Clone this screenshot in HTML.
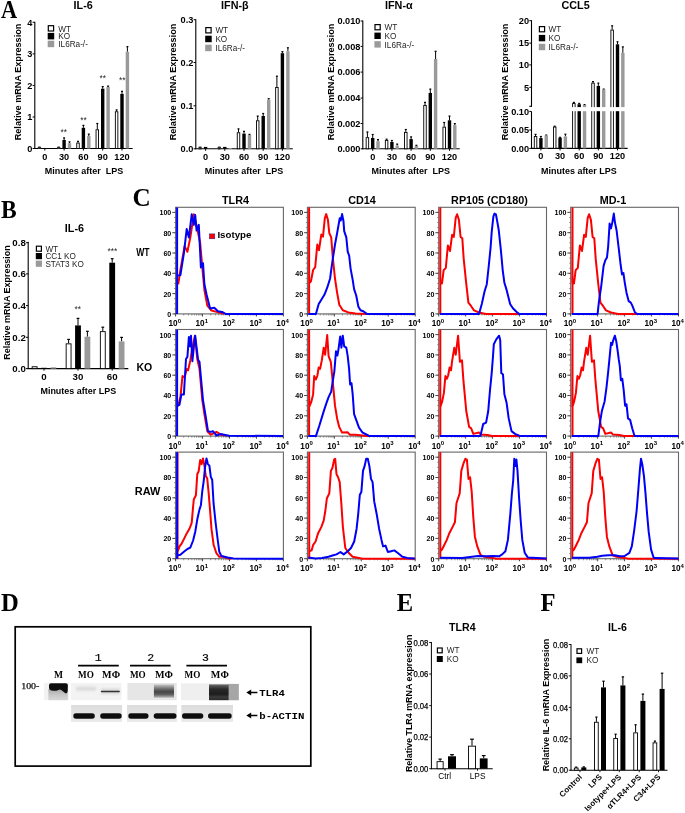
<!DOCTYPE html>
<html><head><meta charset="utf-8"><title>Figure</title>
<style>html,body{margin:0;padding:0;background:#fff;} svg{display:block;will-change:transform;}</style>
</head><body>
<svg width="685" height="813" viewBox="0 0 685 813">
<defs><filter id="gblur" x="0" y="0" width="100%" height="100%"><feGaussianBlur stdDeviation="0.35"/></filter></defs><g filter="url(#gblur)"><rect x="0" y="0" width="685" height="813" fill="#fff"/>
<text transform="translate(1.00 17.90) scale(0.86 1)" x="0" y="0" font-size="26" font-family='"Liberation Serif", serif' font-weight="bold">A</text>
<line x1="34.80" y1="21.80" x2="34.80" y2="149.00" stroke="#000" stroke-width="1.1" />
<line x1="34.30" y1="148.50" x2="132.70" y2="148.50" stroke="#000" stroke-width="1.1" />
<line x1="32.60" y1="22.30" x2="34.80" y2="22.30" stroke="#000" stroke-width="1.0" />
<text x="32.40" y="25.59" font-size="9.2" font-family='"Liberation Sans", sans-serif' font-weight="bold" text-anchor="end" fill="#000" >4</text>
<line x1="32.60" y1="53.90" x2="34.80" y2="53.90" stroke="#000" stroke-width="1.0" />
<text x="32.40" y="57.19" font-size="9.2" font-family='"Liberation Sans", sans-serif' font-weight="bold" text-anchor="end" fill="#000" >3</text>
<line x1="32.60" y1="85.40" x2="34.80" y2="85.40" stroke="#000" stroke-width="1.0" />
<text x="32.40" y="88.69" font-size="9.2" font-family='"Liberation Sans", sans-serif' font-weight="bold" text-anchor="end" fill="#000" >2</text>
<line x1="32.60" y1="117.00" x2="34.80" y2="117.00" stroke="#000" stroke-width="1.0" />
<text x="32.40" y="120.29" font-size="9.2" font-family='"Liberation Sans", sans-serif' font-weight="bold" text-anchor="end" fill="#000" >1</text>
<line x1="32.60" y1="148.50" x2="34.80" y2="148.50" stroke="#000" stroke-width="1.0" />
<text x="32.40" y="151.79" font-size="9.2" font-family='"Liberation Sans", sans-serif' font-weight="bold" text-anchor="end" fill="#000" >0</text>
<line x1="44.80" y1="148.50" x2="44.80" y2="150.50" stroke="#000" stroke-width="1.0" />
<text x="44.80" y="159.50" font-size="9.2" font-family='"Liberation Sans", sans-serif' font-weight="bold" text-anchor="middle" fill="#000" >0</text>
<line x1="64.10" y1="148.50" x2="64.10" y2="150.50" stroke="#000" stroke-width="1.0" />
<text x="64.10" y="159.50" font-size="9.2" font-family='"Liberation Sans", sans-serif' font-weight="bold" text-anchor="middle" fill="#000" >30</text>
<line x1="83.40" y1="148.50" x2="83.40" y2="150.50" stroke="#000" stroke-width="1.0" />
<text x="83.40" y="159.50" font-size="9.2" font-family='"Liberation Sans", sans-serif' font-weight="bold" text-anchor="middle" fill="#000" >60</text>
<line x1="102.70" y1="148.50" x2="102.70" y2="150.50" stroke="#000" stroke-width="1.0" />
<text x="102.70" y="159.50" font-size="9.2" font-family='"Liberation Sans", sans-serif' font-weight="bold" text-anchor="middle" fill="#000" >90</text>
<line x1="122.00" y1="148.50" x2="122.00" y2="150.50" stroke="#000" stroke-width="1.0" />
<text x="122.00" y="159.50" font-size="9.2" font-family='"Liberation Sans", sans-serif' font-weight="bold" text-anchor="middle" fill="#000" >120</text>
<rect x="37.70" y="146.40" width="3.40" height="2.70" rx="1.20" fill="#2a2a2a"/>
<rect x="43.10" y="148.00" width="3.40" height="0.50" fill="#000" stroke="none" stroke-width="0" />
<rect x="57.00" y="146.40" width="3.40" height="2.70" rx="1.20" fill="#2a2a2a"/>
<line x1="64.10" y1="137.80" x2="64.10" y2="140.00" stroke="#000" stroke-width="1.0" />
<line x1="63.10" y1="137.90" x2="65.10" y2="137.90" stroke="#000" stroke-width="1.2" />
<rect x="62.40" y="140.00" width="3.40" height="8.50" fill="#000" stroke="none" stroke-width="0" />
<line x1="69.50" y1="141.80" x2="69.50" y2="143.20" stroke="#000" stroke-width="1.0" />
<line x1="68.50" y1="141.90" x2="70.50" y2="141.90" stroke="#000" stroke-width="1.2" />
<rect x="67.80" y="143.20" width="3.40" height="5.30" fill="#9a9a9a" stroke="none" stroke-width="0" />
<line x1="78.00" y1="141.30" x2="78.00" y2="142.60" stroke="#000" stroke-width="1.0" />
<line x1="77.00" y1="141.40" x2="79.00" y2="141.40" stroke="#000" stroke-width="1.2" />
<rect x="76.75" y="143.05" width="2.50" height="5.45" fill="#fff" stroke="#000" stroke-width="0.9" />
<line x1="83.40" y1="125.30" x2="83.40" y2="127.80" stroke="#000" stroke-width="1.0" />
<line x1="82.40" y1="125.40" x2="84.40" y2="125.40" stroke="#000" stroke-width="1.2" />
<rect x="81.70" y="127.80" width="3.40" height="20.70" fill="#000" stroke="none" stroke-width="0" />
<line x1="88.80" y1="134.00" x2="88.80" y2="136.00" stroke="#000" stroke-width="1.0" />
<line x1="87.80" y1="134.10" x2="89.80" y2="134.10" stroke="#000" stroke-width="1.2" />
<rect x="87.10" y="136.00" width="3.40" height="12.50" fill="#9a9a9a" stroke="none" stroke-width="0" />
<line x1="97.30" y1="123.40" x2="97.30" y2="129.30" stroke="#000" stroke-width="1.0" />
<line x1="96.30" y1="123.50" x2="98.30" y2="123.50" stroke="#000" stroke-width="1.2" />
<rect x="96.05" y="129.75" width="2.50" height="18.75" fill="#fff" stroke="#000" stroke-width="0.9" />
<line x1="102.70" y1="86.50" x2="102.70" y2="88.70" stroke="#000" stroke-width="1.0" />
<line x1="101.70" y1="86.60" x2="103.70" y2="86.60" stroke="#000" stroke-width="1.2" />
<rect x="101.00" y="88.70" width="3.40" height="59.80" fill="#000" stroke="none" stroke-width="0" />
<line x1="108.10" y1="86.00" x2="108.10" y2="87.00" stroke="#000" stroke-width="1.0" />
<line x1="107.10" y1="86.10" x2="109.10" y2="86.10" stroke="#000" stroke-width="1.2" />
<rect x="106.40" y="87.00" width="3.40" height="61.50" fill="#9a9a9a" stroke="none" stroke-width="0" />
<line x1="116.60" y1="109.80" x2="116.60" y2="111.30" stroke="#000" stroke-width="1.0" />
<line x1="115.60" y1="109.90" x2="117.60" y2="109.90" stroke="#000" stroke-width="1.2" />
<rect x="115.35" y="111.75" width="2.50" height="36.75" fill="#fff" stroke="#000" stroke-width="0.9" />
<line x1="122.00" y1="91.30" x2="122.00" y2="93.90" stroke="#000" stroke-width="1.0" />
<line x1="121.00" y1="91.40" x2="123.00" y2="91.40" stroke="#000" stroke-width="1.2" />
<rect x="120.30" y="93.90" width="3.40" height="54.60" fill="#000" stroke="none" stroke-width="0" />
<line x1="127.40" y1="46.60" x2="127.40" y2="51.80" stroke="#000" stroke-width="1.0" />
<line x1="126.40" y1="46.70" x2="128.40" y2="46.70" stroke="#000" stroke-width="1.2" />
<rect x="125.70" y="51.80" width="3.40" height="96.70" fill="#9a9a9a" stroke="none" stroke-width="0" />
<text x="83.20" y="8.70" font-size="10.8" font-family='"Liberation Sans", sans-serif' font-weight="bold" text-anchor="middle" fill="#000" >IL-6</text>
<rect x="48.30" y="25.70" width="5.30" height="5.30" fill="#fff" stroke="#000" stroke-width="1.2" />
<text x="58.30" y="31.50" font-size="8.2" font-family='"Liberation Sans", sans-serif' font-weight="normal" text-anchor="start" fill="#1e1e1e" >WT</text>
<rect x="47.70" y="32.90" width="6.50" height="6.50" fill="#000" stroke="none" stroke-width="0" />
<text x="58.30" y="39.30" font-size="8.2" font-family='"Liberation Sans", sans-serif' font-weight="normal" text-anchor="start" fill="#1e1e1e" >KO</text>
<rect x="47.70" y="40.70" width="6.50" height="6.50" fill="#9a9a9a" stroke="none" stroke-width="0" />
<text x="58.30" y="47.10" font-size="8.2" font-family='"Liberation Sans", sans-serif' font-weight="normal" text-anchor="start" fill="#1e1e1e" >IL6Ra-/-</text>
<text x="63.80" y="134.80" font-size="8.4" font-family='"Liberation Sans", sans-serif' font-weight="normal" text-anchor="middle" fill="#222" >**</text>
<text x="83.60" y="122.50" font-size="8.4" font-family='"Liberation Sans", sans-serif' font-weight="normal" text-anchor="middle" fill="#222" >**</text>
<text x="102.80" y="80.60" font-size="8.4" font-family='"Liberation Sans", sans-serif' font-weight="normal" text-anchor="middle" fill="#222" >**</text>
<text x="122.20" y="82.50" font-size="8.4" font-family='"Liberation Sans", sans-serif' font-weight="normal" text-anchor="middle" fill="#222" >**</text>
<text x="84.00" y="174.30" font-size="8.6" font-family='"Liberation Sans", sans-serif' font-weight="bold" text-anchor="middle" fill="#000" textLength="78.6" lengthAdjust="spacingAndGlyphs" >Minutes after&#160;&#160;LPS</text>
<text x="21.20" y="82.00" font-size="8.6" font-family='"Liberation Sans", sans-serif' font-weight="bold" text-anchor="middle" fill="#000" textLength="116.6" lengthAdjust="spacingAndGlyphs" transform="rotate(-90 21.20 82.00)" >Relative mRNA Expression</text>
<line x1="195.80" y1="19.20" x2="195.80" y2="149.30" stroke="#000" stroke-width="1.1" />
<line x1="195.30" y1="148.80" x2="292.80" y2="148.80" stroke="#000" stroke-width="1.1" />
<line x1="193.60" y1="19.70" x2="195.80" y2="19.70" stroke="#000" stroke-width="1.0" />
<text x="193.40" y="22.99" font-size="9.2" font-family='"Liberation Sans", sans-serif' font-weight="bold" text-anchor="end" fill="#000" >0.3</text>
<line x1="193.60" y1="62.50" x2="195.80" y2="62.50" stroke="#000" stroke-width="1.0" />
<text x="193.40" y="65.79" font-size="9.2" font-family='"Liberation Sans", sans-serif' font-weight="bold" text-anchor="end" fill="#000" >0.2</text>
<line x1="193.60" y1="105.80" x2="195.80" y2="105.80" stroke="#000" stroke-width="1.0" />
<text x="193.40" y="109.09" font-size="9.2" font-family='"Liberation Sans", sans-serif' font-weight="bold" text-anchor="end" fill="#000" >0.1</text>
<line x1="193.60" y1="148.80" x2="195.80" y2="148.80" stroke="#000" stroke-width="1.0" />
<text x="193.40" y="152.09" font-size="9.2" font-family='"Liberation Sans", sans-serif' font-weight="bold" text-anchor="end" fill="#000" >0.0</text>
<line x1="205.60" y1="148.80" x2="205.60" y2="150.80" stroke="#000" stroke-width="1.0" />
<text x="205.60" y="159.80" font-size="9.2" font-family='"Liberation Sans", sans-serif' font-weight="bold" text-anchor="middle" fill="#000" >0</text>
<line x1="224.80" y1="148.80" x2="224.80" y2="150.80" stroke="#000" stroke-width="1.0" />
<text x="224.80" y="159.80" font-size="9.2" font-family='"Liberation Sans", sans-serif' font-weight="bold" text-anchor="middle" fill="#000" >30</text>
<line x1="244.00" y1="148.80" x2="244.00" y2="150.80" stroke="#000" stroke-width="1.0" />
<text x="244.00" y="159.80" font-size="9.2" font-family='"Liberation Sans", sans-serif' font-weight="bold" text-anchor="middle" fill="#000" >60</text>
<line x1="263.20" y1="148.80" x2="263.20" y2="150.80" stroke="#000" stroke-width="1.0" />
<text x="263.20" y="159.80" font-size="9.2" font-family='"Liberation Sans", sans-serif' font-weight="bold" text-anchor="middle" fill="#000" >90</text>
<line x1="282.40" y1="148.80" x2="282.40" y2="150.80" stroke="#000" stroke-width="1.0" />
<text x="282.40" y="159.80" font-size="9.2" font-family='"Liberation Sans", sans-serif' font-weight="bold" text-anchor="middle" fill="#000" >120</text>
<rect x="198.40" y="146.40" width="3.40" height="3.00" rx="1.20" fill="#2a2a2a"/>
<rect x="203.90" y="146.90" width="3.40" height="1.90" fill="#000" stroke="none" stroke-width="0" />
<rect x="217.60" y="146.40" width="3.40" height="3.00" rx="1.20" fill="#2a2a2a"/>
<rect x="223.10" y="146.90" width="3.40" height="1.90" fill="#000" stroke="none" stroke-width="0" />
<rect x="228.60" y="148.00" width="3.40" height="0.80" fill="#9a9a9a" stroke="none" stroke-width="0" />
<line x1="238.50" y1="128.80" x2="238.50" y2="132.30" stroke="#000" stroke-width="1.0" />
<line x1="237.50" y1="128.90" x2="239.50" y2="128.90" stroke="#000" stroke-width="1.2" />
<rect x="237.25" y="132.75" width="2.50" height="16.05" fill="#fff" stroke="#000" stroke-width="0.9" />
<line x1="244.00" y1="131.20" x2="244.00" y2="133.60" stroke="#000" stroke-width="1.0" />
<line x1="243.00" y1="131.30" x2="245.00" y2="131.30" stroke="#000" stroke-width="1.2" />
<rect x="242.30" y="133.60" width="3.40" height="15.20" fill="#000" stroke="none" stroke-width="0" />
<line x1="249.50" y1="134.30" x2="249.50" y2="135.00" stroke="#000" stroke-width="1.0" />
<line x1="248.50" y1="134.40" x2="250.50" y2="134.40" stroke="#000" stroke-width="1.2" />
<rect x="247.80" y="135.00" width="3.40" height="13.80" fill="#9a9a9a" stroke="none" stroke-width="0" />
<line x1="257.70" y1="116.00" x2="257.70" y2="120.30" stroke="#000" stroke-width="1.0" />
<line x1="256.70" y1="116.10" x2="258.70" y2="116.10" stroke="#000" stroke-width="1.2" />
<rect x="256.45" y="120.75" width="2.50" height="28.05" fill="#fff" stroke="#000" stroke-width="0.9" />
<line x1="263.20" y1="113.40" x2="263.20" y2="116.00" stroke="#000" stroke-width="1.0" />
<line x1="262.20" y1="113.50" x2="264.20" y2="113.50" stroke="#000" stroke-width="1.2" />
<rect x="261.50" y="116.00" width="3.40" height="32.80" fill="#000" stroke="none" stroke-width="0" />
<line x1="268.70" y1="98.60" x2="268.70" y2="99.70" stroke="#000" stroke-width="1.0" />
<line x1="267.70" y1="98.70" x2="269.70" y2="98.70" stroke="#000" stroke-width="1.2" />
<rect x="267.00" y="99.70" width="3.40" height="49.10" fill="#9a9a9a" stroke="none" stroke-width="0" />
<line x1="276.90" y1="76.10" x2="276.90" y2="87.00" stroke="#000" stroke-width="1.0" />
<line x1="275.90" y1="76.20" x2="277.90" y2="76.20" stroke="#000" stroke-width="1.2" />
<rect x="275.65" y="87.45" width="2.50" height="61.35" fill="#fff" stroke="#000" stroke-width="0.9" />
<line x1="282.40" y1="51.60" x2="282.40" y2="53.20" stroke="#000" stroke-width="1.0" />
<line x1="281.40" y1="51.70" x2="283.40" y2="51.70" stroke="#000" stroke-width="1.2" />
<rect x="280.70" y="53.20" width="3.40" height="95.60" fill="#000" stroke="none" stroke-width="0" />
<line x1="287.90" y1="47.70" x2="287.90" y2="51.20" stroke="#000" stroke-width="1.0" />
<line x1="286.90" y1="47.80" x2="288.90" y2="47.80" stroke="#000" stroke-width="1.2" />
<rect x="286.20" y="51.20" width="3.40" height="97.60" fill="#9a9a9a" stroke="none" stroke-width="0" />
<text x="234.90" y="8.70" font-size="10.8" font-family='"Liberation Sans", sans-serif' font-weight="bold" text-anchor="middle" fill="#000" >IFN-β</text>
<rect x="205.80" y="27.60" width="5.30" height="5.30" fill="#fff" stroke="#000" stroke-width="1.2" />
<text x="215.40" y="33.40" font-size="8.2" font-family='"Liberation Sans", sans-serif' font-weight="normal" text-anchor="start" fill="#1e1e1e" >WT</text>
<rect x="205.20" y="35.70" width="6.50" height="6.50" fill="#000" stroke="none" stroke-width="0" />
<text x="215.40" y="42.10" font-size="8.2" font-family='"Liberation Sans", sans-serif' font-weight="normal" text-anchor="start" fill="#1e1e1e" >KO</text>
<rect x="205.20" y="44.70" width="6.50" height="6.50" fill="#9a9a9a" stroke="none" stroke-width="0" />
<text x="215.40" y="51.10" font-size="8.2" font-family='"Liberation Sans", sans-serif' font-weight="normal" text-anchor="start" fill="#1e1e1e" >IL6Ra-/-</text>
<text x="244.00" y="174.30" font-size="8.6" font-family='"Liberation Sans", sans-serif' font-weight="bold" text-anchor="middle" fill="#000" textLength="78.6" lengthAdjust="spacingAndGlyphs" >Minutes after&#160;&#160;LPS</text>
<text x="176.00" y="82.00" font-size="8.6" font-family='"Liberation Sans", sans-serif' font-weight="bold" text-anchor="middle" fill="#000" textLength="116.6" lengthAdjust="spacingAndGlyphs" transform="rotate(-90 176.00 82.00)" >Relative mRNA Expression</text>
<line x1="362.80" y1="20.50" x2="362.80" y2="149.30" stroke="#000" stroke-width="1.1" />
<line x1="362.30" y1="148.80" x2="459.70" y2="148.80" stroke="#000" stroke-width="1.1" />
<line x1="360.60" y1="21.00" x2="362.80" y2="21.00" stroke="#000" stroke-width="1.0" />
<text x="360.40" y="24.29" font-size="9.2" font-family='"Liberation Sans", sans-serif' font-weight="bold" text-anchor="end" fill="#000" >0.010</text>
<line x1="360.60" y1="46.40" x2="362.80" y2="46.40" stroke="#000" stroke-width="1.0" />
<text x="360.40" y="49.69" font-size="9.2" font-family='"Liberation Sans", sans-serif' font-weight="bold" text-anchor="end" fill="#000" >0.008</text>
<line x1="360.60" y1="72.10" x2="362.80" y2="72.10" stroke="#000" stroke-width="1.0" />
<text x="360.40" y="75.39" font-size="9.2" font-family='"Liberation Sans", sans-serif' font-weight="bold" text-anchor="end" fill="#000" >0.006</text>
<line x1="360.60" y1="98.10" x2="362.80" y2="98.10" stroke="#000" stroke-width="1.0" />
<text x="360.40" y="101.39" font-size="9.2" font-family='"Liberation Sans", sans-serif' font-weight="bold" text-anchor="end" fill="#000" >0.004</text>
<line x1="360.60" y1="123.50" x2="362.80" y2="123.50" stroke="#000" stroke-width="1.0" />
<text x="360.40" y="126.79" font-size="9.2" font-family='"Liberation Sans", sans-serif' font-weight="bold" text-anchor="end" fill="#000" >0.002</text>
<line x1="360.60" y1="148.80" x2="362.80" y2="148.80" stroke="#000" stroke-width="1.0" />
<text x="360.40" y="152.09" font-size="9.2" font-family='"Liberation Sans", sans-serif' font-weight="bold" text-anchor="end" fill="#000" >0.000</text>
<line x1="372.70" y1="148.80" x2="372.70" y2="150.80" stroke="#000" stroke-width="1.0" />
<text x="372.70" y="159.80" font-size="9.2" font-family='"Liberation Sans", sans-serif' font-weight="bold" text-anchor="middle" fill="#000" >0</text>
<line x1="391.90" y1="148.80" x2="391.90" y2="150.80" stroke="#000" stroke-width="1.0" />
<text x="391.90" y="159.80" font-size="9.2" font-family='"Liberation Sans", sans-serif' font-weight="bold" text-anchor="middle" fill="#000" >30</text>
<line x1="411.10" y1="148.80" x2="411.10" y2="150.80" stroke="#000" stroke-width="1.0" />
<text x="411.10" y="159.80" font-size="9.2" font-family='"Liberation Sans", sans-serif' font-weight="bold" text-anchor="middle" fill="#000" >60</text>
<line x1="430.30" y1="148.80" x2="430.30" y2="150.80" stroke="#000" stroke-width="1.0" />
<text x="430.30" y="159.80" font-size="9.2" font-family='"Liberation Sans", sans-serif' font-weight="bold" text-anchor="middle" fill="#000" >90</text>
<line x1="449.50" y1="148.80" x2="449.50" y2="150.80" stroke="#000" stroke-width="1.0" />
<text x="449.50" y="159.80" font-size="9.2" font-family='"Liberation Sans", sans-serif' font-weight="bold" text-anchor="middle" fill="#000" >120</text>
<line x1="367.40" y1="131.90" x2="367.40" y2="137.20" stroke="#000" stroke-width="1.0" />
<line x1="366.40" y1="132.00" x2="368.40" y2="132.00" stroke="#000" stroke-width="1.2" />
<rect x="366.15" y="137.65" width="2.50" height="11.15" fill="#fff" stroke="#000" stroke-width="0.9" />
<line x1="372.70" y1="134.40" x2="372.70" y2="138.00" stroke="#000" stroke-width="1.0" />
<line x1="371.70" y1="134.50" x2="373.70" y2="134.50" stroke="#000" stroke-width="1.2" />
<rect x="371.00" y="138.00" width="3.40" height="10.80" fill="#000" stroke="none" stroke-width="0" />
<line x1="378.00" y1="139.60" x2="378.00" y2="141.20" stroke="#000" stroke-width="1.0" />
<line x1="377.00" y1="139.70" x2="379.00" y2="139.70" stroke="#000" stroke-width="1.2" />
<rect x="376.30" y="141.20" width="3.40" height="7.60" fill="#9a9a9a" stroke="none" stroke-width="0" />
<line x1="386.60" y1="139.10" x2="386.60" y2="139.90" stroke="#000" stroke-width="1.0" />
<line x1="385.60" y1="139.20" x2="387.60" y2="139.20" stroke="#000" stroke-width="1.2" />
<rect x="385.35" y="140.35" width="2.50" height="8.45" fill="#fff" stroke="#000" stroke-width="0.9" />
<line x1="391.90" y1="140.40" x2="391.90" y2="142.00" stroke="#000" stroke-width="1.0" />
<line x1="390.90" y1="140.50" x2="392.90" y2="140.50" stroke="#000" stroke-width="1.2" />
<rect x="390.20" y="142.00" width="3.40" height="6.80" fill="#000" stroke="none" stroke-width="0" />
<line x1="397.20" y1="144.00" x2="397.20" y2="145.70" stroke="#000" stroke-width="1.0" />
<line x1="396.20" y1="144.10" x2="398.20" y2="144.10" stroke="#000" stroke-width="1.2" />
<rect x="395.50" y="145.70" width="3.40" height="3.10" fill="#9a9a9a" stroke="none" stroke-width="0" />
<line x1="405.80" y1="129.40" x2="405.80" y2="131.90" stroke="#000" stroke-width="1.0" />
<line x1="404.80" y1="129.50" x2="406.80" y2="129.50" stroke="#000" stroke-width="1.2" />
<rect x="404.55" y="132.35" width="2.50" height="16.45" fill="#fff" stroke="#000" stroke-width="0.9" />
<line x1="411.10" y1="136.80" x2="411.10" y2="139.10" stroke="#000" stroke-width="1.0" />
<line x1="410.10" y1="136.90" x2="412.10" y2="136.90" stroke="#000" stroke-width="1.2" />
<rect x="409.40" y="139.10" width="3.40" height="9.70" fill="#000" stroke="none" stroke-width="0" />
<line x1="416.40" y1="145.20" x2="416.40" y2="146.00" stroke="#000" stroke-width="1.0" />
<line x1="415.40" y1="145.30" x2="417.40" y2="145.30" stroke="#000" stroke-width="1.2" />
<rect x="414.70" y="146.00" width="3.40" height="2.80" fill="#9a9a9a" stroke="none" stroke-width="0" />
<line x1="425.00" y1="102.30" x2="425.00" y2="105.00" stroke="#000" stroke-width="1.0" />
<line x1="424.00" y1="102.40" x2="426.00" y2="102.40" stroke="#000" stroke-width="1.2" />
<rect x="423.75" y="105.45" width="2.50" height="43.35" fill="#fff" stroke="#000" stroke-width="0.9" />
<line x1="430.30" y1="89.00" x2="430.30" y2="93.00" stroke="#000" stroke-width="1.0" />
<line x1="429.30" y1="89.10" x2="431.30" y2="89.10" stroke="#000" stroke-width="1.2" />
<rect x="428.60" y="93.00" width="3.40" height="55.80" fill="#000" stroke="none" stroke-width="0" />
<line x1="435.60" y1="51.20" x2="435.60" y2="59.00" stroke="#000" stroke-width="1.0" />
<line x1="434.60" y1="51.30" x2="436.60" y2="51.30" stroke="#000" stroke-width="1.2" />
<rect x="433.90" y="59.00" width="3.40" height="89.80" fill="#9a9a9a" stroke="none" stroke-width="0" />
<line x1="444.20" y1="122.40" x2="444.20" y2="126.70" stroke="#000" stroke-width="1.0" />
<line x1="443.20" y1="122.50" x2="445.20" y2="122.50" stroke="#000" stroke-width="1.2" />
<rect x="442.95" y="127.15" width="2.50" height="21.65" fill="#fff" stroke="#000" stroke-width="0.9" />
<line x1="449.50" y1="116.00" x2="449.50" y2="120.30" stroke="#000" stroke-width="1.0" />
<line x1="448.50" y1="116.10" x2="450.50" y2="116.10" stroke="#000" stroke-width="1.2" />
<rect x="447.80" y="120.30" width="3.40" height="28.50" fill="#000" stroke="none" stroke-width="0" />
<line x1="454.80" y1="123.50" x2="454.80" y2="125.10" stroke="#000" stroke-width="1.0" />
<line x1="453.80" y1="123.60" x2="455.80" y2="123.60" stroke="#000" stroke-width="1.2" />
<rect x="453.10" y="125.10" width="3.40" height="23.70" fill="#9a9a9a" stroke="none" stroke-width="0" />
<text x="398.80" y="8.70" font-size="10.8" font-family='"Liberation Sans", sans-serif' font-weight="bold" text-anchor="middle" fill="#000" >IFN-α</text>
<rect x="375.00" y="24.60" width="5.20" height="5.20" fill="#fff" stroke="#000" stroke-width="1.2" />
<text x="384.60" y="30.30" font-size="8.2" font-family='"Liberation Sans", sans-serif' font-weight="normal" text-anchor="start" fill="#1e1e1e" >WT</text>
<rect x="374.40" y="32.60" width="6.40" height="6.40" fill="#000" stroke="none" stroke-width="0" />
<text x="384.60" y="38.90" font-size="8.2" font-family='"Liberation Sans", sans-serif' font-weight="normal" text-anchor="start" fill="#1e1e1e" >KO</text>
<rect x="374.40" y="41.20" width="6.40" height="6.40" fill="#9a9a9a" stroke="none" stroke-width="0" />
<text x="384.60" y="47.50" font-size="8.2" font-family='"Liberation Sans", sans-serif' font-weight="normal" text-anchor="start" fill="#1e1e1e" >IL6Ra-/-</text>
<text x="410.80" y="174.30" font-size="8.6" font-family='"Liberation Sans", sans-serif' font-weight="bold" text-anchor="middle" fill="#000" textLength="78.6" lengthAdjust="spacingAndGlyphs" >Minutes after&#160;&#160;LPS</text>
<text x="334.20" y="82.00" font-size="8.6" font-family='"Liberation Sans", sans-serif' font-weight="bold" text-anchor="middle" fill="#000" textLength="116.6" lengthAdjust="spacingAndGlyphs" transform="rotate(-90 334.20 82.00)" >Relative mRNA Expression</text>
<line x1="531.50" y1="20.20" x2="531.50" y2="106.60" stroke="#000" stroke-width="1.1" />
<line x1="531.50" y1="111.40" x2="531.50" y2="148.90" stroke="#000" stroke-width="1.1" />
<line x1="529.30" y1="106.30" x2="532.00" y2="106.30" stroke="#000" stroke-width="1.1" />
<line x1="531.00" y1="148.40" x2="627.60" y2="148.40" stroke="#000" stroke-width="1.1" />
<line x1="529.30" y1="20.70" x2="531.50" y2="20.70" stroke="#000" stroke-width="1.0" />
<text x="529.10" y="24.00" font-size="9.2" font-family='"Liberation Sans", sans-serif' font-weight="bold" text-anchor="end" fill="#000" >20</text>
<line x1="529.30" y1="43.10" x2="531.50" y2="43.10" stroke="#000" stroke-width="1.0" />
<text x="529.10" y="46.40" font-size="9.2" font-family='"Liberation Sans", sans-serif' font-weight="bold" text-anchor="end" fill="#000" >15</text>
<line x1="529.30" y1="64.90" x2="531.50" y2="64.90" stroke="#000" stroke-width="1.0" />
<text x="529.10" y="68.20" font-size="9.2" font-family='"Liberation Sans", sans-serif' font-weight="bold" text-anchor="end" fill="#000" >10</text>
<line x1="529.30" y1="87.30" x2="531.50" y2="87.30" stroke="#000" stroke-width="1.0" />
<text x="529.10" y="90.60" font-size="9.2" font-family='"Liberation Sans", sans-serif' font-weight="bold" text-anchor="end" fill="#000" >5</text>
<line x1="529.30" y1="111.40" x2="531.50" y2="111.40" stroke="#000" stroke-width="1.0" />
<text x="529.10" y="114.70" font-size="9.2" font-family='"Liberation Sans", sans-serif' font-weight="bold" text-anchor="end" fill="#000" >0.10</text>
<line x1="529.30" y1="130.00" x2="531.50" y2="130.00" stroke="#000" stroke-width="1.0" />
<text x="529.10" y="133.30" font-size="9.2" font-family='"Liberation Sans", sans-serif' font-weight="bold" text-anchor="end" fill="#000" >0.05</text>
<line x1="529.30" y1="148.40" x2="531.50" y2="148.40" stroke="#000" stroke-width="1.0" />
<text x="529.10" y="151.70" font-size="9.2" font-family='"Liberation Sans", sans-serif' font-weight="bold" text-anchor="end" fill="#000" >0.00</text>
<line x1="540.90" y1="148.40" x2="540.90" y2="150.40" stroke="#000" stroke-width="1.0" />
<text x="540.90" y="159.40" font-size="9.2" font-family='"Liberation Sans", sans-serif' font-weight="bold" text-anchor="middle" fill="#000" >0</text>
<line x1="560.05" y1="148.40" x2="560.05" y2="150.40" stroke="#000" stroke-width="1.0" />
<text x="560.05" y="159.40" font-size="9.2" font-family='"Liberation Sans", sans-serif' font-weight="bold" text-anchor="middle" fill="#000" >30</text>
<line x1="579.20" y1="148.40" x2="579.20" y2="150.40" stroke="#000" stroke-width="1.0" />
<text x="579.20" y="159.40" font-size="9.2" font-family='"Liberation Sans", sans-serif' font-weight="bold" text-anchor="middle" fill="#000" >60</text>
<line x1="598.35" y1="148.40" x2="598.35" y2="150.40" stroke="#000" stroke-width="1.0" />
<text x="598.35" y="159.40" font-size="9.2" font-family='"Liberation Sans", sans-serif' font-weight="bold" text-anchor="middle" fill="#000" >90</text>
<line x1="617.50" y1="148.40" x2="617.50" y2="150.40" stroke="#000" stroke-width="1.0" />
<text x="617.50" y="159.40" font-size="9.2" font-family='"Liberation Sans", sans-serif' font-weight="bold" text-anchor="middle" fill="#000" >120</text>
<line x1="535.55" y1="134.30" x2="535.55" y2="136.00" stroke="#000" stroke-width="1.0" />
<line x1="534.55" y1="134.40" x2="536.55" y2="134.40" stroke="#000" stroke-width="1.2" />
<rect x="534.30" y="136.45" width="2.50" height="11.95" fill="#fff" stroke="#000" stroke-width="0.9" />
<line x1="540.90" y1="136.40" x2="540.90" y2="138.10" stroke="#000" stroke-width="1.0" />
<line x1="539.90" y1="136.50" x2="541.90" y2="136.50" stroke="#000" stroke-width="1.2" />
<rect x="539.20" y="138.10" width="3.40" height="10.30" fill="#000" stroke="none" stroke-width="0" />
<line x1="546.25" y1="135.00" x2="546.25" y2="135.50" stroke="#000" stroke-width="1.0" />
<line x1="545.25" y1="135.10" x2="547.25" y2="135.10" stroke="#000" stroke-width="1.2" />
<rect x="544.55" y="135.50" width="3.40" height="12.90" fill="#9a9a9a" stroke="none" stroke-width="0" />
<line x1="554.70" y1="126.10" x2="554.70" y2="126.60" stroke="#000" stroke-width="1.0" />
<line x1="553.70" y1="126.20" x2="555.70" y2="126.20" stroke="#000" stroke-width="1.2" />
<rect x="553.45" y="127.05" width="2.50" height="21.35" fill="#fff" stroke="#000" stroke-width="0.9" />
<line x1="560.05" y1="137.20" x2="560.05" y2="137.70" stroke="#000" stroke-width="1.0" />
<line x1="559.05" y1="137.30" x2="561.05" y2="137.30" stroke="#000" stroke-width="1.2" />
<rect x="558.35" y="137.70" width="3.40" height="10.70" fill="#000" stroke="none" stroke-width="0" />
<line x1="565.40" y1="134.10" x2="565.40" y2="136.40" stroke="#000" stroke-width="1.0" />
<line x1="564.40" y1="134.20" x2="566.40" y2="134.20" stroke="#000" stroke-width="1.2" />
<rect x="563.70" y="136.40" width="3.40" height="12.00" fill="#9a9a9a" stroke="none" stroke-width="0" />
<line x1="573.85" y1="102.30" x2="573.85" y2="103.10" stroke="#000" stroke-width="1.0" />
<line x1="572.85" y1="102.40" x2="574.85" y2="102.40" stroke="#000" stroke-width="1.2" />
<rect x="572.60" y="103.55" width="2.50" height="44.85" fill="#fff" stroke="#000" stroke-width="0.9" />
<line x1="579.20" y1="103.30" x2="579.20" y2="104.20" stroke="#000" stroke-width="1.0" />
<line x1="578.20" y1="103.40" x2="580.20" y2="103.40" stroke="#000" stroke-width="1.2" />
<rect x="577.50" y="104.20" width="3.40" height="44.20" fill="#000" stroke="none" stroke-width="0" />
<line x1="584.55" y1="104.50" x2="584.55" y2="105.00" stroke="#000" stroke-width="1.0" />
<line x1="583.55" y1="104.60" x2="585.55" y2="104.60" stroke="#000" stroke-width="1.2" />
<rect x="582.85" y="105.00" width="3.40" height="43.40" fill="#9a9a9a" stroke="none" stroke-width="0" />
<line x1="593.00" y1="81.60" x2="593.00" y2="82.70" stroke="#000" stroke-width="1.0" />
<line x1="592.00" y1="81.70" x2="594.00" y2="81.70" stroke="#000" stroke-width="1.2" />
<rect x="591.75" y="83.15" width="2.50" height="65.25" fill="#fff" stroke="#000" stroke-width="0.9" />
<line x1="598.35" y1="83.00" x2="598.35" y2="85.90" stroke="#000" stroke-width="1.0" />
<line x1="597.35" y1="83.10" x2="599.35" y2="83.10" stroke="#000" stroke-width="1.2" />
<rect x="596.65" y="85.90" width="3.40" height="62.50" fill="#000" stroke="none" stroke-width="0" />
<line x1="603.70" y1="89.00" x2="603.70" y2="89.50" stroke="#000" stroke-width="1.0" />
<line x1="602.70" y1="89.10" x2="604.70" y2="89.10" stroke="#000" stroke-width="1.2" />
<rect x="602.00" y="89.50" width="3.40" height="58.90" fill="#9a9a9a" stroke="none" stroke-width="0" />
<line x1="612.15" y1="25.70" x2="612.15" y2="29.60" stroke="#000" stroke-width="1.0" />
<line x1="611.15" y1="25.80" x2="613.15" y2="25.80" stroke="#000" stroke-width="1.2" />
<rect x="610.90" y="30.05" width="2.50" height="118.35" fill="#fff" stroke="#000" stroke-width="0.9" />
<line x1="617.50" y1="41.70" x2="617.50" y2="44.30" stroke="#000" stroke-width="1.0" />
<line x1="616.50" y1="41.80" x2="618.50" y2="41.80" stroke="#000" stroke-width="1.2" />
<rect x="615.80" y="44.30" width="3.40" height="104.10" fill="#000" stroke="none" stroke-width="0" />
<line x1="622.85" y1="46.80" x2="622.85" y2="52.90" stroke="#000" stroke-width="1.0" />
<line x1="621.85" y1="46.90" x2="623.85" y2="46.90" stroke="#000" stroke-width="1.2" />
<rect x="621.15" y="52.90" width="3.40" height="95.50" fill="#9a9a9a" stroke="none" stroke-width="0" />
<rect x="570.00" y="107.10" width="58.00" height="4.10" fill="#fff" stroke="none" stroke-width="0" />
<text x="575.60" y="8.70" font-size="10.8" font-family='"Liberation Sans", sans-serif' font-weight="bold" text-anchor="middle" fill="#000" >CCL5</text>
<rect x="539.40" y="26.60" width="5.20" height="5.20" fill="#fff" stroke="#000" stroke-width="1.2" />
<text x="548.60" y="32.30" font-size="8.2" font-family='"Liberation Sans", sans-serif' font-weight="normal" text-anchor="start" fill="#1e1e1e" >WT</text>
<rect x="538.80" y="34.90" width="6.40" height="6.40" fill="#000" stroke="none" stroke-width="0" />
<text x="548.60" y="41.20" font-size="8.2" font-family='"Liberation Sans", sans-serif' font-weight="normal" text-anchor="start" fill="#1e1e1e" >KO</text>
<rect x="538.80" y="43.80" width="6.40" height="6.40" fill="#9a9a9a" stroke="none" stroke-width="0" />
<text x="548.60" y="50.10" font-size="8.2" font-family='"Liberation Sans", sans-serif' font-weight="normal" text-anchor="start" fill="#1e1e1e" >IL6Ra-/-</text>
<text x="578.90" y="174.30" font-size="8.6" font-family='"Liberation Sans", sans-serif' font-weight="bold" text-anchor="middle" fill="#000" textLength="75.7" lengthAdjust="spacingAndGlyphs" >Minutes after LPS</text>
<text x="508.30" y="82.00" font-size="8.6" font-family='"Liberation Sans", sans-serif' font-weight="bold" text-anchor="middle" fill="#000" textLength="116.6" lengthAdjust="spacingAndGlyphs" transform="rotate(-90 508.30 82.00)" >Relative mRNA Expression</text>
<text transform="translate(1.00 218.00) scale(0.92 1)" x="0" y="0" font-size="25.6" font-family='"Liberation Serif", serif' font-weight="bold">B</text>
<line x1="28.20" y1="241.70" x2="28.20" y2="369.10" stroke="#000" stroke-width="1.1" />
<line x1="27.70" y1="368.60" x2="128.30" y2="368.60" stroke="#000" stroke-width="1.1" />
<line x1="26.00" y1="242.70" x2="28.20" y2="242.70" stroke="#000" stroke-width="1.0" />
<text x="25.80" y="246.17" font-size="9.7" font-family='"Liberation Sans", sans-serif' font-weight="bold" text-anchor="end" fill="#000" >0.8</text>
<line x1="26.00" y1="273.90" x2="28.20" y2="273.90" stroke="#000" stroke-width="1.0" />
<text x="25.80" y="277.37" font-size="9.7" font-family='"Liberation Sans", sans-serif' font-weight="bold" text-anchor="end" fill="#000" >0.6</text>
<line x1="26.00" y1="305.60" x2="28.20" y2="305.60" stroke="#000" stroke-width="1.0" />
<text x="25.80" y="309.07" font-size="9.7" font-family='"Liberation Sans", sans-serif' font-weight="bold" text-anchor="end" fill="#000" >0.4</text>
<line x1="26.00" y1="337.30" x2="28.20" y2="337.30" stroke="#000" stroke-width="1.0" />
<text x="25.80" y="340.77" font-size="9.7" font-family='"Liberation Sans", sans-serif' font-weight="bold" text-anchor="end" fill="#000" >0.2</text>
<line x1="26.00" y1="368.60" x2="28.20" y2="368.60" stroke="#000" stroke-width="1.0" />
<text x="25.80" y="372.07" font-size="9.7" font-family='"Liberation Sans", sans-serif' font-weight="bold" text-anchor="end" fill="#000" >0.0</text>
<line x1="44.00" y1="368.60" x2="44.00" y2="370.60" stroke="#000" stroke-width="1.0" />
<text x="44.00" y="379.60" font-size="9.7" font-family='"Liberation Sans", sans-serif' font-weight="bold" text-anchor="middle" fill="#000" >0</text>
<line x1="78.00" y1="368.60" x2="78.00" y2="370.60" stroke="#000" stroke-width="1.0" />
<text x="78.00" y="379.60" font-size="9.7" font-family='"Liberation Sans", sans-serif' font-weight="bold" text-anchor="middle" fill="#000" >30</text>
<line x1="112.20" y1="368.60" x2="112.20" y2="370.60" stroke="#000" stroke-width="1.0" />
<text x="112.20" y="379.60" font-size="9.7" font-family='"Liberation Sans", sans-serif' font-weight="bold" text-anchor="middle" fill="#000" >60</text>
<rect x="32.15" y="366.75" width="4.90" height="1.85" fill="#fff" stroke="#000" stroke-width="0.9" />
<rect x="41.10" y="367.80" width="5.80" height="0.80" fill="#000" stroke="none" stroke-width="0" />
<rect x="50.50" y="367.30" width="5.80" height="1.30" fill="#9a9a9a" stroke="none" stroke-width="0" />
<line x1="68.60" y1="339.30" x2="68.60" y2="343.40" stroke="#000" stroke-width="1.0" />
<line x1="67.21" y1="339.40" x2="69.99" y2="339.40" stroke="#000" stroke-width="1.2" />
<rect x="66.15" y="343.85" width="4.90" height="24.75" fill="#fff" stroke="#000" stroke-width="0.9" />
<line x1="78.00" y1="318.30" x2="78.00" y2="325.40" stroke="#000" stroke-width="1.0" />
<line x1="76.61" y1="318.40" x2="79.39" y2="318.40" stroke="#000" stroke-width="1.2" />
<rect x="75.10" y="325.40" width="5.80" height="43.20" fill="#000" stroke="none" stroke-width="0" />
<line x1="87.40" y1="331.20" x2="87.40" y2="336.70" stroke="#000" stroke-width="1.0" />
<line x1="86.01" y1="331.30" x2="88.79" y2="331.30" stroke="#000" stroke-width="1.2" />
<rect x="84.50" y="336.70" width="5.80" height="31.90" fill="#9a9a9a" stroke="none" stroke-width="0" />
<line x1="102.80" y1="327.10" x2="102.80" y2="331.20" stroke="#000" stroke-width="1.0" />
<line x1="101.41" y1="327.20" x2="104.19" y2="327.20" stroke="#000" stroke-width="1.2" />
<rect x="100.35" y="331.65" width="4.90" height="36.95" fill="#fff" stroke="#000" stroke-width="0.9" />
<line x1="112.20" y1="258.60" x2="112.20" y2="262.70" stroke="#000" stroke-width="1.0" />
<line x1="110.81" y1="258.70" x2="113.59" y2="258.70" stroke="#000" stroke-width="1.2" />
<rect x="109.30" y="262.70" width="5.80" height="105.90" fill="#000" stroke="none" stroke-width="0" />
<line x1="121.60" y1="337.30" x2="121.60" y2="341.40" stroke="#000" stroke-width="1.0" />
<line x1="120.21" y1="337.40" x2="122.99" y2="337.40" stroke="#000" stroke-width="1.2" />
<rect x="118.70" y="341.40" width="5.80" height="27.20" fill="#9a9a9a" stroke="none" stroke-width="0" />
<text x="74.40" y="231.70" font-size="10.8" font-family='"Liberation Sans", sans-serif' font-weight="bold" text-anchor="middle" fill="#000" >IL-6</text>
<rect x="36.40" y="246.20" width="5.00" height="5.00" fill="#fff" stroke="#000" stroke-width="1.2" />
<text x="45.40" y="251.70" font-size="8.2" font-family='"Liberation Sans", sans-serif' font-weight="normal" text-anchor="start" fill="#1e1e1e" >WT</text>
<rect x="35.80" y="253.00" width="6.20" height="6.20" fill="#000" stroke="none" stroke-width="0" />
<text x="45.40" y="259.10" font-size="8.2" font-family='"Liberation Sans", sans-serif' font-weight="normal" text-anchor="start" fill="#1e1e1e" >CC1 KO</text>
<rect x="35.80" y="260.60" width="6.20" height="6.20" fill="#9a9a9a" stroke="none" stroke-width="0" />
<text x="45.40" y="266.70" font-size="8.2" font-family='"Liberation Sans", sans-serif' font-weight="normal" text-anchor="start" fill="#1e1e1e" >STAT3 KO</text>
<text x="77.70" y="312.20" font-size="8.4" font-family='"Liberation Sans", sans-serif' font-weight="normal" text-anchor="middle" fill="#222" >**</text>
<text x="112.40" y="253.90" font-size="8.4" font-family='"Liberation Sans", sans-serif' font-weight="normal" text-anchor="middle" fill="#222" >***</text>
<text x="78.30" y="394.00" font-size="8.6" font-family='"Liberation Sans", sans-serif' font-weight="bold" text-anchor="middle" fill="#000" textLength="75.7" lengthAdjust="spacingAndGlyphs" >Minutes after LPS</text>
<text x="9.60" y="302.50" font-size="8.6" font-family='"Liberation Sans", sans-serif' font-weight="bold" text-anchor="middle" fill="#000" textLength="114.5" lengthAdjust="spacingAndGlyphs" transform="rotate(-90 9.60 302.50)" >Relative mRNA Expression</text>
<text transform="translate(132.60 205.50) scale(0.98 1)" x="0" y="0" font-size="25.7" font-family='"Liberation Serif", serif' font-weight="bold">C</text>
<text x="235.50" y="203.60" font-size="10.8" font-family='"Liberation Sans", sans-serif' font-weight="bold" text-anchor="middle" fill="#000" >TLR4</text>
<text x="362.00" y="203.60" font-size="10.8" font-family='"Liberation Sans", sans-serif' font-weight="bold" text-anchor="middle" fill="#000" >CD14</text>
<text x="489.50" y="203.60" font-size="10.8" font-family='"Liberation Sans", sans-serif' font-weight="bold" text-anchor="middle" fill="#000" >RP105 (CD180)</text>
<text x="613.00" y="203.60" font-size="10.8" font-family='"Liberation Sans", sans-serif' font-weight="bold" text-anchor="middle" fill="#000" >MD-1</text>
<text x="136.30" y="255.90" font-size="10.2" font-family='"Liberation Sans", sans-serif' font-weight="bold" text-anchor="start" fill="#000" textLength="13.3" lengthAdjust="spacingAndGlyphs" >WT</text>
<text x="136.50" y="370.70" font-size="10.9" font-family='"Liberation Sans", sans-serif' font-weight="bold" text-anchor="start" fill="#000" textLength="15.8" lengthAdjust="spacingAndGlyphs" >KO</text>
<text x="134.80" y="495.20" font-size="10.9" font-family='"Liberation Sans", sans-serif' font-weight="bold" text-anchor="start" fill="#000" textLength="25.6" lengthAdjust="spacingAndGlyphs" >RAW</text>
<rect x="175.60" y="207.30" width="107.80" height="106.60" fill="none" stroke="#666" stroke-width="1.1"/>
<line x1="172.30" y1="313.90" x2="175.60" y2="313.90" stroke="#333" stroke-width="0.9" />
<text x="171.30" y="316.80" font-size="8.0" font-family='"Liberation Sans", sans-serif' font-weight="bold" text-anchor="end" fill="#000" textLength="3.95" lengthAdjust="spacingAndGlyphs" >0</text>
<line x1="172.30" y1="293.60" x2="175.60" y2="293.60" stroke="#333" stroke-width="0.9" />
<text x="171.30" y="296.50" font-size="8.0" font-family='"Liberation Sans", sans-serif' font-weight="bold" text-anchor="end" fill="#000" textLength="7.9" lengthAdjust="spacingAndGlyphs" >20</text>
<line x1="172.30" y1="273.30" x2="175.60" y2="273.30" stroke="#333" stroke-width="0.9" />
<text x="171.30" y="276.20" font-size="8.0" font-family='"Liberation Sans", sans-serif' font-weight="bold" text-anchor="end" fill="#000" textLength="7.9" lengthAdjust="spacingAndGlyphs" >40</text>
<line x1="172.30" y1="253.00" x2="175.60" y2="253.00" stroke="#333" stroke-width="0.9" />
<text x="171.30" y="255.90" font-size="8.0" font-family='"Liberation Sans", sans-serif' font-weight="bold" text-anchor="end" fill="#000" textLength="7.9" lengthAdjust="spacingAndGlyphs" >60</text>
<line x1="172.30" y1="232.70" x2="175.60" y2="232.70" stroke="#333" stroke-width="0.9" />
<text x="171.30" y="235.60" font-size="8.0" font-family='"Liberation Sans", sans-serif' font-weight="bold" text-anchor="end" fill="#000" textLength="7.9" lengthAdjust="spacingAndGlyphs" >80</text>
<line x1="172.30" y1="212.40" x2="175.60" y2="212.40" stroke="#333" stroke-width="0.9" />
<text x="171.30" y="215.30" font-size="8.0" font-family='"Liberation Sans", sans-serif' font-weight="bold" text-anchor="end" fill="#000" textLength="11.85" lengthAdjust="spacingAndGlyphs" >100</text>
<line x1="174.00" y1="313.90" x2="175.60" y2="313.90" stroke="#555" stroke-width="0.6" />
<line x1="174.00" y1="308.82" x2="175.60" y2="308.82" stroke="#555" stroke-width="0.6" />
<line x1="174.00" y1="303.75" x2="175.60" y2="303.75" stroke="#555" stroke-width="0.6" />
<line x1="174.00" y1="298.67" x2="175.60" y2="298.67" stroke="#555" stroke-width="0.6" />
<line x1="174.00" y1="293.60" x2="175.60" y2="293.60" stroke="#555" stroke-width="0.6" />
<line x1="174.00" y1="288.52" x2="175.60" y2="288.52" stroke="#555" stroke-width="0.6" />
<line x1="174.00" y1="283.45" x2="175.60" y2="283.45" stroke="#555" stroke-width="0.6" />
<line x1="174.00" y1="278.38" x2="175.60" y2="278.38" stroke="#555" stroke-width="0.6" />
<line x1="174.00" y1="273.30" x2="175.60" y2="273.30" stroke="#555" stroke-width="0.6" />
<line x1="174.00" y1="268.22" x2="175.60" y2="268.22" stroke="#555" stroke-width="0.6" />
<line x1="174.00" y1="263.15" x2="175.60" y2="263.15" stroke="#555" stroke-width="0.6" />
<line x1="174.00" y1="258.07" x2="175.60" y2="258.07" stroke="#555" stroke-width="0.6" />
<line x1="174.00" y1="253.00" x2="175.60" y2="253.00" stroke="#555" stroke-width="0.6" />
<line x1="174.00" y1="247.92" x2="175.60" y2="247.92" stroke="#555" stroke-width="0.6" />
<line x1="174.00" y1="242.85" x2="175.60" y2="242.85" stroke="#555" stroke-width="0.6" />
<line x1="174.00" y1="237.77" x2="175.60" y2="237.77" stroke="#555" stroke-width="0.6" />
<line x1="174.00" y1="232.70" x2="175.60" y2="232.70" stroke="#555" stroke-width="0.6" />
<line x1="174.00" y1="227.62" x2="175.60" y2="227.62" stroke="#555" stroke-width="0.6" />
<line x1="174.00" y1="222.55" x2="175.60" y2="222.55" stroke="#555" stroke-width="0.6" />
<line x1="174.00" y1="217.47" x2="175.60" y2="217.47" stroke="#555" stroke-width="0.6" />
<line x1="174.00" y1="212.40" x2="175.60" y2="212.40" stroke="#555" stroke-width="0.6" />
<line x1="175.60" y1="313.90" x2="175.60" y2="316.50" stroke="#333" stroke-width="0.9" />
<text x="174.80" y="326.30" font-size="8.2" font-family='"Liberation Sans", sans-serif' font-weight="bold" text-anchor="middle">10<tspan font-size="6.0" dy="-3.6">0</tspan></text>
<line x1="183.71" y1="313.90" x2="183.71" y2="315.50" stroke="#555" stroke-width="0.6" />
<line x1="188.46" y1="313.90" x2="188.46" y2="315.50" stroke="#555" stroke-width="0.6" />
<line x1="191.83" y1="313.90" x2="191.83" y2="315.50" stroke="#555" stroke-width="0.6" />
<line x1="194.44" y1="313.90" x2="194.44" y2="315.50" stroke="#555" stroke-width="0.6" />
<line x1="196.57" y1="313.90" x2="196.57" y2="315.50" stroke="#555" stroke-width="0.6" />
<line x1="198.38" y1="313.90" x2="198.38" y2="315.50" stroke="#555" stroke-width="0.6" />
<line x1="199.94" y1="313.90" x2="199.94" y2="315.50" stroke="#555" stroke-width="0.6" />
<line x1="201.32" y1="313.90" x2="201.32" y2="315.50" stroke="#555" stroke-width="0.6" />
<line x1="202.55" y1="313.90" x2="202.55" y2="316.50" stroke="#333" stroke-width="0.9" />
<text x="201.75" y="326.30" font-size="8.2" font-family='"Liberation Sans", sans-serif' font-weight="bold" text-anchor="middle">10<tspan font-size="6.0" dy="-3.6">1</tspan></text>
<line x1="210.66" y1="313.90" x2="210.66" y2="315.50" stroke="#555" stroke-width="0.6" />
<line x1="215.41" y1="313.90" x2="215.41" y2="315.50" stroke="#555" stroke-width="0.6" />
<line x1="218.78" y1="313.90" x2="218.78" y2="315.50" stroke="#555" stroke-width="0.6" />
<line x1="221.39" y1="313.90" x2="221.39" y2="315.50" stroke="#555" stroke-width="0.6" />
<line x1="223.52" y1="313.90" x2="223.52" y2="315.50" stroke="#555" stroke-width="0.6" />
<line x1="225.33" y1="313.90" x2="225.33" y2="315.50" stroke="#555" stroke-width="0.6" />
<line x1="226.89" y1="313.90" x2="226.89" y2="315.50" stroke="#555" stroke-width="0.6" />
<line x1="228.27" y1="313.90" x2="228.27" y2="315.50" stroke="#555" stroke-width="0.6" />
<line x1="229.50" y1="313.90" x2="229.50" y2="316.50" stroke="#333" stroke-width="0.9" />
<text x="228.70" y="326.30" font-size="8.2" font-family='"Liberation Sans", sans-serif' font-weight="bold" text-anchor="middle">10<tspan font-size="6.0" dy="-3.6">2</tspan></text>
<line x1="237.61" y1="313.90" x2="237.61" y2="315.50" stroke="#555" stroke-width="0.6" />
<line x1="242.36" y1="313.90" x2="242.36" y2="315.50" stroke="#555" stroke-width="0.6" />
<line x1="245.73" y1="313.90" x2="245.73" y2="315.50" stroke="#555" stroke-width="0.6" />
<line x1="248.34" y1="313.90" x2="248.34" y2="315.50" stroke="#555" stroke-width="0.6" />
<line x1="250.47" y1="313.90" x2="250.47" y2="315.50" stroke="#555" stroke-width="0.6" />
<line x1="252.28" y1="313.90" x2="252.28" y2="315.50" stroke="#555" stroke-width="0.6" />
<line x1="253.84" y1="313.90" x2="253.84" y2="315.50" stroke="#555" stroke-width="0.6" />
<line x1="255.22" y1="313.90" x2="255.22" y2="315.50" stroke="#555" stroke-width="0.6" />
<line x1="256.45" y1="313.90" x2="256.45" y2="316.50" stroke="#333" stroke-width="0.9" />
<text x="255.65" y="326.30" font-size="8.2" font-family='"Liberation Sans", sans-serif' font-weight="bold" text-anchor="middle">10<tspan font-size="6.0" dy="-3.6">3</tspan></text>
<line x1="264.56" y1="313.90" x2="264.56" y2="315.50" stroke="#555" stroke-width="0.6" />
<line x1="269.31" y1="313.90" x2="269.31" y2="315.50" stroke="#555" stroke-width="0.6" />
<line x1="272.68" y1="313.90" x2="272.68" y2="315.50" stroke="#555" stroke-width="0.6" />
<line x1="275.29" y1="313.90" x2="275.29" y2="315.50" stroke="#555" stroke-width="0.6" />
<line x1="277.42" y1="313.90" x2="277.42" y2="315.50" stroke="#555" stroke-width="0.6" />
<line x1="279.23" y1="313.90" x2="279.23" y2="315.50" stroke="#555" stroke-width="0.6" />
<line x1="280.79" y1="313.90" x2="280.79" y2="315.50" stroke="#555" stroke-width="0.6" />
<line x1="282.17" y1="313.90" x2="282.17" y2="315.50" stroke="#555" stroke-width="0.6" />
<line x1="283.40" y1="313.90" x2="283.40" y2="316.50" stroke="#333" stroke-width="0.9" />
<text x="282.60" y="326.30" font-size="8.2" font-family='"Liberation Sans", sans-serif' font-weight="bold" text-anchor="middle">10<tspan font-size="6.0" dy="-3.6">4</tspan></text>
<path d="M178.20,284.30 L180.40,270.20 L184.60,246.10 L187.40,251.80 L190.30,237.60 L193.80,214.30 L197.30,229.10 L200.20,243.30 L202.30,267.40 L204.40,290.00 L207.30,305.60 L211.50,310.50 L216.50,311.90 L223.50,313.90" fill="none" stroke="#fb0000" stroke-width="2.0" stroke-linejoin="round"/>
<path d="M177.10,313.90 L177.10,208.30 L177.10,275.90 L180.40,275.10 L183.90,253.20 L186.70,229.10 L188.90,237.60 L191.70,214.30 L193.80,224.90 L195.20,215.00 L196.60,230.60 L198.80,224.90 L200.90,267.40 L203.00,263.10 L204.40,284.30 L206.50,294.20 L210.10,308.40 L214.30,307.70 L217.90,311.20 L222.10,311.90 L225.60,313.90 L283.00,313.90" fill="none" stroke="#0000f6" stroke-width="2.0" stroke-linejoin="round"/>
<rect x="307.40" y="207.30" width="107.80" height="106.60" fill="none" stroke="#666" stroke-width="1.1"/>
<line x1="304.10" y1="313.90" x2="307.40" y2="313.90" stroke="#333" stroke-width="0.9" />
<text x="303.10" y="316.80" font-size="8.0" font-family='"Liberation Sans", sans-serif' font-weight="bold" text-anchor="end" fill="#000" textLength="3.95" lengthAdjust="spacingAndGlyphs" >0</text>
<line x1="304.10" y1="293.60" x2="307.40" y2="293.60" stroke="#333" stroke-width="0.9" />
<text x="303.10" y="296.50" font-size="8.0" font-family='"Liberation Sans", sans-serif' font-weight="bold" text-anchor="end" fill="#000" textLength="7.9" lengthAdjust="spacingAndGlyphs" >20</text>
<line x1="304.10" y1="273.30" x2="307.40" y2="273.30" stroke="#333" stroke-width="0.9" />
<text x="303.10" y="276.20" font-size="8.0" font-family='"Liberation Sans", sans-serif' font-weight="bold" text-anchor="end" fill="#000" textLength="7.9" lengthAdjust="spacingAndGlyphs" >40</text>
<line x1="304.10" y1="253.00" x2="307.40" y2="253.00" stroke="#333" stroke-width="0.9" />
<text x="303.10" y="255.90" font-size="8.0" font-family='"Liberation Sans", sans-serif' font-weight="bold" text-anchor="end" fill="#000" textLength="7.9" lengthAdjust="spacingAndGlyphs" >60</text>
<line x1="304.10" y1="232.70" x2="307.40" y2="232.70" stroke="#333" stroke-width="0.9" />
<text x="303.10" y="235.60" font-size="8.0" font-family='"Liberation Sans", sans-serif' font-weight="bold" text-anchor="end" fill="#000" textLength="7.9" lengthAdjust="spacingAndGlyphs" >80</text>
<line x1="304.10" y1="212.40" x2="307.40" y2="212.40" stroke="#333" stroke-width="0.9" />
<text x="303.10" y="215.30" font-size="8.0" font-family='"Liberation Sans", sans-serif' font-weight="bold" text-anchor="end" fill="#000" textLength="11.85" lengthAdjust="spacingAndGlyphs" >100</text>
<line x1="305.80" y1="313.90" x2="307.40" y2="313.90" stroke="#555" stroke-width="0.6" />
<line x1="305.80" y1="308.82" x2="307.40" y2="308.82" stroke="#555" stroke-width="0.6" />
<line x1="305.80" y1="303.75" x2="307.40" y2="303.75" stroke="#555" stroke-width="0.6" />
<line x1="305.80" y1="298.67" x2="307.40" y2="298.67" stroke="#555" stroke-width="0.6" />
<line x1="305.80" y1="293.60" x2="307.40" y2="293.60" stroke="#555" stroke-width="0.6" />
<line x1="305.80" y1="288.52" x2="307.40" y2="288.52" stroke="#555" stroke-width="0.6" />
<line x1="305.80" y1="283.45" x2="307.40" y2="283.45" stroke="#555" stroke-width="0.6" />
<line x1="305.80" y1="278.38" x2="307.40" y2="278.38" stroke="#555" stroke-width="0.6" />
<line x1="305.80" y1="273.30" x2="307.40" y2="273.30" stroke="#555" stroke-width="0.6" />
<line x1="305.80" y1="268.22" x2="307.40" y2="268.22" stroke="#555" stroke-width="0.6" />
<line x1="305.80" y1="263.15" x2="307.40" y2="263.15" stroke="#555" stroke-width="0.6" />
<line x1="305.80" y1="258.07" x2="307.40" y2="258.07" stroke="#555" stroke-width="0.6" />
<line x1="305.80" y1="253.00" x2="307.40" y2="253.00" stroke="#555" stroke-width="0.6" />
<line x1="305.80" y1="247.92" x2="307.40" y2="247.92" stroke="#555" stroke-width="0.6" />
<line x1="305.80" y1="242.85" x2="307.40" y2="242.85" stroke="#555" stroke-width="0.6" />
<line x1="305.80" y1="237.77" x2="307.40" y2="237.77" stroke="#555" stroke-width="0.6" />
<line x1="305.80" y1="232.70" x2="307.40" y2="232.70" stroke="#555" stroke-width="0.6" />
<line x1="305.80" y1="227.62" x2="307.40" y2="227.62" stroke="#555" stroke-width="0.6" />
<line x1="305.80" y1="222.55" x2="307.40" y2="222.55" stroke="#555" stroke-width="0.6" />
<line x1="305.80" y1="217.47" x2="307.40" y2="217.47" stroke="#555" stroke-width="0.6" />
<line x1="305.80" y1="212.40" x2="307.40" y2="212.40" stroke="#555" stroke-width="0.6" />
<line x1="307.40" y1="313.90" x2="307.40" y2="316.50" stroke="#333" stroke-width="0.9" />
<text x="306.60" y="326.30" font-size="8.2" font-family='"Liberation Sans", sans-serif' font-weight="bold" text-anchor="middle">10<tspan font-size="6.0" dy="-3.6">0</tspan></text>
<line x1="315.51" y1="313.90" x2="315.51" y2="315.50" stroke="#555" stroke-width="0.6" />
<line x1="320.26" y1="313.90" x2="320.26" y2="315.50" stroke="#555" stroke-width="0.6" />
<line x1="323.63" y1="313.90" x2="323.63" y2="315.50" stroke="#555" stroke-width="0.6" />
<line x1="326.24" y1="313.90" x2="326.24" y2="315.50" stroke="#555" stroke-width="0.6" />
<line x1="328.37" y1="313.90" x2="328.37" y2="315.50" stroke="#555" stroke-width="0.6" />
<line x1="330.18" y1="313.90" x2="330.18" y2="315.50" stroke="#555" stroke-width="0.6" />
<line x1="331.74" y1="313.90" x2="331.74" y2="315.50" stroke="#555" stroke-width="0.6" />
<line x1="333.12" y1="313.90" x2="333.12" y2="315.50" stroke="#555" stroke-width="0.6" />
<line x1="334.35" y1="313.90" x2="334.35" y2="316.50" stroke="#333" stroke-width="0.9" />
<text x="333.55" y="326.30" font-size="8.2" font-family='"Liberation Sans", sans-serif' font-weight="bold" text-anchor="middle">10<tspan font-size="6.0" dy="-3.6">1</tspan></text>
<line x1="342.46" y1="313.90" x2="342.46" y2="315.50" stroke="#555" stroke-width="0.6" />
<line x1="347.21" y1="313.90" x2="347.21" y2="315.50" stroke="#555" stroke-width="0.6" />
<line x1="350.58" y1="313.90" x2="350.58" y2="315.50" stroke="#555" stroke-width="0.6" />
<line x1="353.19" y1="313.90" x2="353.19" y2="315.50" stroke="#555" stroke-width="0.6" />
<line x1="355.32" y1="313.90" x2="355.32" y2="315.50" stroke="#555" stroke-width="0.6" />
<line x1="357.13" y1="313.90" x2="357.13" y2="315.50" stroke="#555" stroke-width="0.6" />
<line x1="358.69" y1="313.90" x2="358.69" y2="315.50" stroke="#555" stroke-width="0.6" />
<line x1="360.07" y1="313.90" x2="360.07" y2="315.50" stroke="#555" stroke-width="0.6" />
<line x1="361.30" y1="313.90" x2="361.30" y2="316.50" stroke="#333" stroke-width="0.9" />
<text x="360.50" y="326.30" font-size="8.2" font-family='"Liberation Sans", sans-serif' font-weight="bold" text-anchor="middle">10<tspan font-size="6.0" dy="-3.6">2</tspan></text>
<line x1="369.41" y1="313.90" x2="369.41" y2="315.50" stroke="#555" stroke-width="0.6" />
<line x1="374.16" y1="313.90" x2="374.16" y2="315.50" stroke="#555" stroke-width="0.6" />
<line x1="377.53" y1="313.90" x2="377.53" y2="315.50" stroke="#555" stroke-width="0.6" />
<line x1="380.14" y1="313.90" x2="380.14" y2="315.50" stroke="#555" stroke-width="0.6" />
<line x1="382.27" y1="313.90" x2="382.27" y2="315.50" stroke="#555" stroke-width="0.6" />
<line x1="384.08" y1="313.90" x2="384.08" y2="315.50" stroke="#555" stroke-width="0.6" />
<line x1="385.64" y1="313.90" x2="385.64" y2="315.50" stroke="#555" stroke-width="0.6" />
<line x1="387.02" y1="313.90" x2="387.02" y2="315.50" stroke="#555" stroke-width="0.6" />
<line x1="388.25" y1="313.90" x2="388.25" y2="316.50" stroke="#333" stroke-width="0.9" />
<text x="387.45" y="326.30" font-size="8.2" font-family='"Liberation Sans", sans-serif' font-weight="bold" text-anchor="middle">10<tspan font-size="6.0" dy="-3.6">3</tspan></text>
<line x1="396.36" y1="313.90" x2="396.36" y2="315.50" stroke="#555" stroke-width="0.6" />
<line x1="401.11" y1="313.90" x2="401.11" y2="315.50" stroke="#555" stroke-width="0.6" />
<line x1="404.48" y1="313.90" x2="404.48" y2="315.50" stroke="#555" stroke-width="0.6" />
<line x1="407.09" y1="313.90" x2="407.09" y2="315.50" stroke="#555" stroke-width="0.6" />
<line x1="409.22" y1="313.90" x2="409.22" y2="315.50" stroke="#555" stroke-width="0.6" />
<line x1="411.03" y1="313.90" x2="411.03" y2="315.50" stroke="#555" stroke-width="0.6" />
<line x1="412.59" y1="313.90" x2="412.59" y2="315.50" stroke="#555" stroke-width="0.6" />
<line x1="413.97" y1="313.90" x2="413.97" y2="315.50" stroke="#555" stroke-width="0.6" />
<line x1="415.20" y1="313.90" x2="415.20" y2="316.50" stroke="#333" stroke-width="0.9" />
<text x="414.40" y="326.30" font-size="8.2" font-family='"Liberation Sans", sans-serif' font-weight="bold" text-anchor="middle">10<tspan font-size="6.0" dy="-3.6">4</tspan></text>
<path d="M309.10,313.90 L309.10,208.30 L309.10,283.40 L310.95,281.30 L313.10,270.00 L315.20,267.20 L317.30,244.50 L319.00,250.20 L321.30,234.60 L323.00,236.70 L324.80,218.30 L326.20,214.10 L327.90,219.80 L329.30,233.20 L331.20,237.40 L332.90,258.70 L335.00,278.50 L337.10,292.60 L339.30,304.70 L342.80,310.30 L348.40,312.40 L355.50,313.60 L366.30,313.90 L414.80,313.90" fill="none" stroke="#fb0000" stroke-width="2.0" stroke-linejoin="round"/>
<path d="M308.30,313.90 L315.90,313.90 L318.70,304.00 L324.40,294.80 L327.20,287.70 L330.10,278.50 L332.20,262.90 L335.00,244.50 L337.10,233.20 L339.70,218.30 L340.70,220.50 L342.10,214.10 L343.50,221.20 L344.20,231.10 L346.30,237.40 L347.70,251.60 L349.20,255.80 L350.60,268.60 L352.70,279.90 L354.10,289.10 L356.20,295.50 L358.40,306.80 L360.50,310.30 L363.30,311.30 L366.80,313.90 L414.80,313.90" fill="none" stroke="#0000f6" stroke-width="2.0" stroke-linejoin="round"/>
<rect x="438.70" y="207.30" width="107.80" height="106.60" fill="none" stroke="#666" stroke-width="1.1"/>
<line x1="435.40" y1="313.90" x2="438.70" y2="313.90" stroke="#333" stroke-width="0.9" />
<text x="434.40" y="316.80" font-size="8.0" font-family='"Liberation Sans", sans-serif' font-weight="bold" text-anchor="end" fill="#000" textLength="3.95" lengthAdjust="spacingAndGlyphs" >0</text>
<line x1="435.40" y1="293.60" x2="438.70" y2="293.60" stroke="#333" stroke-width="0.9" />
<text x="434.40" y="296.50" font-size="8.0" font-family='"Liberation Sans", sans-serif' font-weight="bold" text-anchor="end" fill="#000" textLength="7.9" lengthAdjust="spacingAndGlyphs" >20</text>
<line x1="435.40" y1="273.30" x2="438.70" y2="273.30" stroke="#333" stroke-width="0.9" />
<text x="434.40" y="276.20" font-size="8.0" font-family='"Liberation Sans", sans-serif' font-weight="bold" text-anchor="end" fill="#000" textLength="7.9" lengthAdjust="spacingAndGlyphs" >40</text>
<line x1="435.40" y1="253.00" x2="438.70" y2="253.00" stroke="#333" stroke-width="0.9" />
<text x="434.40" y="255.90" font-size="8.0" font-family='"Liberation Sans", sans-serif' font-weight="bold" text-anchor="end" fill="#000" textLength="7.9" lengthAdjust="spacingAndGlyphs" >60</text>
<line x1="435.40" y1="232.70" x2="438.70" y2="232.70" stroke="#333" stroke-width="0.9" />
<text x="434.40" y="235.60" font-size="8.0" font-family='"Liberation Sans", sans-serif' font-weight="bold" text-anchor="end" fill="#000" textLength="7.9" lengthAdjust="spacingAndGlyphs" >80</text>
<line x1="435.40" y1="212.40" x2="438.70" y2="212.40" stroke="#333" stroke-width="0.9" />
<text x="434.40" y="215.30" font-size="8.0" font-family='"Liberation Sans", sans-serif' font-weight="bold" text-anchor="end" fill="#000" textLength="11.85" lengthAdjust="spacingAndGlyphs" >100</text>
<line x1="437.10" y1="313.90" x2="438.70" y2="313.90" stroke="#555" stroke-width="0.6" />
<line x1="437.10" y1="308.82" x2="438.70" y2="308.82" stroke="#555" stroke-width="0.6" />
<line x1="437.10" y1="303.75" x2="438.70" y2="303.75" stroke="#555" stroke-width="0.6" />
<line x1="437.10" y1="298.67" x2="438.70" y2="298.67" stroke="#555" stroke-width="0.6" />
<line x1="437.10" y1="293.60" x2="438.70" y2="293.60" stroke="#555" stroke-width="0.6" />
<line x1="437.10" y1="288.52" x2="438.70" y2="288.52" stroke="#555" stroke-width="0.6" />
<line x1="437.10" y1="283.45" x2="438.70" y2="283.45" stroke="#555" stroke-width="0.6" />
<line x1="437.10" y1="278.38" x2="438.70" y2="278.38" stroke="#555" stroke-width="0.6" />
<line x1="437.10" y1="273.30" x2="438.70" y2="273.30" stroke="#555" stroke-width="0.6" />
<line x1="437.10" y1="268.22" x2="438.70" y2="268.22" stroke="#555" stroke-width="0.6" />
<line x1="437.10" y1="263.15" x2="438.70" y2="263.15" stroke="#555" stroke-width="0.6" />
<line x1="437.10" y1="258.07" x2="438.70" y2="258.07" stroke="#555" stroke-width="0.6" />
<line x1="437.10" y1="253.00" x2="438.70" y2="253.00" stroke="#555" stroke-width="0.6" />
<line x1="437.10" y1="247.92" x2="438.70" y2="247.92" stroke="#555" stroke-width="0.6" />
<line x1="437.10" y1="242.85" x2="438.70" y2="242.85" stroke="#555" stroke-width="0.6" />
<line x1="437.10" y1="237.77" x2="438.70" y2="237.77" stroke="#555" stroke-width="0.6" />
<line x1="437.10" y1="232.70" x2="438.70" y2="232.70" stroke="#555" stroke-width="0.6" />
<line x1="437.10" y1="227.62" x2="438.70" y2="227.62" stroke="#555" stroke-width="0.6" />
<line x1="437.10" y1="222.55" x2="438.70" y2="222.55" stroke="#555" stroke-width="0.6" />
<line x1="437.10" y1="217.47" x2="438.70" y2="217.47" stroke="#555" stroke-width="0.6" />
<line x1="437.10" y1="212.40" x2="438.70" y2="212.40" stroke="#555" stroke-width="0.6" />
<line x1="438.70" y1="313.90" x2="438.70" y2="316.50" stroke="#333" stroke-width="0.9" />
<text x="437.90" y="326.30" font-size="8.2" font-family='"Liberation Sans", sans-serif' font-weight="bold" text-anchor="middle">10<tspan font-size="6.0" dy="-3.6">0</tspan></text>
<line x1="446.81" y1="313.90" x2="446.81" y2="315.50" stroke="#555" stroke-width="0.6" />
<line x1="451.56" y1="313.90" x2="451.56" y2="315.50" stroke="#555" stroke-width="0.6" />
<line x1="454.93" y1="313.90" x2="454.93" y2="315.50" stroke="#555" stroke-width="0.6" />
<line x1="457.54" y1="313.90" x2="457.54" y2="315.50" stroke="#555" stroke-width="0.6" />
<line x1="459.67" y1="313.90" x2="459.67" y2="315.50" stroke="#555" stroke-width="0.6" />
<line x1="461.48" y1="313.90" x2="461.48" y2="315.50" stroke="#555" stroke-width="0.6" />
<line x1="463.04" y1="313.90" x2="463.04" y2="315.50" stroke="#555" stroke-width="0.6" />
<line x1="464.42" y1="313.90" x2="464.42" y2="315.50" stroke="#555" stroke-width="0.6" />
<line x1="465.65" y1="313.90" x2="465.65" y2="316.50" stroke="#333" stroke-width="0.9" />
<text x="464.85" y="326.30" font-size="8.2" font-family='"Liberation Sans", sans-serif' font-weight="bold" text-anchor="middle">10<tspan font-size="6.0" dy="-3.6">1</tspan></text>
<line x1="473.76" y1="313.90" x2="473.76" y2="315.50" stroke="#555" stroke-width="0.6" />
<line x1="478.51" y1="313.90" x2="478.51" y2="315.50" stroke="#555" stroke-width="0.6" />
<line x1="481.88" y1="313.90" x2="481.88" y2="315.50" stroke="#555" stroke-width="0.6" />
<line x1="484.49" y1="313.90" x2="484.49" y2="315.50" stroke="#555" stroke-width="0.6" />
<line x1="486.62" y1="313.90" x2="486.62" y2="315.50" stroke="#555" stroke-width="0.6" />
<line x1="488.43" y1="313.90" x2="488.43" y2="315.50" stroke="#555" stroke-width="0.6" />
<line x1="489.99" y1="313.90" x2="489.99" y2="315.50" stroke="#555" stroke-width="0.6" />
<line x1="491.37" y1="313.90" x2="491.37" y2="315.50" stroke="#555" stroke-width="0.6" />
<line x1="492.60" y1="313.90" x2="492.60" y2="316.50" stroke="#333" stroke-width="0.9" />
<text x="491.80" y="326.30" font-size="8.2" font-family='"Liberation Sans", sans-serif' font-weight="bold" text-anchor="middle">10<tspan font-size="6.0" dy="-3.6">2</tspan></text>
<line x1="500.71" y1="313.90" x2="500.71" y2="315.50" stroke="#555" stroke-width="0.6" />
<line x1="505.46" y1="313.90" x2="505.46" y2="315.50" stroke="#555" stroke-width="0.6" />
<line x1="508.83" y1="313.90" x2="508.83" y2="315.50" stroke="#555" stroke-width="0.6" />
<line x1="511.44" y1="313.90" x2="511.44" y2="315.50" stroke="#555" stroke-width="0.6" />
<line x1="513.57" y1="313.90" x2="513.57" y2="315.50" stroke="#555" stroke-width="0.6" />
<line x1="515.38" y1="313.90" x2="515.38" y2="315.50" stroke="#555" stroke-width="0.6" />
<line x1="516.94" y1="313.90" x2="516.94" y2="315.50" stroke="#555" stroke-width="0.6" />
<line x1="518.32" y1="313.90" x2="518.32" y2="315.50" stroke="#555" stroke-width="0.6" />
<line x1="519.55" y1="313.90" x2="519.55" y2="316.50" stroke="#333" stroke-width="0.9" />
<text x="518.75" y="326.30" font-size="8.2" font-family='"Liberation Sans", sans-serif' font-weight="bold" text-anchor="middle">10<tspan font-size="6.0" dy="-3.6">3</tspan></text>
<line x1="527.66" y1="313.90" x2="527.66" y2="315.50" stroke="#555" stroke-width="0.6" />
<line x1="532.41" y1="313.90" x2="532.41" y2="315.50" stroke="#555" stroke-width="0.6" />
<line x1="535.78" y1="313.90" x2="535.78" y2="315.50" stroke="#555" stroke-width="0.6" />
<line x1="538.39" y1="313.90" x2="538.39" y2="315.50" stroke="#555" stroke-width="0.6" />
<line x1="540.52" y1="313.90" x2="540.52" y2="315.50" stroke="#555" stroke-width="0.6" />
<line x1="542.33" y1="313.90" x2="542.33" y2="315.50" stroke="#555" stroke-width="0.6" />
<line x1="543.89" y1="313.90" x2="543.89" y2="315.50" stroke="#555" stroke-width="0.6" />
<line x1="545.27" y1="313.90" x2="545.27" y2="315.50" stroke="#555" stroke-width="0.6" />
<line x1="546.50" y1="313.90" x2="546.50" y2="316.50" stroke="#333" stroke-width="0.9" />
<text x="545.70" y="326.30" font-size="8.2" font-family='"Liberation Sans", sans-serif' font-weight="bold" text-anchor="middle">10<tspan font-size="6.0" dy="-3.6">4</tspan></text>
<path d="M440.30,313.90 L440.30,208.30 L440.26,282.80 L442.00,283.50 L443.65,270.10 L445.80,268.00 L447.90,245.40 L450.00,251.00 L452.10,234.80 L453.80,236.90 L455.70,217.80 L457.10,214.30 L458.90,219.90 L460.60,236.90 L462.30,238.30 L463.70,258.80 L466.00,281.40 L468.40,302.60 L471.20,306.20 L474.00,310.40 L479.00,312.50 L486.00,313.90 L546.50,313.90" fill="none" stroke="#fb0000" stroke-width="2.0" stroke-linejoin="round"/>
<path d="M440.00,313.90 L479.00,313.90 L481.80,304.00 L484.60,291.30 L486.80,284.20 L488.90,264.50 L490.60,247.50 L491.70,232.00 L493.40,216.40 L494.50,213.60 L495.90,214.30 L497.10,220.60 L498.80,230.50 L500.90,250.30 L502.70,270.10 L504.40,282.80 L506.60,289.90 L508.00,295.60 L510.10,304.00 L512.90,308.30 L516.40,311.80 L519.00,313.90 L546.50,313.90" fill="none" stroke="#0000f6" stroke-width="2.0" stroke-linejoin="round"/>
<rect x="570.70" y="207.30" width="107.80" height="106.60" fill="none" stroke="#666" stroke-width="1.1"/>
<line x1="567.40" y1="313.90" x2="570.70" y2="313.90" stroke="#333" stroke-width="0.9" />
<text x="566.40" y="316.80" font-size="8.0" font-family='"Liberation Sans", sans-serif' font-weight="bold" text-anchor="end" fill="#000" textLength="3.95" lengthAdjust="spacingAndGlyphs" >0</text>
<line x1="567.40" y1="293.60" x2="570.70" y2="293.60" stroke="#333" stroke-width="0.9" />
<text x="566.40" y="296.50" font-size="8.0" font-family='"Liberation Sans", sans-serif' font-weight="bold" text-anchor="end" fill="#000" textLength="7.9" lengthAdjust="spacingAndGlyphs" >20</text>
<line x1="567.40" y1="273.30" x2="570.70" y2="273.30" stroke="#333" stroke-width="0.9" />
<text x="566.40" y="276.20" font-size="8.0" font-family='"Liberation Sans", sans-serif' font-weight="bold" text-anchor="end" fill="#000" textLength="7.9" lengthAdjust="spacingAndGlyphs" >40</text>
<line x1="567.40" y1="253.00" x2="570.70" y2="253.00" stroke="#333" stroke-width="0.9" />
<text x="566.40" y="255.90" font-size="8.0" font-family='"Liberation Sans", sans-serif' font-weight="bold" text-anchor="end" fill="#000" textLength="7.9" lengthAdjust="spacingAndGlyphs" >60</text>
<line x1="567.40" y1="232.70" x2="570.70" y2="232.70" stroke="#333" stroke-width="0.9" />
<text x="566.40" y="235.60" font-size="8.0" font-family='"Liberation Sans", sans-serif' font-weight="bold" text-anchor="end" fill="#000" textLength="7.9" lengthAdjust="spacingAndGlyphs" >80</text>
<line x1="567.40" y1="212.40" x2="570.70" y2="212.40" stroke="#333" stroke-width="0.9" />
<text x="566.40" y="215.30" font-size="8.0" font-family='"Liberation Sans", sans-serif' font-weight="bold" text-anchor="end" fill="#000" textLength="11.85" lengthAdjust="spacingAndGlyphs" >100</text>
<line x1="569.10" y1="313.90" x2="570.70" y2="313.90" stroke="#555" stroke-width="0.6" />
<line x1="569.10" y1="308.82" x2="570.70" y2="308.82" stroke="#555" stroke-width="0.6" />
<line x1="569.10" y1="303.75" x2="570.70" y2="303.75" stroke="#555" stroke-width="0.6" />
<line x1="569.10" y1="298.67" x2="570.70" y2="298.67" stroke="#555" stroke-width="0.6" />
<line x1="569.10" y1="293.60" x2="570.70" y2="293.60" stroke="#555" stroke-width="0.6" />
<line x1="569.10" y1="288.52" x2="570.70" y2="288.52" stroke="#555" stroke-width="0.6" />
<line x1="569.10" y1="283.45" x2="570.70" y2="283.45" stroke="#555" stroke-width="0.6" />
<line x1="569.10" y1="278.38" x2="570.70" y2="278.38" stroke="#555" stroke-width="0.6" />
<line x1="569.10" y1="273.30" x2="570.70" y2="273.30" stroke="#555" stroke-width="0.6" />
<line x1="569.10" y1="268.22" x2="570.70" y2="268.22" stroke="#555" stroke-width="0.6" />
<line x1="569.10" y1="263.15" x2="570.70" y2="263.15" stroke="#555" stroke-width="0.6" />
<line x1="569.10" y1="258.07" x2="570.70" y2="258.07" stroke="#555" stroke-width="0.6" />
<line x1="569.10" y1="253.00" x2="570.70" y2="253.00" stroke="#555" stroke-width="0.6" />
<line x1="569.10" y1="247.92" x2="570.70" y2="247.92" stroke="#555" stroke-width="0.6" />
<line x1="569.10" y1="242.85" x2="570.70" y2="242.85" stroke="#555" stroke-width="0.6" />
<line x1="569.10" y1="237.77" x2="570.70" y2="237.77" stroke="#555" stroke-width="0.6" />
<line x1="569.10" y1="232.70" x2="570.70" y2="232.70" stroke="#555" stroke-width="0.6" />
<line x1="569.10" y1="227.62" x2="570.70" y2="227.62" stroke="#555" stroke-width="0.6" />
<line x1="569.10" y1="222.55" x2="570.70" y2="222.55" stroke="#555" stroke-width="0.6" />
<line x1="569.10" y1="217.47" x2="570.70" y2="217.47" stroke="#555" stroke-width="0.6" />
<line x1="569.10" y1="212.40" x2="570.70" y2="212.40" stroke="#555" stroke-width="0.6" />
<line x1="570.70" y1="313.90" x2="570.70" y2="316.50" stroke="#333" stroke-width="0.9" />
<text x="569.90" y="326.30" font-size="8.2" font-family='"Liberation Sans", sans-serif' font-weight="bold" text-anchor="middle">10<tspan font-size="6.0" dy="-3.6">0</tspan></text>
<line x1="578.81" y1="313.90" x2="578.81" y2="315.50" stroke="#555" stroke-width="0.6" />
<line x1="583.56" y1="313.90" x2="583.56" y2="315.50" stroke="#555" stroke-width="0.6" />
<line x1="586.93" y1="313.90" x2="586.93" y2="315.50" stroke="#555" stroke-width="0.6" />
<line x1="589.54" y1="313.90" x2="589.54" y2="315.50" stroke="#555" stroke-width="0.6" />
<line x1="591.67" y1="313.90" x2="591.67" y2="315.50" stroke="#555" stroke-width="0.6" />
<line x1="593.48" y1="313.90" x2="593.48" y2="315.50" stroke="#555" stroke-width="0.6" />
<line x1="595.04" y1="313.90" x2="595.04" y2="315.50" stroke="#555" stroke-width="0.6" />
<line x1="596.42" y1="313.90" x2="596.42" y2="315.50" stroke="#555" stroke-width="0.6" />
<line x1="597.65" y1="313.90" x2="597.65" y2="316.50" stroke="#333" stroke-width="0.9" />
<text x="596.85" y="326.30" font-size="8.2" font-family='"Liberation Sans", sans-serif' font-weight="bold" text-anchor="middle">10<tspan font-size="6.0" dy="-3.6">1</tspan></text>
<line x1="605.76" y1="313.90" x2="605.76" y2="315.50" stroke="#555" stroke-width="0.6" />
<line x1="610.51" y1="313.90" x2="610.51" y2="315.50" stroke="#555" stroke-width="0.6" />
<line x1="613.88" y1="313.90" x2="613.88" y2="315.50" stroke="#555" stroke-width="0.6" />
<line x1="616.49" y1="313.90" x2="616.49" y2="315.50" stroke="#555" stroke-width="0.6" />
<line x1="618.62" y1="313.90" x2="618.62" y2="315.50" stroke="#555" stroke-width="0.6" />
<line x1="620.43" y1="313.90" x2="620.43" y2="315.50" stroke="#555" stroke-width="0.6" />
<line x1="621.99" y1="313.90" x2="621.99" y2="315.50" stroke="#555" stroke-width="0.6" />
<line x1="623.37" y1="313.90" x2="623.37" y2="315.50" stroke="#555" stroke-width="0.6" />
<line x1="624.60" y1="313.90" x2="624.60" y2="316.50" stroke="#333" stroke-width="0.9" />
<text x="623.80" y="326.30" font-size="8.2" font-family='"Liberation Sans", sans-serif' font-weight="bold" text-anchor="middle">10<tspan font-size="6.0" dy="-3.6">2</tspan></text>
<line x1="632.71" y1="313.90" x2="632.71" y2="315.50" stroke="#555" stroke-width="0.6" />
<line x1="637.46" y1="313.90" x2="637.46" y2="315.50" stroke="#555" stroke-width="0.6" />
<line x1="640.83" y1="313.90" x2="640.83" y2="315.50" stroke="#555" stroke-width="0.6" />
<line x1="643.44" y1="313.90" x2="643.44" y2="315.50" stroke="#555" stroke-width="0.6" />
<line x1="645.57" y1="313.90" x2="645.57" y2="315.50" stroke="#555" stroke-width="0.6" />
<line x1="647.38" y1="313.90" x2="647.38" y2="315.50" stroke="#555" stroke-width="0.6" />
<line x1="648.94" y1="313.90" x2="648.94" y2="315.50" stroke="#555" stroke-width="0.6" />
<line x1="650.32" y1="313.90" x2="650.32" y2="315.50" stroke="#555" stroke-width="0.6" />
<line x1="651.55" y1="313.90" x2="651.55" y2="316.50" stroke="#333" stroke-width="0.9" />
<text x="650.75" y="326.30" font-size="8.2" font-family='"Liberation Sans", sans-serif' font-weight="bold" text-anchor="middle">10<tspan font-size="6.0" dy="-3.6">3</tspan></text>
<line x1="659.66" y1="313.90" x2="659.66" y2="315.50" stroke="#555" stroke-width="0.6" />
<line x1="664.41" y1="313.90" x2="664.41" y2="315.50" stroke="#555" stroke-width="0.6" />
<line x1="667.78" y1="313.90" x2="667.78" y2="315.50" stroke="#555" stroke-width="0.6" />
<line x1="670.39" y1="313.90" x2="670.39" y2="315.50" stroke="#555" stroke-width="0.6" />
<line x1="672.52" y1="313.90" x2="672.52" y2="315.50" stroke="#555" stroke-width="0.6" />
<line x1="674.33" y1="313.90" x2="674.33" y2="315.50" stroke="#555" stroke-width="0.6" />
<line x1="675.89" y1="313.90" x2="675.89" y2="315.50" stroke="#555" stroke-width="0.6" />
<line x1="677.27" y1="313.90" x2="677.27" y2="315.50" stroke="#555" stroke-width="0.6" />
<line x1="678.50" y1="313.90" x2="678.50" y2="316.50" stroke="#333" stroke-width="0.9" />
<text x="677.70" y="326.30" font-size="8.2" font-family='"Liberation Sans", sans-serif' font-weight="bold" text-anchor="middle">10<tspan font-size="6.0" dy="-3.6">4</tspan></text>
<path d="M572.50,313.90 L572.50,208.30 L572.26,282.80 L574.00,283.50 L575.65,270.10 L577.80,268.00 L579.90,245.40 L582.00,251.00 L584.10,234.80 L585.80,236.90 L587.70,217.80 L589.10,214.30 L590.90,219.90 L592.60,236.90 L594.30,238.30 L595.70,258.80 L598.00,281.40 L600.40,302.60 L603.20,306.20 L606.00,310.40 L611.00,312.50 L618.00,313.90 L678.50,313.90" fill="none" stroke="#fb0000" stroke-width="2.0" stroke-linejoin="round"/>
<path d="M572.00,313.90 L597.60,313.90 L599.00,301.20 L601.10,287.10 L603.60,265.90 L605.30,260.20 L607.00,257.40 L608.20,246.10 L609.60,223.50 L611.00,228.40 L612.40,222.10 L613.80,213.60 L614.90,222.10 L616.60,230.50 L618.80,248.90 L620.60,264.50 L622.00,274.40 L623.40,273.00 L624.80,282.80 L626.50,292.70 L628.70,301.20 L630.80,302.60 L632.20,305.40 L635.00,312.50 L637.10,313.90 L678.50,313.90" fill="none" stroke="#0000f6" stroke-width="2.0" stroke-linejoin="round"/>
<rect x="175.60" y="329.50" width="107.80" height="106.60" fill="none" stroke="#666" stroke-width="1.1"/>
<line x1="172.30" y1="436.10" x2="175.60" y2="436.10" stroke="#333" stroke-width="0.9" />
<text x="171.30" y="439.00" font-size="8.0" font-family='"Liberation Sans", sans-serif' font-weight="bold" text-anchor="end" fill="#000" textLength="3.95" lengthAdjust="spacingAndGlyphs" >0</text>
<line x1="172.30" y1="415.80" x2="175.60" y2="415.80" stroke="#333" stroke-width="0.9" />
<text x="171.30" y="418.70" font-size="8.0" font-family='"Liberation Sans", sans-serif' font-weight="bold" text-anchor="end" fill="#000" textLength="7.9" lengthAdjust="spacingAndGlyphs" >20</text>
<line x1="172.30" y1="395.50" x2="175.60" y2="395.50" stroke="#333" stroke-width="0.9" />
<text x="171.30" y="398.40" font-size="8.0" font-family='"Liberation Sans", sans-serif' font-weight="bold" text-anchor="end" fill="#000" textLength="7.9" lengthAdjust="spacingAndGlyphs" >40</text>
<line x1="172.30" y1="375.20" x2="175.60" y2="375.20" stroke="#333" stroke-width="0.9" />
<text x="171.30" y="378.10" font-size="8.0" font-family='"Liberation Sans", sans-serif' font-weight="bold" text-anchor="end" fill="#000" textLength="7.9" lengthAdjust="spacingAndGlyphs" >60</text>
<line x1="172.30" y1="354.90" x2="175.60" y2="354.90" stroke="#333" stroke-width="0.9" />
<text x="171.30" y="357.80" font-size="8.0" font-family='"Liberation Sans", sans-serif' font-weight="bold" text-anchor="end" fill="#000" textLength="7.9" lengthAdjust="spacingAndGlyphs" >80</text>
<line x1="172.30" y1="334.60" x2="175.60" y2="334.60" stroke="#333" stroke-width="0.9" />
<text x="171.30" y="337.50" font-size="8.0" font-family='"Liberation Sans", sans-serif' font-weight="bold" text-anchor="end" fill="#000" textLength="11.85" lengthAdjust="spacingAndGlyphs" >100</text>
<line x1="174.00" y1="436.10" x2="175.60" y2="436.10" stroke="#555" stroke-width="0.6" />
<line x1="174.00" y1="431.03" x2="175.60" y2="431.03" stroke="#555" stroke-width="0.6" />
<line x1="174.00" y1="425.95" x2="175.60" y2="425.95" stroke="#555" stroke-width="0.6" />
<line x1="174.00" y1="420.88" x2="175.60" y2="420.88" stroke="#555" stroke-width="0.6" />
<line x1="174.00" y1="415.80" x2="175.60" y2="415.80" stroke="#555" stroke-width="0.6" />
<line x1="174.00" y1="410.73" x2="175.60" y2="410.73" stroke="#555" stroke-width="0.6" />
<line x1="174.00" y1="405.65" x2="175.60" y2="405.65" stroke="#555" stroke-width="0.6" />
<line x1="174.00" y1="400.58" x2="175.60" y2="400.58" stroke="#555" stroke-width="0.6" />
<line x1="174.00" y1="395.50" x2="175.60" y2="395.50" stroke="#555" stroke-width="0.6" />
<line x1="174.00" y1="390.43" x2="175.60" y2="390.43" stroke="#555" stroke-width="0.6" />
<line x1="174.00" y1="385.35" x2="175.60" y2="385.35" stroke="#555" stroke-width="0.6" />
<line x1="174.00" y1="380.28" x2="175.60" y2="380.28" stroke="#555" stroke-width="0.6" />
<line x1="174.00" y1="375.20" x2="175.60" y2="375.20" stroke="#555" stroke-width="0.6" />
<line x1="174.00" y1="370.12" x2="175.60" y2="370.12" stroke="#555" stroke-width="0.6" />
<line x1="174.00" y1="365.05" x2="175.60" y2="365.05" stroke="#555" stroke-width="0.6" />
<line x1="174.00" y1="359.98" x2="175.60" y2="359.98" stroke="#555" stroke-width="0.6" />
<line x1="174.00" y1="354.90" x2="175.60" y2="354.90" stroke="#555" stroke-width="0.6" />
<line x1="174.00" y1="349.83" x2="175.60" y2="349.83" stroke="#555" stroke-width="0.6" />
<line x1="174.00" y1="344.75" x2="175.60" y2="344.75" stroke="#555" stroke-width="0.6" />
<line x1="174.00" y1="339.68" x2="175.60" y2="339.68" stroke="#555" stroke-width="0.6" />
<line x1="174.00" y1="334.60" x2="175.60" y2="334.60" stroke="#555" stroke-width="0.6" />
<line x1="175.60" y1="436.10" x2="175.60" y2="438.70" stroke="#333" stroke-width="0.9" />
<text x="174.80" y="448.50" font-size="8.2" font-family='"Liberation Sans", sans-serif' font-weight="bold" text-anchor="middle">10<tspan font-size="6.0" dy="-3.6">0</tspan></text>
<line x1="183.71" y1="436.10" x2="183.71" y2="437.70" stroke="#555" stroke-width="0.6" />
<line x1="188.46" y1="436.10" x2="188.46" y2="437.70" stroke="#555" stroke-width="0.6" />
<line x1="191.83" y1="436.10" x2="191.83" y2="437.70" stroke="#555" stroke-width="0.6" />
<line x1="194.44" y1="436.10" x2="194.44" y2="437.70" stroke="#555" stroke-width="0.6" />
<line x1="196.57" y1="436.10" x2="196.57" y2="437.70" stroke="#555" stroke-width="0.6" />
<line x1="198.38" y1="436.10" x2="198.38" y2="437.70" stroke="#555" stroke-width="0.6" />
<line x1="199.94" y1="436.10" x2="199.94" y2="437.70" stroke="#555" stroke-width="0.6" />
<line x1="201.32" y1="436.10" x2="201.32" y2="437.70" stroke="#555" stroke-width="0.6" />
<line x1="202.55" y1="436.10" x2="202.55" y2="438.70" stroke="#333" stroke-width="0.9" />
<text x="201.75" y="448.50" font-size="8.2" font-family='"Liberation Sans", sans-serif' font-weight="bold" text-anchor="middle">10<tspan font-size="6.0" dy="-3.6">1</tspan></text>
<line x1="210.66" y1="436.10" x2="210.66" y2="437.70" stroke="#555" stroke-width="0.6" />
<line x1="215.41" y1="436.10" x2="215.41" y2="437.70" stroke="#555" stroke-width="0.6" />
<line x1="218.78" y1="436.10" x2="218.78" y2="437.70" stroke="#555" stroke-width="0.6" />
<line x1="221.39" y1="436.10" x2="221.39" y2="437.70" stroke="#555" stroke-width="0.6" />
<line x1="223.52" y1="436.10" x2="223.52" y2="437.70" stroke="#555" stroke-width="0.6" />
<line x1="225.33" y1="436.10" x2="225.33" y2="437.70" stroke="#555" stroke-width="0.6" />
<line x1="226.89" y1="436.10" x2="226.89" y2="437.70" stroke="#555" stroke-width="0.6" />
<line x1="228.27" y1="436.10" x2="228.27" y2="437.70" stroke="#555" stroke-width="0.6" />
<line x1="229.50" y1="436.10" x2="229.50" y2="438.70" stroke="#333" stroke-width="0.9" />
<text x="228.70" y="448.50" font-size="8.2" font-family='"Liberation Sans", sans-serif' font-weight="bold" text-anchor="middle">10<tspan font-size="6.0" dy="-3.6">2</tspan></text>
<line x1="237.61" y1="436.10" x2="237.61" y2="437.70" stroke="#555" stroke-width="0.6" />
<line x1="242.36" y1="436.10" x2="242.36" y2="437.70" stroke="#555" stroke-width="0.6" />
<line x1="245.73" y1="436.10" x2="245.73" y2="437.70" stroke="#555" stroke-width="0.6" />
<line x1="248.34" y1="436.10" x2="248.34" y2="437.70" stroke="#555" stroke-width="0.6" />
<line x1="250.47" y1="436.10" x2="250.47" y2="437.70" stroke="#555" stroke-width="0.6" />
<line x1="252.28" y1="436.10" x2="252.28" y2="437.70" stroke="#555" stroke-width="0.6" />
<line x1="253.84" y1="436.10" x2="253.84" y2="437.70" stroke="#555" stroke-width="0.6" />
<line x1="255.22" y1="436.10" x2="255.22" y2="437.70" stroke="#555" stroke-width="0.6" />
<line x1="256.45" y1="436.10" x2="256.45" y2="438.70" stroke="#333" stroke-width="0.9" />
<text x="255.65" y="448.50" font-size="8.2" font-family='"Liberation Sans", sans-serif' font-weight="bold" text-anchor="middle">10<tspan font-size="6.0" dy="-3.6">3</tspan></text>
<line x1="264.56" y1="436.10" x2="264.56" y2="437.70" stroke="#555" stroke-width="0.6" />
<line x1="269.31" y1="436.10" x2="269.31" y2="437.70" stroke="#555" stroke-width="0.6" />
<line x1="272.68" y1="436.10" x2="272.68" y2="437.70" stroke="#555" stroke-width="0.6" />
<line x1="275.29" y1="436.10" x2="275.29" y2="437.70" stroke="#555" stroke-width="0.6" />
<line x1="277.42" y1="436.10" x2="277.42" y2="437.70" stroke="#555" stroke-width="0.6" />
<line x1="279.23" y1="436.10" x2="279.23" y2="437.70" stroke="#555" stroke-width="0.6" />
<line x1="280.79" y1="436.10" x2="280.79" y2="437.70" stroke="#555" stroke-width="0.6" />
<line x1="282.17" y1="436.10" x2="282.17" y2="437.70" stroke="#555" stroke-width="0.6" />
<line x1="283.40" y1="436.10" x2="283.40" y2="438.70" stroke="#333" stroke-width="0.9" />
<text x="282.60" y="448.50" font-size="8.2" font-family='"Liberation Sans", sans-serif' font-weight="bold" text-anchor="middle">10<tspan font-size="6.0" dy="-3.6">4</tspan></text>
<path d="M178.00,406.50 L180.40,397.30 L182.50,376.00 L184.60,377.40 L186.70,369.00 L188.10,370.40 L190.30,360.50 L192.40,347.70 L194.90,335.70 L197.30,359.10 L199.50,369.00 L202.30,400.10 L204.40,414.20 L207.30,431.20 L210.80,434.70 L216.50,431.90 L220.70,434.70 L226.40,435.50" fill="none" stroke="#fb0000" stroke-width="2.0" stroke-linejoin="round"/>
<path d="M177.10,436.10 L177.10,330.50 L177.10,405.00 L179.40,405.00 L181.40,394.40 L183.90,394.40 L186.00,359.00 L187.40,356.90 L188.90,337.10 L189.90,346.30 L191.00,335.70 L192.40,361.20 L193.80,347.70 L195.20,335.70 L196.60,347.70 L198.10,359.80 L199.50,361.90 L200.90,377.40 L203.00,400.10 L205.80,417.10 L208.00,431.20 L210.80,431.90 L212.90,431.20 L216.50,435.50 L220.70,434.10 L226.40,435.20 L229.20,435.70 L283.00,436.10" fill="none" stroke="#0000f6" stroke-width="2.0" stroke-linejoin="round"/>
<rect x="307.40" y="329.50" width="107.80" height="106.60" fill="none" stroke="#666" stroke-width="1.1"/>
<line x1="304.10" y1="436.10" x2="307.40" y2="436.10" stroke="#333" stroke-width="0.9" />
<text x="303.10" y="439.00" font-size="8.0" font-family='"Liberation Sans", sans-serif' font-weight="bold" text-anchor="end" fill="#000" textLength="3.95" lengthAdjust="spacingAndGlyphs" >0</text>
<line x1="304.10" y1="415.80" x2="307.40" y2="415.80" stroke="#333" stroke-width="0.9" />
<text x="303.10" y="418.70" font-size="8.0" font-family='"Liberation Sans", sans-serif' font-weight="bold" text-anchor="end" fill="#000" textLength="7.9" lengthAdjust="spacingAndGlyphs" >20</text>
<line x1="304.10" y1="395.50" x2="307.40" y2="395.50" stroke="#333" stroke-width="0.9" />
<text x="303.10" y="398.40" font-size="8.0" font-family='"Liberation Sans", sans-serif' font-weight="bold" text-anchor="end" fill="#000" textLength="7.9" lengthAdjust="spacingAndGlyphs" >40</text>
<line x1="304.10" y1="375.20" x2="307.40" y2="375.20" stroke="#333" stroke-width="0.9" />
<text x="303.10" y="378.10" font-size="8.0" font-family='"Liberation Sans", sans-serif' font-weight="bold" text-anchor="end" fill="#000" textLength="7.9" lengthAdjust="spacingAndGlyphs" >60</text>
<line x1="304.10" y1="354.90" x2="307.40" y2="354.90" stroke="#333" stroke-width="0.9" />
<text x="303.10" y="357.80" font-size="8.0" font-family='"Liberation Sans", sans-serif' font-weight="bold" text-anchor="end" fill="#000" textLength="7.9" lengthAdjust="spacingAndGlyphs" >80</text>
<line x1="304.10" y1="334.60" x2="307.40" y2="334.60" stroke="#333" stroke-width="0.9" />
<text x="303.10" y="337.50" font-size="8.0" font-family='"Liberation Sans", sans-serif' font-weight="bold" text-anchor="end" fill="#000" textLength="11.85" lengthAdjust="spacingAndGlyphs" >100</text>
<line x1="305.80" y1="436.10" x2="307.40" y2="436.10" stroke="#555" stroke-width="0.6" />
<line x1="305.80" y1="431.03" x2="307.40" y2="431.03" stroke="#555" stroke-width="0.6" />
<line x1="305.80" y1="425.95" x2="307.40" y2="425.95" stroke="#555" stroke-width="0.6" />
<line x1="305.80" y1="420.88" x2="307.40" y2="420.88" stroke="#555" stroke-width="0.6" />
<line x1="305.80" y1="415.80" x2="307.40" y2="415.80" stroke="#555" stroke-width="0.6" />
<line x1="305.80" y1="410.73" x2="307.40" y2="410.73" stroke="#555" stroke-width="0.6" />
<line x1="305.80" y1="405.65" x2="307.40" y2="405.65" stroke="#555" stroke-width="0.6" />
<line x1="305.80" y1="400.58" x2="307.40" y2="400.58" stroke="#555" stroke-width="0.6" />
<line x1="305.80" y1="395.50" x2="307.40" y2="395.50" stroke="#555" stroke-width="0.6" />
<line x1="305.80" y1="390.43" x2="307.40" y2="390.43" stroke="#555" stroke-width="0.6" />
<line x1="305.80" y1="385.35" x2="307.40" y2="385.35" stroke="#555" stroke-width="0.6" />
<line x1="305.80" y1="380.28" x2="307.40" y2="380.28" stroke="#555" stroke-width="0.6" />
<line x1="305.80" y1="375.20" x2="307.40" y2="375.20" stroke="#555" stroke-width="0.6" />
<line x1="305.80" y1="370.12" x2="307.40" y2="370.12" stroke="#555" stroke-width="0.6" />
<line x1="305.80" y1="365.05" x2="307.40" y2="365.05" stroke="#555" stroke-width="0.6" />
<line x1="305.80" y1="359.98" x2="307.40" y2="359.98" stroke="#555" stroke-width="0.6" />
<line x1="305.80" y1="354.90" x2="307.40" y2="354.90" stroke="#555" stroke-width="0.6" />
<line x1="305.80" y1="349.83" x2="307.40" y2="349.83" stroke="#555" stroke-width="0.6" />
<line x1="305.80" y1="344.75" x2="307.40" y2="344.75" stroke="#555" stroke-width="0.6" />
<line x1="305.80" y1="339.68" x2="307.40" y2="339.68" stroke="#555" stroke-width="0.6" />
<line x1="305.80" y1="334.60" x2="307.40" y2="334.60" stroke="#555" stroke-width="0.6" />
<line x1="307.40" y1="436.10" x2="307.40" y2="438.70" stroke="#333" stroke-width="0.9" />
<text x="306.60" y="448.50" font-size="8.2" font-family='"Liberation Sans", sans-serif' font-weight="bold" text-anchor="middle">10<tspan font-size="6.0" dy="-3.6">0</tspan></text>
<line x1="315.51" y1="436.10" x2="315.51" y2="437.70" stroke="#555" stroke-width="0.6" />
<line x1="320.26" y1="436.10" x2="320.26" y2="437.70" stroke="#555" stroke-width="0.6" />
<line x1="323.63" y1="436.10" x2="323.63" y2="437.70" stroke="#555" stroke-width="0.6" />
<line x1="326.24" y1="436.10" x2="326.24" y2="437.70" stroke="#555" stroke-width="0.6" />
<line x1="328.37" y1="436.10" x2="328.37" y2="437.70" stroke="#555" stroke-width="0.6" />
<line x1="330.18" y1="436.10" x2="330.18" y2="437.70" stroke="#555" stroke-width="0.6" />
<line x1="331.74" y1="436.10" x2="331.74" y2="437.70" stroke="#555" stroke-width="0.6" />
<line x1="333.12" y1="436.10" x2="333.12" y2="437.70" stroke="#555" stroke-width="0.6" />
<line x1="334.35" y1="436.10" x2="334.35" y2="438.70" stroke="#333" stroke-width="0.9" />
<text x="333.55" y="448.50" font-size="8.2" font-family='"Liberation Sans", sans-serif' font-weight="bold" text-anchor="middle">10<tspan font-size="6.0" dy="-3.6">1</tspan></text>
<line x1="342.46" y1="436.10" x2="342.46" y2="437.70" stroke="#555" stroke-width="0.6" />
<line x1="347.21" y1="436.10" x2="347.21" y2="437.70" stroke="#555" stroke-width="0.6" />
<line x1="350.58" y1="436.10" x2="350.58" y2="437.70" stroke="#555" stroke-width="0.6" />
<line x1="353.19" y1="436.10" x2="353.19" y2="437.70" stroke="#555" stroke-width="0.6" />
<line x1="355.32" y1="436.10" x2="355.32" y2="437.70" stroke="#555" stroke-width="0.6" />
<line x1="357.13" y1="436.10" x2="357.13" y2="437.70" stroke="#555" stroke-width="0.6" />
<line x1="358.69" y1="436.10" x2="358.69" y2="437.70" stroke="#555" stroke-width="0.6" />
<line x1="360.07" y1="436.10" x2="360.07" y2="437.70" stroke="#555" stroke-width="0.6" />
<line x1="361.30" y1="436.10" x2="361.30" y2="438.70" stroke="#333" stroke-width="0.9" />
<text x="360.50" y="448.50" font-size="8.2" font-family='"Liberation Sans", sans-serif' font-weight="bold" text-anchor="middle">10<tspan font-size="6.0" dy="-3.6">2</tspan></text>
<line x1="369.41" y1="436.10" x2="369.41" y2="437.70" stroke="#555" stroke-width="0.6" />
<line x1="374.16" y1="436.10" x2="374.16" y2="437.70" stroke="#555" stroke-width="0.6" />
<line x1="377.53" y1="436.10" x2="377.53" y2="437.70" stroke="#555" stroke-width="0.6" />
<line x1="380.14" y1="436.10" x2="380.14" y2="437.70" stroke="#555" stroke-width="0.6" />
<line x1="382.27" y1="436.10" x2="382.27" y2="437.70" stroke="#555" stroke-width="0.6" />
<line x1="384.08" y1="436.10" x2="384.08" y2="437.70" stroke="#555" stroke-width="0.6" />
<line x1="385.64" y1="436.10" x2="385.64" y2="437.70" stroke="#555" stroke-width="0.6" />
<line x1="387.02" y1="436.10" x2="387.02" y2="437.70" stroke="#555" stroke-width="0.6" />
<line x1="388.25" y1="436.10" x2="388.25" y2="438.70" stroke="#333" stroke-width="0.9" />
<text x="387.45" y="448.50" font-size="8.2" font-family='"Liberation Sans", sans-serif' font-weight="bold" text-anchor="middle">10<tspan font-size="6.0" dy="-3.6">3</tspan></text>
<line x1="396.36" y1="436.10" x2="396.36" y2="437.70" stroke="#555" stroke-width="0.6" />
<line x1="401.11" y1="436.10" x2="401.11" y2="437.70" stroke="#555" stroke-width="0.6" />
<line x1="404.48" y1="436.10" x2="404.48" y2="437.70" stroke="#555" stroke-width="0.6" />
<line x1="407.09" y1="436.10" x2="407.09" y2="437.70" stroke="#555" stroke-width="0.6" />
<line x1="409.22" y1="436.10" x2="409.22" y2="437.70" stroke="#555" stroke-width="0.6" />
<line x1="411.03" y1="436.10" x2="411.03" y2="437.70" stroke="#555" stroke-width="0.6" />
<line x1="412.59" y1="436.10" x2="412.59" y2="437.70" stroke="#555" stroke-width="0.6" />
<line x1="413.97" y1="436.10" x2="413.97" y2="437.70" stroke="#555" stroke-width="0.6" />
<line x1="415.20" y1="436.10" x2="415.20" y2="438.70" stroke="#333" stroke-width="0.9" />
<text x="414.40" y="448.50" font-size="8.2" font-family='"Liberation Sans", sans-serif' font-weight="bold" text-anchor="middle">10<tspan font-size="6.0" dy="-3.6">4</tspan></text>
<path d="M309.10,436.10 L309.10,330.50 L309.10,407.10 L311.40,401.50 L313.10,394.40 L314.20,376.00 L315.90,379.50 L317.30,376.00 L318.70,367.50 L320.10,368.90 L321.80,360.40 L323.70,347.70 L325.10,354.80 L327.20,335.00 L328.60,356.20 L330.80,361.90 L332.90,383.10 L335.00,405.70 L337.10,418.40 L339.20,426.90 L342.10,432.60 L347.70,432.30 L349.80,434.70 L355.50,434.70 L362.60,435.40 L366.30,436.10 L414.80,436.10" fill="none" stroke="#fb0000" stroke-width="2.0" stroke-linejoin="round"/>
<path d="M308.30,436.10 L315.90,436.10 L319.40,425.50 L323.70,411.40 L326.50,402.90 L328.60,397.20 L331.20,391.60 L332.90,380.20 L334.30,371.80 L336.00,351.20 L337.40,355.50 L338.50,349.10 L340.20,336.40 L341.40,347.70 L342.80,335.70 L344.20,346.30 L346.30,347.70 L347.70,356.20 L349.10,368.90 L350.10,384.50 L351.50,383.10 L352.70,394.40 L354.10,414.20 L356.20,419.80 L359.00,427.60 L362.60,432.60 L365.40,434.00 L368.20,435.40 L369.30,436.10 L414.80,436.10" fill="none" stroke="#0000f6" stroke-width="2.0" stroke-linejoin="round"/>
<rect x="438.70" y="329.50" width="107.80" height="106.60" fill="none" stroke="#666" stroke-width="1.1"/>
<line x1="435.40" y1="436.10" x2="438.70" y2="436.10" stroke="#333" stroke-width="0.9" />
<text x="434.40" y="439.00" font-size="8.0" font-family='"Liberation Sans", sans-serif' font-weight="bold" text-anchor="end" fill="#000" textLength="3.95" lengthAdjust="spacingAndGlyphs" >0</text>
<line x1="435.40" y1="415.80" x2="438.70" y2="415.80" stroke="#333" stroke-width="0.9" />
<text x="434.40" y="418.70" font-size="8.0" font-family='"Liberation Sans", sans-serif' font-weight="bold" text-anchor="end" fill="#000" textLength="7.9" lengthAdjust="spacingAndGlyphs" >20</text>
<line x1="435.40" y1="395.50" x2="438.70" y2="395.50" stroke="#333" stroke-width="0.9" />
<text x="434.40" y="398.40" font-size="8.0" font-family='"Liberation Sans", sans-serif' font-weight="bold" text-anchor="end" fill="#000" textLength="7.9" lengthAdjust="spacingAndGlyphs" >40</text>
<line x1="435.40" y1="375.20" x2="438.70" y2="375.20" stroke="#333" stroke-width="0.9" />
<text x="434.40" y="378.10" font-size="8.0" font-family='"Liberation Sans", sans-serif' font-weight="bold" text-anchor="end" fill="#000" textLength="7.9" lengthAdjust="spacingAndGlyphs" >60</text>
<line x1="435.40" y1="354.90" x2="438.70" y2="354.90" stroke="#333" stroke-width="0.9" />
<text x="434.40" y="357.80" font-size="8.0" font-family='"Liberation Sans", sans-serif' font-weight="bold" text-anchor="end" fill="#000" textLength="7.9" lengthAdjust="spacingAndGlyphs" >80</text>
<line x1="435.40" y1="334.60" x2="438.70" y2="334.60" stroke="#333" stroke-width="0.9" />
<text x="434.40" y="337.50" font-size="8.0" font-family='"Liberation Sans", sans-serif' font-weight="bold" text-anchor="end" fill="#000" textLength="11.85" lengthAdjust="spacingAndGlyphs" >100</text>
<line x1="437.10" y1="436.10" x2="438.70" y2="436.10" stroke="#555" stroke-width="0.6" />
<line x1="437.10" y1="431.03" x2="438.70" y2="431.03" stroke="#555" stroke-width="0.6" />
<line x1="437.10" y1="425.95" x2="438.70" y2="425.95" stroke="#555" stroke-width="0.6" />
<line x1="437.10" y1="420.88" x2="438.70" y2="420.88" stroke="#555" stroke-width="0.6" />
<line x1="437.10" y1="415.80" x2="438.70" y2="415.80" stroke="#555" stroke-width="0.6" />
<line x1="437.10" y1="410.73" x2="438.70" y2="410.73" stroke="#555" stroke-width="0.6" />
<line x1="437.10" y1="405.65" x2="438.70" y2="405.65" stroke="#555" stroke-width="0.6" />
<line x1="437.10" y1="400.58" x2="438.70" y2="400.58" stroke="#555" stroke-width="0.6" />
<line x1="437.10" y1="395.50" x2="438.70" y2="395.50" stroke="#555" stroke-width="0.6" />
<line x1="437.10" y1="390.43" x2="438.70" y2="390.43" stroke="#555" stroke-width="0.6" />
<line x1="437.10" y1="385.35" x2="438.70" y2="385.35" stroke="#555" stroke-width="0.6" />
<line x1="437.10" y1="380.28" x2="438.70" y2="380.28" stroke="#555" stroke-width="0.6" />
<line x1="437.10" y1="375.20" x2="438.70" y2="375.20" stroke="#555" stroke-width="0.6" />
<line x1="437.10" y1="370.12" x2="438.70" y2="370.12" stroke="#555" stroke-width="0.6" />
<line x1="437.10" y1="365.05" x2="438.70" y2="365.05" stroke="#555" stroke-width="0.6" />
<line x1="437.10" y1="359.98" x2="438.70" y2="359.98" stroke="#555" stroke-width="0.6" />
<line x1="437.10" y1="354.90" x2="438.70" y2="354.90" stroke="#555" stroke-width="0.6" />
<line x1="437.10" y1="349.83" x2="438.70" y2="349.83" stroke="#555" stroke-width="0.6" />
<line x1="437.10" y1="344.75" x2="438.70" y2="344.75" stroke="#555" stroke-width="0.6" />
<line x1="437.10" y1="339.68" x2="438.70" y2="339.68" stroke="#555" stroke-width="0.6" />
<line x1="437.10" y1="334.60" x2="438.70" y2="334.60" stroke="#555" stroke-width="0.6" />
<line x1="438.70" y1="436.10" x2="438.70" y2="438.70" stroke="#333" stroke-width="0.9" />
<text x="437.90" y="448.50" font-size="8.2" font-family='"Liberation Sans", sans-serif' font-weight="bold" text-anchor="middle">10<tspan font-size="6.0" dy="-3.6">0</tspan></text>
<line x1="446.81" y1="436.10" x2="446.81" y2="437.70" stroke="#555" stroke-width="0.6" />
<line x1="451.56" y1="436.10" x2="451.56" y2="437.70" stroke="#555" stroke-width="0.6" />
<line x1="454.93" y1="436.10" x2="454.93" y2="437.70" stroke="#555" stroke-width="0.6" />
<line x1="457.54" y1="436.10" x2="457.54" y2="437.70" stroke="#555" stroke-width="0.6" />
<line x1="459.67" y1="436.10" x2="459.67" y2="437.70" stroke="#555" stroke-width="0.6" />
<line x1="461.48" y1="436.10" x2="461.48" y2="437.70" stroke="#555" stroke-width="0.6" />
<line x1="463.04" y1="436.10" x2="463.04" y2="437.70" stroke="#555" stroke-width="0.6" />
<line x1="464.42" y1="436.10" x2="464.42" y2="437.70" stroke="#555" stroke-width="0.6" />
<line x1="465.65" y1="436.10" x2="465.65" y2="438.70" stroke="#333" stroke-width="0.9" />
<text x="464.85" y="448.50" font-size="8.2" font-family='"Liberation Sans", sans-serif' font-weight="bold" text-anchor="middle">10<tspan font-size="6.0" dy="-3.6">1</tspan></text>
<line x1="473.76" y1="436.10" x2="473.76" y2="437.70" stroke="#555" stroke-width="0.6" />
<line x1="478.51" y1="436.10" x2="478.51" y2="437.70" stroke="#555" stroke-width="0.6" />
<line x1="481.88" y1="436.10" x2="481.88" y2="437.70" stroke="#555" stroke-width="0.6" />
<line x1="484.49" y1="436.10" x2="484.49" y2="437.70" stroke="#555" stroke-width="0.6" />
<line x1="486.62" y1="436.10" x2="486.62" y2="437.70" stroke="#555" stroke-width="0.6" />
<line x1="488.43" y1="436.10" x2="488.43" y2="437.70" stroke="#555" stroke-width="0.6" />
<line x1="489.99" y1="436.10" x2="489.99" y2="437.70" stroke="#555" stroke-width="0.6" />
<line x1="491.37" y1="436.10" x2="491.37" y2="437.70" stroke="#555" stroke-width="0.6" />
<line x1="492.60" y1="436.10" x2="492.60" y2="438.70" stroke="#333" stroke-width="0.9" />
<text x="491.80" y="448.50" font-size="8.2" font-family='"Liberation Sans", sans-serif' font-weight="bold" text-anchor="middle">10<tspan font-size="6.0" dy="-3.6">2</tspan></text>
<line x1="500.71" y1="436.10" x2="500.71" y2="437.70" stroke="#555" stroke-width="0.6" />
<line x1="505.46" y1="436.10" x2="505.46" y2="437.70" stroke="#555" stroke-width="0.6" />
<line x1="508.83" y1="436.10" x2="508.83" y2="437.70" stroke="#555" stroke-width="0.6" />
<line x1="511.44" y1="436.10" x2="511.44" y2="437.70" stroke="#555" stroke-width="0.6" />
<line x1="513.57" y1="436.10" x2="513.57" y2="437.70" stroke="#555" stroke-width="0.6" />
<line x1="515.38" y1="436.10" x2="515.38" y2="437.70" stroke="#555" stroke-width="0.6" />
<line x1="516.94" y1="436.10" x2="516.94" y2="437.70" stroke="#555" stroke-width="0.6" />
<line x1="518.32" y1="436.10" x2="518.32" y2="437.70" stroke="#555" stroke-width="0.6" />
<line x1="519.55" y1="436.10" x2="519.55" y2="438.70" stroke="#333" stroke-width="0.9" />
<text x="518.75" y="448.50" font-size="8.2" font-family='"Liberation Sans", sans-serif' font-weight="bold" text-anchor="middle">10<tspan font-size="6.0" dy="-3.6">3</tspan></text>
<line x1="527.66" y1="436.10" x2="527.66" y2="437.70" stroke="#555" stroke-width="0.6" />
<line x1="532.41" y1="436.10" x2="532.41" y2="437.70" stroke="#555" stroke-width="0.6" />
<line x1="535.78" y1="436.10" x2="535.78" y2="437.70" stroke="#555" stroke-width="0.6" />
<line x1="538.39" y1="436.10" x2="538.39" y2="437.70" stroke="#555" stroke-width="0.6" />
<line x1="540.52" y1="436.10" x2="540.52" y2="437.70" stroke="#555" stroke-width="0.6" />
<line x1="542.33" y1="436.10" x2="542.33" y2="437.70" stroke="#555" stroke-width="0.6" />
<line x1="543.89" y1="436.10" x2="543.89" y2="437.70" stroke="#555" stroke-width="0.6" />
<line x1="545.27" y1="436.10" x2="545.27" y2="437.70" stroke="#555" stroke-width="0.6" />
<line x1="546.50" y1="436.10" x2="546.50" y2="438.70" stroke="#333" stroke-width="0.9" />
<text x="545.70" y="448.50" font-size="8.2" font-family='"Liberation Sans", sans-serif' font-weight="bold" text-anchor="middle">10<tspan font-size="6.0" dy="-3.6">4</tspan></text>
<path d="M440.30,436.10 L440.30,330.50 L440.26,407.10 L442.20,401.40 L443.90,392.90 L445.40,376.00 L446.80,378.80 L448.20,375.30 L449.60,367.50 L451.00,370.30 L452.10,361.10 L454.30,347.70 L455.70,354.80 L458.10,335.70 L459.90,361.80 L462.00,360.40 L463.40,380.20 L466.30,411.30 L469.10,426.90 L471.20,428.30 L473.30,433.90 L479.00,432.50 L481.10,434.60 L487.50,435.10 L492.00,436.10 L546.50,436.10" fill="none" stroke="#fb0000" stroke-width="2.0" stroke-linejoin="round"/>
<path d="M440.00,436.10 L480.40,436.10 L483.20,424.00 L486.10,422.60 L488.20,411.30 L490.00,390.10 L491.70,373.10 L493.10,354.80 L493.80,344.20 L496.00,339.90 L497.40,337.80 L499.10,335.70 L500.20,339.90 L501.30,373.10 L503.00,374.60 L504.40,394.30 L506.60,402.80 L508.70,418.40 L511.50,431.10 L515.00,433.90 L518.00,435.10 L520.00,436.10 L546.50,436.10" fill="none" stroke="#0000f6" stroke-width="2.0" stroke-linejoin="round"/>
<rect x="570.70" y="329.50" width="107.80" height="106.60" fill="none" stroke="#666" stroke-width="1.1"/>
<line x1="567.40" y1="436.10" x2="570.70" y2="436.10" stroke="#333" stroke-width="0.9" />
<text x="566.40" y="439.00" font-size="8.0" font-family='"Liberation Sans", sans-serif' font-weight="bold" text-anchor="end" fill="#000" textLength="3.95" lengthAdjust="spacingAndGlyphs" >0</text>
<line x1="567.40" y1="415.80" x2="570.70" y2="415.80" stroke="#333" stroke-width="0.9" />
<text x="566.40" y="418.70" font-size="8.0" font-family='"Liberation Sans", sans-serif' font-weight="bold" text-anchor="end" fill="#000" textLength="7.9" lengthAdjust="spacingAndGlyphs" >20</text>
<line x1="567.40" y1="395.50" x2="570.70" y2="395.50" stroke="#333" stroke-width="0.9" />
<text x="566.40" y="398.40" font-size="8.0" font-family='"Liberation Sans", sans-serif' font-weight="bold" text-anchor="end" fill="#000" textLength="7.9" lengthAdjust="spacingAndGlyphs" >40</text>
<line x1="567.40" y1="375.20" x2="570.70" y2="375.20" stroke="#333" stroke-width="0.9" />
<text x="566.40" y="378.10" font-size="8.0" font-family='"Liberation Sans", sans-serif' font-weight="bold" text-anchor="end" fill="#000" textLength="7.9" lengthAdjust="spacingAndGlyphs" >60</text>
<line x1="567.40" y1="354.90" x2="570.70" y2="354.90" stroke="#333" stroke-width="0.9" />
<text x="566.40" y="357.80" font-size="8.0" font-family='"Liberation Sans", sans-serif' font-weight="bold" text-anchor="end" fill="#000" textLength="7.9" lengthAdjust="spacingAndGlyphs" >80</text>
<line x1="567.40" y1="334.60" x2="570.70" y2="334.60" stroke="#333" stroke-width="0.9" />
<text x="566.40" y="337.50" font-size="8.0" font-family='"Liberation Sans", sans-serif' font-weight="bold" text-anchor="end" fill="#000" textLength="11.85" lengthAdjust="spacingAndGlyphs" >100</text>
<line x1="569.10" y1="436.10" x2="570.70" y2="436.10" stroke="#555" stroke-width="0.6" />
<line x1="569.10" y1="431.03" x2="570.70" y2="431.03" stroke="#555" stroke-width="0.6" />
<line x1="569.10" y1="425.95" x2="570.70" y2="425.95" stroke="#555" stroke-width="0.6" />
<line x1="569.10" y1="420.88" x2="570.70" y2="420.88" stroke="#555" stroke-width="0.6" />
<line x1="569.10" y1="415.80" x2="570.70" y2="415.80" stroke="#555" stroke-width="0.6" />
<line x1="569.10" y1="410.73" x2="570.70" y2="410.73" stroke="#555" stroke-width="0.6" />
<line x1="569.10" y1="405.65" x2="570.70" y2="405.65" stroke="#555" stroke-width="0.6" />
<line x1="569.10" y1="400.58" x2="570.70" y2="400.58" stroke="#555" stroke-width="0.6" />
<line x1="569.10" y1="395.50" x2="570.70" y2="395.50" stroke="#555" stroke-width="0.6" />
<line x1="569.10" y1="390.43" x2="570.70" y2="390.43" stroke="#555" stroke-width="0.6" />
<line x1="569.10" y1="385.35" x2="570.70" y2="385.35" stroke="#555" stroke-width="0.6" />
<line x1="569.10" y1="380.28" x2="570.70" y2="380.28" stroke="#555" stroke-width="0.6" />
<line x1="569.10" y1="375.20" x2="570.70" y2="375.20" stroke="#555" stroke-width="0.6" />
<line x1="569.10" y1="370.12" x2="570.70" y2="370.12" stroke="#555" stroke-width="0.6" />
<line x1="569.10" y1="365.05" x2="570.70" y2="365.05" stroke="#555" stroke-width="0.6" />
<line x1="569.10" y1="359.98" x2="570.70" y2="359.98" stroke="#555" stroke-width="0.6" />
<line x1="569.10" y1="354.90" x2="570.70" y2="354.90" stroke="#555" stroke-width="0.6" />
<line x1="569.10" y1="349.83" x2="570.70" y2="349.83" stroke="#555" stroke-width="0.6" />
<line x1="569.10" y1="344.75" x2="570.70" y2="344.75" stroke="#555" stroke-width="0.6" />
<line x1="569.10" y1="339.68" x2="570.70" y2="339.68" stroke="#555" stroke-width="0.6" />
<line x1="569.10" y1="334.60" x2="570.70" y2="334.60" stroke="#555" stroke-width="0.6" />
<line x1="570.70" y1="436.10" x2="570.70" y2="438.70" stroke="#333" stroke-width="0.9" />
<text x="569.90" y="448.50" font-size="8.2" font-family='"Liberation Sans", sans-serif' font-weight="bold" text-anchor="middle">10<tspan font-size="6.0" dy="-3.6">0</tspan></text>
<line x1="578.81" y1="436.10" x2="578.81" y2="437.70" stroke="#555" stroke-width="0.6" />
<line x1="583.56" y1="436.10" x2="583.56" y2="437.70" stroke="#555" stroke-width="0.6" />
<line x1="586.93" y1="436.10" x2="586.93" y2="437.70" stroke="#555" stroke-width="0.6" />
<line x1="589.54" y1="436.10" x2="589.54" y2="437.70" stroke="#555" stroke-width="0.6" />
<line x1="591.67" y1="436.10" x2="591.67" y2="437.70" stroke="#555" stroke-width="0.6" />
<line x1="593.48" y1="436.10" x2="593.48" y2="437.70" stroke="#555" stroke-width="0.6" />
<line x1="595.04" y1="436.10" x2="595.04" y2="437.70" stroke="#555" stroke-width="0.6" />
<line x1="596.42" y1="436.10" x2="596.42" y2="437.70" stroke="#555" stroke-width="0.6" />
<line x1="597.65" y1="436.10" x2="597.65" y2="438.70" stroke="#333" stroke-width="0.9" />
<text x="596.85" y="448.50" font-size="8.2" font-family='"Liberation Sans", sans-serif' font-weight="bold" text-anchor="middle">10<tspan font-size="6.0" dy="-3.6">1</tspan></text>
<line x1="605.76" y1="436.10" x2="605.76" y2="437.70" stroke="#555" stroke-width="0.6" />
<line x1="610.51" y1="436.10" x2="610.51" y2="437.70" stroke="#555" stroke-width="0.6" />
<line x1="613.88" y1="436.10" x2="613.88" y2="437.70" stroke="#555" stroke-width="0.6" />
<line x1="616.49" y1="436.10" x2="616.49" y2="437.70" stroke="#555" stroke-width="0.6" />
<line x1="618.62" y1="436.10" x2="618.62" y2="437.70" stroke="#555" stroke-width="0.6" />
<line x1="620.43" y1="436.10" x2="620.43" y2="437.70" stroke="#555" stroke-width="0.6" />
<line x1="621.99" y1="436.10" x2="621.99" y2="437.70" stroke="#555" stroke-width="0.6" />
<line x1="623.37" y1="436.10" x2="623.37" y2="437.70" stroke="#555" stroke-width="0.6" />
<line x1="624.60" y1="436.10" x2="624.60" y2="438.70" stroke="#333" stroke-width="0.9" />
<text x="623.80" y="448.50" font-size="8.2" font-family='"Liberation Sans", sans-serif' font-weight="bold" text-anchor="middle">10<tspan font-size="6.0" dy="-3.6">2</tspan></text>
<line x1="632.71" y1="436.10" x2="632.71" y2="437.70" stroke="#555" stroke-width="0.6" />
<line x1="637.46" y1="436.10" x2="637.46" y2="437.70" stroke="#555" stroke-width="0.6" />
<line x1="640.83" y1="436.10" x2="640.83" y2="437.70" stroke="#555" stroke-width="0.6" />
<line x1="643.44" y1="436.10" x2="643.44" y2="437.70" stroke="#555" stroke-width="0.6" />
<line x1="645.57" y1="436.10" x2="645.57" y2="437.70" stroke="#555" stroke-width="0.6" />
<line x1="647.38" y1="436.10" x2="647.38" y2="437.70" stroke="#555" stroke-width="0.6" />
<line x1="648.94" y1="436.10" x2="648.94" y2="437.70" stroke="#555" stroke-width="0.6" />
<line x1="650.32" y1="436.10" x2="650.32" y2="437.70" stroke="#555" stroke-width="0.6" />
<line x1="651.55" y1="436.10" x2="651.55" y2="438.70" stroke="#333" stroke-width="0.9" />
<text x="650.75" y="448.50" font-size="8.2" font-family='"Liberation Sans", sans-serif' font-weight="bold" text-anchor="middle">10<tspan font-size="6.0" dy="-3.6">3</tspan></text>
<line x1="659.66" y1="436.10" x2="659.66" y2="437.70" stroke="#555" stroke-width="0.6" />
<line x1="664.41" y1="436.10" x2="664.41" y2="437.70" stroke="#555" stroke-width="0.6" />
<line x1="667.78" y1="436.10" x2="667.78" y2="437.70" stroke="#555" stroke-width="0.6" />
<line x1="670.39" y1="436.10" x2="670.39" y2="437.70" stroke="#555" stroke-width="0.6" />
<line x1="672.52" y1="436.10" x2="672.52" y2="437.70" stroke="#555" stroke-width="0.6" />
<line x1="674.33" y1="436.10" x2="674.33" y2="437.70" stroke="#555" stroke-width="0.6" />
<line x1="675.89" y1="436.10" x2="675.89" y2="437.70" stroke="#555" stroke-width="0.6" />
<line x1="677.27" y1="436.10" x2="677.27" y2="437.70" stroke="#555" stroke-width="0.6" />
<line x1="678.50" y1="436.10" x2="678.50" y2="438.70" stroke="#333" stroke-width="0.9" />
<text x="677.70" y="448.50" font-size="8.2" font-family='"Liberation Sans", sans-serif' font-weight="bold" text-anchor="middle">10<tspan font-size="6.0" dy="-3.6">4</tspan></text>
<path d="M572.50,436.10 L572.50,330.50 L572.26,407.10 L574.20,401.40 L575.90,392.90 L577.40,376.00 L578.80,378.80 L580.20,375.30 L581.60,367.50 L583.00,370.30 L584.10,361.10 L586.30,347.70 L587.70,354.80 L590.10,335.70 L591.90,361.80 L594.00,360.40 L595.40,380.20 L598.30,411.30 L601.10,426.90 L603.20,428.30 L605.30,433.90 L611.00,432.50 L613.10,434.60 L619.50,435.10 L624.00,436.10 L678.50,436.10" fill="none" stroke="#fb0000" stroke-width="2.0" stroke-linejoin="round"/>
<path d="M572.00,436.10 L598.30,436.10 L600.00,422.60 L601.80,411.30 L604.60,401.40 L606.50,387.30 L608.20,371.70 L609.30,360.40 L611.00,342.80 L612.10,344.90 L613.10,340.60 L614.90,335.70 L616.40,342.10 L617.80,351.90 L618.80,359.70 L619.80,366.10 L620.90,380.20 L622.30,378.80 L623.70,390.10 L625.10,405.70 L626.50,404.20 L628.00,418.40 L630.10,419.80 L632.20,428.30 L634.30,435.30 L635.00,436.10 L678.50,436.10" fill="none" stroke="#0000f6" stroke-width="2.0" stroke-linejoin="round"/>
<rect x="175.60" y="452.10" width="107.80" height="106.60" fill="none" stroke="#666" stroke-width="1.1"/>
<line x1="172.30" y1="558.70" x2="175.60" y2="558.70" stroke="#333" stroke-width="0.9" />
<text x="171.30" y="561.60" font-size="8.0" font-family='"Liberation Sans", sans-serif' font-weight="bold" text-anchor="end" fill="#000" textLength="3.95" lengthAdjust="spacingAndGlyphs" >0</text>
<line x1="172.30" y1="538.40" x2="175.60" y2="538.40" stroke="#333" stroke-width="0.9" />
<text x="171.30" y="541.30" font-size="8.0" font-family='"Liberation Sans", sans-serif' font-weight="bold" text-anchor="end" fill="#000" textLength="7.9" lengthAdjust="spacingAndGlyphs" >20</text>
<line x1="172.30" y1="518.10" x2="175.60" y2="518.10" stroke="#333" stroke-width="0.9" />
<text x="171.30" y="521.00" font-size="8.0" font-family='"Liberation Sans", sans-serif' font-weight="bold" text-anchor="end" fill="#000" textLength="7.9" lengthAdjust="spacingAndGlyphs" >40</text>
<line x1="172.30" y1="497.80" x2="175.60" y2="497.80" stroke="#333" stroke-width="0.9" />
<text x="171.30" y="500.70" font-size="8.0" font-family='"Liberation Sans", sans-serif' font-weight="bold" text-anchor="end" fill="#000" textLength="7.9" lengthAdjust="spacingAndGlyphs" >60</text>
<line x1="172.30" y1="477.50" x2="175.60" y2="477.50" stroke="#333" stroke-width="0.9" />
<text x="171.30" y="480.40" font-size="8.0" font-family='"Liberation Sans", sans-serif' font-weight="bold" text-anchor="end" fill="#000" textLength="7.9" lengthAdjust="spacingAndGlyphs" >80</text>
<line x1="172.30" y1="457.20" x2="175.60" y2="457.20" stroke="#333" stroke-width="0.9" />
<text x="171.30" y="460.10" font-size="8.0" font-family='"Liberation Sans", sans-serif' font-weight="bold" text-anchor="end" fill="#000" textLength="11.85" lengthAdjust="spacingAndGlyphs" >100</text>
<line x1="174.00" y1="558.70" x2="175.60" y2="558.70" stroke="#555" stroke-width="0.6" />
<line x1="174.00" y1="553.62" x2="175.60" y2="553.62" stroke="#555" stroke-width="0.6" />
<line x1="174.00" y1="548.55" x2="175.60" y2="548.55" stroke="#555" stroke-width="0.6" />
<line x1="174.00" y1="543.48" x2="175.60" y2="543.48" stroke="#555" stroke-width="0.6" />
<line x1="174.00" y1="538.40" x2="175.60" y2="538.40" stroke="#555" stroke-width="0.6" />
<line x1="174.00" y1="533.33" x2="175.60" y2="533.33" stroke="#555" stroke-width="0.6" />
<line x1="174.00" y1="528.25" x2="175.60" y2="528.25" stroke="#555" stroke-width="0.6" />
<line x1="174.00" y1="523.18" x2="175.60" y2="523.18" stroke="#555" stroke-width="0.6" />
<line x1="174.00" y1="518.10" x2="175.60" y2="518.10" stroke="#555" stroke-width="0.6" />
<line x1="174.00" y1="513.03" x2="175.60" y2="513.03" stroke="#555" stroke-width="0.6" />
<line x1="174.00" y1="507.95" x2="175.60" y2="507.95" stroke="#555" stroke-width="0.6" />
<line x1="174.00" y1="502.88" x2="175.60" y2="502.88" stroke="#555" stroke-width="0.6" />
<line x1="174.00" y1="497.80" x2="175.60" y2="497.80" stroke="#555" stroke-width="0.6" />
<line x1="174.00" y1="492.73" x2="175.60" y2="492.73" stroke="#555" stroke-width="0.6" />
<line x1="174.00" y1="487.65" x2="175.60" y2="487.65" stroke="#555" stroke-width="0.6" />
<line x1="174.00" y1="482.58" x2="175.60" y2="482.58" stroke="#555" stroke-width="0.6" />
<line x1="174.00" y1="477.50" x2="175.60" y2="477.50" stroke="#555" stroke-width="0.6" />
<line x1="174.00" y1="472.43" x2="175.60" y2="472.43" stroke="#555" stroke-width="0.6" />
<line x1="174.00" y1="467.35" x2="175.60" y2="467.35" stroke="#555" stroke-width="0.6" />
<line x1="174.00" y1="462.28" x2="175.60" y2="462.28" stroke="#555" stroke-width="0.6" />
<line x1="174.00" y1="457.20" x2="175.60" y2="457.20" stroke="#555" stroke-width="0.6" />
<line x1="175.60" y1="558.70" x2="175.60" y2="561.30" stroke="#333" stroke-width="0.9" />
<text x="174.80" y="571.10" font-size="8.2" font-family='"Liberation Sans", sans-serif' font-weight="bold" text-anchor="middle">10<tspan font-size="6.0" dy="-3.6">0</tspan></text>
<line x1="183.71" y1="558.70" x2="183.71" y2="560.30" stroke="#555" stroke-width="0.6" />
<line x1="188.46" y1="558.70" x2="188.46" y2="560.30" stroke="#555" stroke-width="0.6" />
<line x1="191.83" y1="558.70" x2="191.83" y2="560.30" stroke="#555" stroke-width="0.6" />
<line x1="194.44" y1="558.70" x2="194.44" y2="560.30" stroke="#555" stroke-width="0.6" />
<line x1="196.57" y1="558.70" x2="196.57" y2="560.30" stroke="#555" stroke-width="0.6" />
<line x1="198.38" y1="558.70" x2="198.38" y2="560.30" stroke="#555" stroke-width="0.6" />
<line x1="199.94" y1="558.70" x2="199.94" y2="560.30" stroke="#555" stroke-width="0.6" />
<line x1="201.32" y1="558.70" x2="201.32" y2="560.30" stroke="#555" stroke-width="0.6" />
<line x1="202.55" y1="558.70" x2="202.55" y2="561.30" stroke="#333" stroke-width="0.9" />
<text x="201.75" y="571.10" font-size="8.2" font-family='"Liberation Sans", sans-serif' font-weight="bold" text-anchor="middle">10<tspan font-size="6.0" dy="-3.6">1</tspan></text>
<line x1="210.66" y1="558.70" x2="210.66" y2="560.30" stroke="#555" stroke-width="0.6" />
<line x1="215.41" y1="558.70" x2="215.41" y2="560.30" stroke="#555" stroke-width="0.6" />
<line x1="218.78" y1="558.70" x2="218.78" y2="560.30" stroke="#555" stroke-width="0.6" />
<line x1="221.39" y1="558.70" x2="221.39" y2="560.30" stroke="#555" stroke-width="0.6" />
<line x1="223.52" y1="558.70" x2="223.52" y2="560.30" stroke="#555" stroke-width="0.6" />
<line x1="225.33" y1="558.70" x2="225.33" y2="560.30" stroke="#555" stroke-width="0.6" />
<line x1="226.89" y1="558.70" x2="226.89" y2="560.30" stroke="#555" stroke-width="0.6" />
<line x1="228.27" y1="558.70" x2="228.27" y2="560.30" stroke="#555" stroke-width="0.6" />
<line x1="229.50" y1="558.70" x2="229.50" y2="561.30" stroke="#333" stroke-width="0.9" />
<text x="228.70" y="571.10" font-size="8.2" font-family='"Liberation Sans", sans-serif' font-weight="bold" text-anchor="middle">10<tspan font-size="6.0" dy="-3.6">2</tspan></text>
<line x1="237.61" y1="558.70" x2="237.61" y2="560.30" stroke="#555" stroke-width="0.6" />
<line x1="242.36" y1="558.70" x2="242.36" y2="560.30" stroke="#555" stroke-width="0.6" />
<line x1="245.73" y1="558.70" x2="245.73" y2="560.30" stroke="#555" stroke-width="0.6" />
<line x1="248.34" y1="558.70" x2="248.34" y2="560.30" stroke="#555" stroke-width="0.6" />
<line x1="250.47" y1="558.70" x2="250.47" y2="560.30" stroke="#555" stroke-width="0.6" />
<line x1="252.28" y1="558.70" x2="252.28" y2="560.30" stroke="#555" stroke-width="0.6" />
<line x1="253.84" y1="558.70" x2="253.84" y2="560.30" stroke="#555" stroke-width="0.6" />
<line x1="255.22" y1="558.70" x2="255.22" y2="560.30" stroke="#555" stroke-width="0.6" />
<line x1="256.45" y1="558.70" x2="256.45" y2="561.30" stroke="#333" stroke-width="0.9" />
<text x="255.65" y="571.10" font-size="8.2" font-family='"Liberation Sans", sans-serif' font-weight="bold" text-anchor="middle">10<tspan font-size="6.0" dy="-3.6">3</tspan></text>
<line x1="264.56" y1="558.70" x2="264.56" y2="560.30" stroke="#555" stroke-width="0.6" />
<line x1="269.31" y1="558.70" x2="269.31" y2="560.30" stroke="#555" stroke-width="0.6" />
<line x1="272.68" y1="558.70" x2="272.68" y2="560.30" stroke="#555" stroke-width="0.6" />
<line x1="275.29" y1="558.70" x2="275.29" y2="560.30" stroke="#555" stroke-width="0.6" />
<line x1="277.42" y1="558.70" x2="277.42" y2="560.30" stroke="#555" stroke-width="0.6" />
<line x1="279.23" y1="558.70" x2="279.23" y2="560.30" stroke="#555" stroke-width="0.6" />
<line x1="280.79" y1="558.70" x2="280.79" y2="560.30" stroke="#555" stroke-width="0.6" />
<line x1="282.17" y1="558.70" x2="282.17" y2="560.30" stroke="#555" stroke-width="0.6" />
<line x1="283.40" y1="558.70" x2="283.40" y2="561.30" stroke="#333" stroke-width="0.9" />
<text x="282.60" y="571.10" font-size="8.2" font-family='"Liberation Sans", sans-serif' font-weight="bold" text-anchor="middle">10<tspan font-size="6.0" dy="-3.6">4</tspan></text>
<path d="M177.50,558.70 L177.50,453.10 L177.50,551.80 L179.70,546.20 L181.80,543.30 L183.90,539.10 L186.70,533.40 L189.60,528.50 L191.70,522.80 L193.10,506.60 L193.80,499.50 L195.90,495.30 L197.30,474.00 L198.70,471.20 L200.20,459.90 L201.60,464.10 L203.00,458.50 L204.40,465.60 L205.80,476.20 L207.20,478.30 L208.60,492.40 L210.10,510.80 L211.50,529.20 L213.60,544.80 L216.40,553.20 L219.30,556.80 L223.50,556.80 L227.70,558.20 L231.50,558.70" fill="none" stroke="#fb0000" stroke-width="2.0" stroke-linejoin="round"/>
<path d="M177.10,558.70 L177.10,453.10 L177.10,555.40 L180.40,554.70 L183.90,551.80 L187.40,549.00 L190.30,547.60 L193.10,540.50 L195.20,532.00 L197.30,519.30 L199.50,509.40 L200.90,505.20 L202.30,491.00 L203.70,481.10 L205.10,467.00 L206.50,458.50 L207.90,464.10 L209.40,465.60 L210.80,476.90 L212.20,479.70 L213.60,503.70 L215.70,523.50 L217.80,540.50 L219.30,551.80 L221.40,556.10 L227.70,557.50 L233.40,558.60 L283.00,558.70" fill="none" stroke="#0000f6" stroke-width="2.0" stroke-linejoin="round"/>
<rect x="307.40" y="452.10" width="107.80" height="106.60" fill="none" stroke="#666" stroke-width="1.1"/>
<line x1="304.10" y1="558.70" x2="307.40" y2="558.70" stroke="#333" stroke-width="0.9" />
<text x="303.10" y="561.60" font-size="8.0" font-family='"Liberation Sans", sans-serif' font-weight="bold" text-anchor="end" fill="#000" textLength="3.95" lengthAdjust="spacingAndGlyphs" >0</text>
<line x1="304.10" y1="538.40" x2="307.40" y2="538.40" stroke="#333" stroke-width="0.9" />
<text x="303.10" y="541.30" font-size="8.0" font-family='"Liberation Sans", sans-serif' font-weight="bold" text-anchor="end" fill="#000" textLength="7.9" lengthAdjust="spacingAndGlyphs" >20</text>
<line x1="304.10" y1="518.10" x2="307.40" y2="518.10" stroke="#333" stroke-width="0.9" />
<text x="303.10" y="521.00" font-size="8.0" font-family='"Liberation Sans", sans-serif' font-weight="bold" text-anchor="end" fill="#000" textLength="7.9" lengthAdjust="spacingAndGlyphs" >40</text>
<line x1="304.10" y1="497.80" x2="307.40" y2="497.80" stroke="#333" stroke-width="0.9" />
<text x="303.10" y="500.70" font-size="8.0" font-family='"Liberation Sans", sans-serif' font-weight="bold" text-anchor="end" fill="#000" textLength="7.9" lengthAdjust="spacingAndGlyphs" >60</text>
<line x1="304.10" y1="477.50" x2="307.40" y2="477.50" stroke="#333" stroke-width="0.9" />
<text x="303.10" y="480.40" font-size="8.0" font-family='"Liberation Sans", sans-serif' font-weight="bold" text-anchor="end" fill="#000" textLength="7.9" lengthAdjust="spacingAndGlyphs" >80</text>
<line x1="304.10" y1="457.20" x2="307.40" y2="457.20" stroke="#333" stroke-width="0.9" />
<text x="303.10" y="460.10" font-size="8.0" font-family='"Liberation Sans", sans-serif' font-weight="bold" text-anchor="end" fill="#000" textLength="11.85" lengthAdjust="spacingAndGlyphs" >100</text>
<line x1="305.80" y1="558.70" x2="307.40" y2="558.70" stroke="#555" stroke-width="0.6" />
<line x1="305.80" y1="553.62" x2="307.40" y2="553.62" stroke="#555" stroke-width="0.6" />
<line x1="305.80" y1="548.55" x2="307.40" y2="548.55" stroke="#555" stroke-width="0.6" />
<line x1="305.80" y1="543.48" x2="307.40" y2="543.48" stroke="#555" stroke-width="0.6" />
<line x1="305.80" y1="538.40" x2="307.40" y2="538.40" stroke="#555" stroke-width="0.6" />
<line x1="305.80" y1="533.33" x2="307.40" y2="533.33" stroke="#555" stroke-width="0.6" />
<line x1="305.80" y1="528.25" x2="307.40" y2="528.25" stroke="#555" stroke-width="0.6" />
<line x1="305.80" y1="523.18" x2="307.40" y2="523.18" stroke="#555" stroke-width="0.6" />
<line x1="305.80" y1="518.10" x2="307.40" y2="518.10" stroke="#555" stroke-width="0.6" />
<line x1="305.80" y1="513.03" x2="307.40" y2="513.03" stroke="#555" stroke-width="0.6" />
<line x1="305.80" y1="507.95" x2="307.40" y2="507.95" stroke="#555" stroke-width="0.6" />
<line x1="305.80" y1="502.88" x2="307.40" y2="502.88" stroke="#555" stroke-width="0.6" />
<line x1="305.80" y1="497.80" x2="307.40" y2="497.80" stroke="#555" stroke-width="0.6" />
<line x1="305.80" y1="492.73" x2="307.40" y2="492.73" stroke="#555" stroke-width="0.6" />
<line x1="305.80" y1="487.65" x2="307.40" y2="487.65" stroke="#555" stroke-width="0.6" />
<line x1="305.80" y1="482.58" x2="307.40" y2="482.58" stroke="#555" stroke-width="0.6" />
<line x1="305.80" y1="477.50" x2="307.40" y2="477.50" stroke="#555" stroke-width="0.6" />
<line x1="305.80" y1="472.43" x2="307.40" y2="472.43" stroke="#555" stroke-width="0.6" />
<line x1="305.80" y1="467.35" x2="307.40" y2="467.35" stroke="#555" stroke-width="0.6" />
<line x1="305.80" y1="462.28" x2="307.40" y2="462.28" stroke="#555" stroke-width="0.6" />
<line x1="305.80" y1="457.20" x2="307.40" y2="457.20" stroke="#555" stroke-width="0.6" />
<line x1="307.40" y1="558.70" x2="307.40" y2="561.30" stroke="#333" stroke-width="0.9" />
<text x="306.60" y="571.10" font-size="8.2" font-family='"Liberation Sans", sans-serif' font-weight="bold" text-anchor="middle">10<tspan font-size="6.0" dy="-3.6">0</tspan></text>
<line x1="315.51" y1="558.70" x2="315.51" y2="560.30" stroke="#555" stroke-width="0.6" />
<line x1="320.26" y1="558.70" x2="320.26" y2="560.30" stroke="#555" stroke-width="0.6" />
<line x1="323.63" y1="558.70" x2="323.63" y2="560.30" stroke="#555" stroke-width="0.6" />
<line x1="326.24" y1="558.70" x2="326.24" y2="560.30" stroke="#555" stroke-width="0.6" />
<line x1="328.37" y1="558.70" x2="328.37" y2="560.30" stroke="#555" stroke-width="0.6" />
<line x1="330.18" y1="558.70" x2="330.18" y2="560.30" stroke="#555" stroke-width="0.6" />
<line x1="331.74" y1="558.70" x2="331.74" y2="560.30" stroke="#555" stroke-width="0.6" />
<line x1="333.12" y1="558.70" x2="333.12" y2="560.30" stroke="#555" stroke-width="0.6" />
<line x1="334.35" y1="558.70" x2="334.35" y2="561.30" stroke="#333" stroke-width="0.9" />
<text x="333.55" y="571.10" font-size="8.2" font-family='"Liberation Sans", sans-serif' font-weight="bold" text-anchor="middle">10<tspan font-size="6.0" dy="-3.6">1</tspan></text>
<line x1="342.46" y1="558.70" x2="342.46" y2="560.30" stroke="#555" stroke-width="0.6" />
<line x1="347.21" y1="558.70" x2="347.21" y2="560.30" stroke="#555" stroke-width="0.6" />
<line x1="350.58" y1="558.70" x2="350.58" y2="560.30" stroke="#555" stroke-width="0.6" />
<line x1="353.19" y1="558.70" x2="353.19" y2="560.30" stroke="#555" stroke-width="0.6" />
<line x1="355.32" y1="558.70" x2="355.32" y2="560.30" stroke="#555" stroke-width="0.6" />
<line x1="357.13" y1="558.70" x2="357.13" y2="560.30" stroke="#555" stroke-width="0.6" />
<line x1="358.69" y1="558.70" x2="358.69" y2="560.30" stroke="#555" stroke-width="0.6" />
<line x1="360.07" y1="558.70" x2="360.07" y2="560.30" stroke="#555" stroke-width="0.6" />
<line x1="361.30" y1="558.70" x2="361.30" y2="561.30" stroke="#333" stroke-width="0.9" />
<text x="360.50" y="571.10" font-size="8.2" font-family='"Liberation Sans", sans-serif' font-weight="bold" text-anchor="middle">10<tspan font-size="6.0" dy="-3.6">2</tspan></text>
<line x1="369.41" y1="558.70" x2="369.41" y2="560.30" stroke="#555" stroke-width="0.6" />
<line x1="374.16" y1="558.70" x2="374.16" y2="560.30" stroke="#555" stroke-width="0.6" />
<line x1="377.53" y1="558.70" x2="377.53" y2="560.30" stroke="#555" stroke-width="0.6" />
<line x1="380.14" y1="558.70" x2="380.14" y2="560.30" stroke="#555" stroke-width="0.6" />
<line x1="382.27" y1="558.70" x2="382.27" y2="560.30" stroke="#555" stroke-width="0.6" />
<line x1="384.08" y1="558.70" x2="384.08" y2="560.30" stroke="#555" stroke-width="0.6" />
<line x1="385.64" y1="558.70" x2="385.64" y2="560.30" stroke="#555" stroke-width="0.6" />
<line x1="387.02" y1="558.70" x2="387.02" y2="560.30" stroke="#555" stroke-width="0.6" />
<line x1="388.25" y1="558.70" x2="388.25" y2="561.30" stroke="#333" stroke-width="0.9" />
<text x="387.45" y="571.10" font-size="8.2" font-family='"Liberation Sans", sans-serif' font-weight="bold" text-anchor="middle">10<tspan font-size="6.0" dy="-3.6">3</tspan></text>
<line x1="396.36" y1="558.70" x2="396.36" y2="560.30" stroke="#555" stroke-width="0.6" />
<line x1="401.11" y1="558.70" x2="401.11" y2="560.30" stroke="#555" stroke-width="0.6" />
<line x1="404.48" y1="558.70" x2="404.48" y2="560.30" stroke="#555" stroke-width="0.6" />
<line x1="407.09" y1="558.70" x2="407.09" y2="560.30" stroke="#555" stroke-width="0.6" />
<line x1="409.22" y1="558.70" x2="409.22" y2="560.30" stroke="#555" stroke-width="0.6" />
<line x1="411.03" y1="558.70" x2="411.03" y2="560.30" stroke="#555" stroke-width="0.6" />
<line x1="412.59" y1="558.70" x2="412.59" y2="560.30" stroke="#555" stroke-width="0.6" />
<line x1="413.97" y1="558.70" x2="413.97" y2="560.30" stroke="#555" stroke-width="0.6" />
<line x1="415.20" y1="558.70" x2="415.20" y2="561.30" stroke="#333" stroke-width="0.9" />
<text x="414.40" y="571.10" font-size="8.2" font-family='"Liberation Sans", sans-serif' font-weight="bold" text-anchor="middle">10<tspan font-size="6.0" dy="-3.6">4</tspan></text>
<path d="M309.20,558.70 L309.20,453.10 L309.20,551.20 L311.60,550.40 L313.20,544.80 L315.60,541.50 L318.00,533.50 L321.26,527.10 L323.70,520.70 L325.30,511.00 L326.90,498.20 L329.30,493.40 L330.90,470.90 L332.50,467.70 L334.10,459.60 L335.20,458.80 L336.50,474.10 L338.10,477.30 L339.70,482.10 L341.30,503.00 L342.90,527.10 L345.30,548.00 L348.60,552.80 L352.60,556.80 L359.00,557.90 L362.30,558.70 L414.80,558.70" fill="none" stroke="#fb0000" stroke-width="2.0" stroke-linejoin="round"/>
<path d="M308.40,557.60 L315.60,558.40 L322.10,557.90 L328.50,556.80 L333.30,555.20 L336.50,554.40 L340.50,552.00 L343.70,554.40 L347.80,551.20 L351.00,548.00 L354.20,541.50 L356.60,528.70 L358.20,514.20 L359.80,495.00 L361.40,491.70 L363.00,470.90 L364.60,466.10 L366.20,458.80 L367.80,458.80 L369.40,466.10 L371.00,478.90 L372.60,482.10 L374.20,501.40 L376.70,514.20 L379.10,528.70 L381.50,539.90 L383.10,546.40 L385.50,545.60 L387.90,552.00 L391.10,551.20 L394.30,550.40 L397.50,552.80 L402.40,556.80 L407.20,557.90 L414.80,558.40" fill="none" stroke="#0000f6" stroke-width="2.0" stroke-linejoin="round"/>
<rect x="438.70" y="452.10" width="107.80" height="106.60" fill="none" stroke="#666" stroke-width="1.1"/>
<line x1="435.40" y1="558.70" x2="438.70" y2="558.70" stroke="#333" stroke-width="0.9" />
<text x="434.40" y="561.60" font-size="8.0" font-family='"Liberation Sans", sans-serif' font-weight="bold" text-anchor="end" fill="#000" textLength="3.95" lengthAdjust="spacingAndGlyphs" >0</text>
<line x1="435.40" y1="538.40" x2="438.70" y2="538.40" stroke="#333" stroke-width="0.9" />
<text x="434.40" y="541.30" font-size="8.0" font-family='"Liberation Sans", sans-serif' font-weight="bold" text-anchor="end" fill="#000" textLength="7.9" lengthAdjust="spacingAndGlyphs" >20</text>
<line x1="435.40" y1="518.10" x2="438.70" y2="518.10" stroke="#333" stroke-width="0.9" />
<text x="434.40" y="521.00" font-size="8.0" font-family='"Liberation Sans", sans-serif' font-weight="bold" text-anchor="end" fill="#000" textLength="7.9" lengthAdjust="spacingAndGlyphs" >40</text>
<line x1="435.40" y1="497.80" x2="438.70" y2="497.80" stroke="#333" stroke-width="0.9" />
<text x="434.40" y="500.70" font-size="8.0" font-family='"Liberation Sans", sans-serif' font-weight="bold" text-anchor="end" fill="#000" textLength="7.9" lengthAdjust="spacingAndGlyphs" >60</text>
<line x1="435.40" y1="477.50" x2="438.70" y2="477.50" stroke="#333" stroke-width="0.9" />
<text x="434.40" y="480.40" font-size="8.0" font-family='"Liberation Sans", sans-serif' font-weight="bold" text-anchor="end" fill="#000" textLength="7.9" lengthAdjust="spacingAndGlyphs" >80</text>
<line x1="435.40" y1="457.20" x2="438.70" y2="457.20" stroke="#333" stroke-width="0.9" />
<text x="434.40" y="460.10" font-size="8.0" font-family='"Liberation Sans", sans-serif' font-weight="bold" text-anchor="end" fill="#000" textLength="11.85" lengthAdjust="spacingAndGlyphs" >100</text>
<line x1="437.10" y1="558.70" x2="438.70" y2="558.70" stroke="#555" stroke-width="0.6" />
<line x1="437.10" y1="553.62" x2="438.70" y2="553.62" stroke="#555" stroke-width="0.6" />
<line x1="437.10" y1="548.55" x2="438.70" y2="548.55" stroke="#555" stroke-width="0.6" />
<line x1="437.10" y1="543.48" x2="438.70" y2="543.48" stroke="#555" stroke-width="0.6" />
<line x1="437.10" y1="538.40" x2="438.70" y2="538.40" stroke="#555" stroke-width="0.6" />
<line x1="437.10" y1="533.33" x2="438.70" y2="533.33" stroke="#555" stroke-width="0.6" />
<line x1="437.10" y1="528.25" x2="438.70" y2="528.25" stroke="#555" stroke-width="0.6" />
<line x1="437.10" y1="523.18" x2="438.70" y2="523.18" stroke="#555" stroke-width="0.6" />
<line x1="437.10" y1="518.10" x2="438.70" y2="518.10" stroke="#555" stroke-width="0.6" />
<line x1="437.10" y1="513.03" x2="438.70" y2="513.03" stroke="#555" stroke-width="0.6" />
<line x1="437.10" y1="507.95" x2="438.70" y2="507.95" stroke="#555" stroke-width="0.6" />
<line x1="437.10" y1="502.88" x2="438.70" y2="502.88" stroke="#555" stroke-width="0.6" />
<line x1="437.10" y1="497.80" x2="438.70" y2="497.80" stroke="#555" stroke-width="0.6" />
<line x1="437.10" y1="492.73" x2="438.70" y2="492.73" stroke="#555" stroke-width="0.6" />
<line x1="437.10" y1="487.65" x2="438.70" y2="487.65" stroke="#555" stroke-width="0.6" />
<line x1="437.10" y1="482.58" x2="438.70" y2="482.58" stroke="#555" stroke-width="0.6" />
<line x1="437.10" y1="477.50" x2="438.70" y2="477.50" stroke="#555" stroke-width="0.6" />
<line x1="437.10" y1="472.43" x2="438.70" y2="472.43" stroke="#555" stroke-width="0.6" />
<line x1="437.10" y1="467.35" x2="438.70" y2="467.35" stroke="#555" stroke-width="0.6" />
<line x1="437.10" y1="462.28" x2="438.70" y2="462.28" stroke="#555" stroke-width="0.6" />
<line x1="437.10" y1="457.20" x2="438.70" y2="457.20" stroke="#555" stroke-width="0.6" />
<line x1="438.70" y1="558.70" x2="438.70" y2="561.30" stroke="#333" stroke-width="0.9" />
<text x="437.90" y="571.10" font-size="8.2" font-family='"Liberation Sans", sans-serif' font-weight="bold" text-anchor="middle">10<tspan font-size="6.0" dy="-3.6">0</tspan></text>
<line x1="446.81" y1="558.70" x2="446.81" y2="560.30" stroke="#555" stroke-width="0.6" />
<line x1="451.56" y1="558.70" x2="451.56" y2="560.30" stroke="#555" stroke-width="0.6" />
<line x1="454.93" y1="558.70" x2="454.93" y2="560.30" stroke="#555" stroke-width="0.6" />
<line x1="457.54" y1="558.70" x2="457.54" y2="560.30" stroke="#555" stroke-width="0.6" />
<line x1="459.67" y1="558.70" x2="459.67" y2="560.30" stroke="#555" stroke-width="0.6" />
<line x1="461.48" y1="558.70" x2="461.48" y2="560.30" stroke="#555" stroke-width="0.6" />
<line x1="463.04" y1="558.70" x2="463.04" y2="560.30" stroke="#555" stroke-width="0.6" />
<line x1="464.42" y1="558.70" x2="464.42" y2="560.30" stroke="#555" stroke-width="0.6" />
<line x1="465.65" y1="558.70" x2="465.65" y2="561.30" stroke="#333" stroke-width="0.9" />
<text x="464.85" y="571.10" font-size="8.2" font-family='"Liberation Sans", sans-serif' font-weight="bold" text-anchor="middle">10<tspan font-size="6.0" dy="-3.6">1</tspan></text>
<line x1="473.76" y1="558.70" x2="473.76" y2="560.30" stroke="#555" stroke-width="0.6" />
<line x1="478.51" y1="558.70" x2="478.51" y2="560.30" stroke="#555" stroke-width="0.6" />
<line x1="481.88" y1="558.70" x2="481.88" y2="560.30" stroke="#555" stroke-width="0.6" />
<line x1="484.49" y1="558.70" x2="484.49" y2="560.30" stroke="#555" stroke-width="0.6" />
<line x1="486.62" y1="558.70" x2="486.62" y2="560.30" stroke="#555" stroke-width="0.6" />
<line x1="488.43" y1="558.70" x2="488.43" y2="560.30" stroke="#555" stroke-width="0.6" />
<line x1="489.99" y1="558.70" x2="489.99" y2="560.30" stroke="#555" stroke-width="0.6" />
<line x1="491.37" y1="558.70" x2="491.37" y2="560.30" stroke="#555" stroke-width="0.6" />
<line x1="492.60" y1="558.70" x2="492.60" y2="561.30" stroke="#333" stroke-width="0.9" />
<text x="491.80" y="571.10" font-size="8.2" font-family='"Liberation Sans", sans-serif' font-weight="bold" text-anchor="middle">10<tspan font-size="6.0" dy="-3.6">2</tspan></text>
<line x1="500.71" y1="558.70" x2="500.71" y2="560.30" stroke="#555" stroke-width="0.6" />
<line x1="505.46" y1="558.70" x2="505.46" y2="560.30" stroke="#555" stroke-width="0.6" />
<line x1="508.83" y1="558.70" x2="508.83" y2="560.30" stroke="#555" stroke-width="0.6" />
<line x1="511.44" y1="558.70" x2="511.44" y2="560.30" stroke="#555" stroke-width="0.6" />
<line x1="513.57" y1="558.70" x2="513.57" y2="560.30" stroke="#555" stroke-width="0.6" />
<line x1="515.38" y1="558.70" x2="515.38" y2="560.30" stroke="#555" stroke-width="0.6" />
<line x1="516.94" y1="558.70" x2="516.94" y2="560.30" stroke="#555" stroke-width="0.6" />
<line x1="518.32" y1="558.70" x2="518.32" y2="560.30" stroke="#555" stroke-width="0.6" />
<line x1="519.55" y1="558.70" x2="519.55" y2="561.30" stroke="#333" stroke-width="0.9" />
<text x="518.75" y="571.10" font-size="8.2" font-family='"Liberation Sans", sans-serif' font-weight="bold" text-anchor="middle">10<tspan font-size="6.0" dy="-3.6">3</tspan></text>
<line x1="527.66" y1="558.70" x2="527.66" y2="560.30" stroke="#555" stroke-width="0.6" />
<line x1="532.41" y1="558.70" x2="532.41" y2="560.30" stroke="#555" stroke-width="0.6" />
<line x1="535.78" y1="558.70" x2="535.78" y2="560.30" stroke="#555" stroke-width="0.6" />
<line x1="538.39" y1="558.70" x2="538.39" y2="560.30" stroke="#555" stroke-width="0.6" />
<line x1="540.52" y1="558.70" x2="540.52" y2="560.30" stroke="#555" stroke-width="0.6" />
<line x1="542.33" y1="558.70" x2="542.33" y2="560.30" stroke="#555" stroke-width="0.6" />
<line x1="543.89" y1="558.70" x2="543.89" y2="560.30" stroke="#555" stroke-width="0.6" />
<line x1="545.27" y1="558.70" x2="545.27" y2="560.30" stroke="#555" stroke-width="0.6" />
<line x1="546.50" y1="558.70" x2="546.50" y2="561.30" stroke="#333" stroke-width="0.9" />
<text x="545.70" y="571.10" font-size="8.2" font-family='"Liberation Sans", sans-serif' font-weight="bold" text-anchor="middle">10<tspan font-size="6.0" dy="-3.6">4</tspan></text>
<path d="M440.30,558.70 L440.30,453.10 L440.30,551.20 L442.00,549.60 L444.40,544.80 L446.80,539.90 L449.20,533.50 L452.50,527.10 L454.90,522.30 L456.50,503.00 L458.10,498.20 L459.70,493.40 L461.30,470.90 L463.70,462.80 L465.30,458.80 L466.90,459.60 L468.50,478.90 L470.10,477.30 L471.70,491.80 L473.30,517.40 L474.90,536.70 L477.30,546.40 L480.60,555.20 L484.60,556.80 L492.60,557.90 L496.00,558.70 L546.50,558.70" fill="none" stroke="#fb0000" stroke-width="2.0" stroke-linejoin="round"/>
<path d="M440.00,557.70 L462.10,557.90 L478.10,556.00 L486.20,556.30 L492.60,556.00 L499.00,556.30 L502.20,554.40 L505.40,551.20 L507.90,539.90 L510.30,514.20 L511.90,493.40 L513.20,480.50 L514.30,458.80 L515.40,466.10 L516.40,459.60 L517.50,470.90 L519.10,498.20 L520.70,520.70 L522.30,539.90 L524.70,552.80 L527.90,557.60 L546.50,558.40" fill="none" stroke="#0000f6" stroke-width="2.0" stroke-linejoin="round"/>
<rect x="570.70" y="452.10" width="107.80" height="106.60" fill="none" stroke="#666" stroke-width="1.1"/>
<line x1="567.40" y1="558.70" x2="570.70" y2="558.70" stroke="#333" stroke-width="0.9" />
<text x="566.40" y="561.60" font-size="8.0" font-family='"Liberation Sans", sans-serif' font-weight="bold" text-anchor="end" fill="#000" textLength="3.95" lengthAdjust="spacingAndGlyphs" >0</text>
<line x1="567.40" y1="538.40" x2="570.70" y2="538.40" stroke="#333" stroke-width="0.9" />
<text x="566.40" y="541.30" font-size="8.0" font-family='"Liberation Sans", sans-serif' font-weight="bold" text-anchor="end" fill="#000" textLength="7.9" lengthAdjust="spacingAndGlyphs" >20</text>
<line x1="567.40" y1="518.10" x2="570.70" y2="518.10" stroke="#333" stroke-width="0.9" />
<text x="566.40" y="521.00" font-size="8.0" font-family='"Liberation Sans", sans-serif' font-weight="bold" text-anchor="end" fill="#000" textLength="7.9" lengthAdjust="spacingAndGlyphs" >40</text>
<line x1="567.40" y1="497.80" x2="570.70" y2="497.80" stroke="#333" stroke-width="0.9" />
<text x="566.40" y="500.70" font-size="8.0" font-family='"Liberation Sans", sans-serif' font-weight="bold" text-anchor="end" fill="#000" textLength="7.9" lengthAdjust="spacingAndGlyphs" >60</text>
<line x1="567.40" y1="477.50" x2="570.70" y2="477.50" stroke="#333" stroke-width="0.9" />
<text x="566.40" y="480.40" font-size="8.0" font-family='"Liberation Sans", sans-serif' font-weight="bold" text-anchor="end" fill="#000" textLength="7.9" lengthAdjust="spacingAndGlyphs" >80</text>
<line x1="567.40" y1="457.20" x2="570.70" y2="457.20" stroke="#333" stroke-width="0.9" />
<text x="566.40" y="460.10" font-size="8.0" font-family='"Liberation Sans", sans-serif' font-weight="bold" text-anchor="end" fill="#000" textLength="11.85" lengthAdjust="spacingAndGlyphs" >100</text>
<line x1="569.10" y1="558.70" x2="570.70" y2="558.70" stroke="#555" stroke-width="0.6" />
<line x1="569.10" y1="553.62" x2="570.70" y2="553.62" stroke="#555" stroke-width="0.6" />
<line x1="569.10" y1="548.55" x2="570.70" y2="548.55" stroke="#555" stroke-width="0.6" />
<line x1="569.10" y1="543.48" x2="570.70" y2="543.48" stroke="#555" stroke-width="0.6" />
<line x1="569.10" y1="538.40" x2="570.70" y2="538.40" stroke="#555" stroke-width="0.6" />
<line x1="569.10" y1="533.33" x2="570.70" y2="533.33" stroke="#555" stroke-width="0.6" />
<line x1="569.10" y1="528.25" x2="570.70" y2="528.25" stroke="#555" stroke-width="0.6" />
<line x1="569.10" y1="523.18" x2="570.70" y2="523.18" stroke="#555" stroke-width="0.6" />
<line x1="569.10" y1="518.10" x2="570.70" y2="518.10" stroke="#555" stroke-width="0.6" />
<line x1="569.10" y1="513.03" x2="570.70" y2="513.03" stroke="#555" stroke-width="0.6" />
<line x1="569.10" y1="507.95" x2="570.70" y2="507.95" stroke="#555" stroke-width="0.6" />
<line x1="569.10" y1="502.88" x2="570.70" y2="502.88" stroke="#555" stroke-width="0.6" />
<line x1="569.10" y1="497.80" x2="570.70" y2="497.80" stroke="#555" stroke-width="0.6" />
<line x1="569.10" y1="492.73" x2="570.70" y2="492.73" stroke="#555" stroke-width="0.6" />
<line x1="569.10" y1="487.65" x2="570.70" y2="487.65" stroke="#555" stroke-width="0.6" />
<line x1="569.10" y1="482.58" x2="570.70" y2="482.58" stroke="#555" stroke-width="0.6" />
<line x1="569.10" y1="477.50" x2="570.70" y2="477.50" stroke="#555" stroke-width="0.6" />
<line x1="569.10" y1="472.43" x2="570.70" y2="472.43" stroke="#555" stroke-width="0.6" />
<line x1="569.10" y1="467.35" x2="570.70" y2="467.35" stroke="#555" stroke-width="0.6" />
<line x1="569.10" y1="462.28" x2="570.70" y2="462.28" stroke="#555" stroke-width="0.6" />
<line x1="569.10" y1="457.20" x2="570.70" y2="457.20" stroke="#555" stroke-width="0.6" />
<line x1="570.70" y1="558.70" x2="570.70" y2="561.30" stroke="#333" stroke-width="0.9" />
<text x="569.90" y="571.10" font-size="8.2" font-family='"Liberation Sans", sans-serif' font-weight="bold" text-anchor="middle">10<tspan font-size="6.0" dy="-3.6">0</tspan></text>
<line x1="578.81" y1="558.70" x2="578.81" y2="560.30" stroke="#555" stroke-width="0.6" />
<line x1="583.56" y1="558.70" x2="583.56" y2="560.30" stroke="#555" stroke-width="0.6" />
<line x1="586.93" y1="558.70" x2="586.93" y2="560.30" stroke="#555" stroke-width="0.6" />
<line x1="589.54" y1="558.70" x2="589.54" y2="560.30" stroke="#555" stroke-width="0.6" />
<line x1="591.67" y1="558.70" x2="591.67" y2="560.30" stroke="#555" stroke-width="0.6" />
<line x1="593.48" y1="558.70" x2="593.48" y2="560.30" stroke="#555" stroke-width="0.6" />
<line x1="595.04" y1="558.70" x2="595.04" y2="560.30" stroke="#555" stroke-width="0.6" />
<line x1="596.42" y1="558.70" x2="596.42" y2="560.30" stroke="#555" stroke-width="0.6" />
<line x1="597.65" y1="558.70" x2="597.65" y2="561.30" stroke="#333" stroke-width="0.9" />
<text x="596.85" y="571.10" font-size="8.2" font-family='"Liberation Sans", sans-serif' font-weight="bold" text-anchor="middle">10<tspan font-size="6.0" dy="-3.6">1</tspan></text>
<line x1="605.76" y1="558.70" x2="605.76" y2="560.30" stroke="#555" stroke-width="0.6" />
<line x1="610.51" y1="558.70" x2="610.51" y2="560.30" stroke="#555" stroke-width="0.6" />
<line x1="613.88" y1="558.70" x2="613.88" y2="560.30" stroke="#555" stroke-width="0.6" />
<line x1="616.49" y1="558.70" x2="616.49" y2="560.30" stroke="#555" stroke-width="0.6" />
<line x1="618.62" y1="558.70" x2="618.62" y2="560.30" stroke="#555" stroke-width="0.6" />
<line x1="620.43" y1="558.70" x2="620.43" y2="560.30" stroke="#555" stroke-width="0.6" />
<line x1="621.99" y1="558.70" x2="621.99" y2="560.30" stroke="#555" stroke-width="0.6" />
<line x1="623.37" y1="558.70" x2="623.37" y2="560.30" stroke="#555" stroke-width="0.6" />
<line x1="624.60" y1="558.70" x2="624.60" y2="561.30" stroke="#333" stroke-width="0.9" />
<text x="623.80" y="571.10" font-size="8.2" font-family='"Liberation Sans", sans-serif' font-weight="bold" text-anchor="middle">10<tspan font-size="6.0" dy="-3.6">2</tspan></text>
<line x1="632.71" y1="558.70" x2="632.71" y2="560.30" stroke="#555" stroke-width="0.6" />
<line x1="637.46" y1="558.70" x2="637.46" y2="560.30" stroke="#555" stroke-width="0.6" />
<line x1="640.83" y1="558.70" x2="640.83" y2="560.30" stroke="#555" stroke-width="0.6" />
<line x1="643.44" y1="558.70" x2="643.44" y2="560.30" stroke="#555" stroke-width="0.6" />
<line x1="645.57" y1="558.70" x2="645.57" y2="560.30" stroke="#555" stroke-width="0.6" />
<line x1="647.38" y1="558.70" x2="647.38" y2="560.30" stroke="#555" stroke-width="0.6" />
<line x1="648.94" y1="558.70" x2="648.94" y2="560.30" stroke="#555" stroke-width="0.6" />
<line x1="650.32" y1="558.70" x2="650.32" y2="560.30" stroke="#555" stroke-width="0.6" />
<line x1="651.55" y1="558.70" x2="651.55" y2="561.30" stroke="#333" stroke-width="0.9" />
<text x="650.75" y="571.10" font-size="8.2" font-family='"Liberation Sans", sans-serif' font-weight="bold" text-anchor="middle">10<tspan font-size="6.0" dy="-3.6">3</tspan></text>
<line x1="659.66" y1="558.70" x2="659.66" y2="560.30" stroke="#555" stroke-width="0.6" />
<line x1="664.41" y1="558.70" x2="664.41" y2="560.30" stroke="#555" stroke-width="0.6" />
<line x1="667.78" y1="558.70" x2="667.78" y2="560.30" stroke="#555" stroke-width="0.6" />
<line x1="670.39" y1="558.70" x2="670.39" y2="560.30" stroke="#555" stroke-width="0.6" />
<line x1="672.52" y1="558.70" x2="672.52" y2="560.30" stroke="#555" stroke-width="0.6" />
<line x1="674.33" y1="558.70" x2="674.33" y2="560.30" stroke="#555" stroke-width="0.6" />
<line x1="675.89" y1="558.70" x2="675.89" y2="560.30" stroke="#555" stroke-width="0.6" />
<line x1="677.27" y1="558.70" x2="677.27" y2="560.30" stroke="#555" stroke-width="0.6" />
<line x1="678.50" y1="558.70" x2="678.50" y2="561.30" stroke="#333" stroke-width="0.9" />
<text x="677.70" y="571.10" font-size="8.2" font-family='"Liberation Sans", sans-serif' font-weight="bold" text-anchor="middle">10<tspan font-size="6.0" dy="-3.6">4</tspan></text>
<path d="M572.30,558.70 L572.30,453.10 L572.30,551.20 L574.00,549.60 L576.40,544.80 L578.80,539.90 L581.20,533.50 L584.50,527.10 L586.90,522.30 L588.50,503.00 L590.10,498.20 L591.70,493.40 L593.30,470.90 L595.70,462.80 L597.30,458.80 L598.90,459.60 L600.50,478.90 L602.10,477.30 L603.70,491.80 L605.30,517.40 L606.90,536.70 L609.30,546.40 L612.60,555.20 L616.60,556.80 L624.60,557.90 L628.00,558.70 L678.50,558.70" fill="none" stroke="#fb0000" stroke-width="2.0" stroke-linejoin="round"/>
<path d="M572.00,557.70 L589.30,557.70 L597.30,556.80 L602.10,555.70 L608.50,555.20 L615.00,555.20 L619.80,556.30 L624.60,556.00 L629.40,552.80 L631.80,546.40 L634.20,530.30 L636.60,511.00 L638.30,490.20 L639.90,469.30 L641.00,458.80 L642.30,464.50 L643.90,475.70 L645.50,493.40 L647.10,514.20 L648.70,531.90 L651.10,549.60 L653.50,557.30 L655.00,558.10 L678.50,558.40" fill="none" stroke="#0000f6" stroke-width="2.0" stroke-linejoin="round"/>
<rect x="209.40" y="233.90" width="5.40" height="4.90" fill="#fb0000" stroke="#3a1a7a" stroke-width="0.5" />
<text x="217.40" y="238.00" font-size="9.3" font-family='"Liberation Sans", sans-serif' font-weight="bold" text-anchor="start" fill="#000" textLength="34.0" lengthAdjust="spacingAndGlyphs" >Isotype</text>
<text transform="translate(1.00 610.60) scale(1.0 1)" x="0" y="0" font-size="24.6" font-family='"Liberation Serif", serif' font-weight="bold">D</text>
<rect x="15.2" y="626.8" width="295.6" height="139.3" fill="none" stroke="#000" stroke-width="1.7"/>
<defs><linearGradient id="g2" x1="0" y1="0" x2="0" y2="1"><stop offset="0" stop-color="#c8c8c8"/><stop offset="0.35" stop-color="#6a6a6a"/><stop offset="0.55" stop-color="#474747"/><stop offset="0.75" stop-color="#5c5c5c"/><stop offset="1" stop-color="#bdbdbd"/></linearGradient><linearGradient id="g3" x1="0" y1="0" x2="0" y2="1"><stop offset="0" stop-color="#6a6a6a"/><stop offset="0.3" stop-color="#2a2a2a"/><stop offset="0.6" stop-color="#1c1c1c"/><stop offset="0.8" stop-color="#3a3a3a"/><stop offset="1" stop-color="#2a2a2a"/></linearGradient><linearGradient id="gm" x1="0" y1="0" x2="0" y2="1"><stop offset="0" stop-color="#a8a8a8"/><stop offset="0.5" stop-color="#c6c6c6"/><stop offset="1" stop-color="#d8d8d8"/></linearGradient><linearGradient id="gbg" x1="0" y1="0" x2="0" y2="1"><stop offset="0" stop-color="#dcdcdc"/><stop offset="1" stop-color="#e9e9e9"/></linearGradient><filter id="bl1" x="-20%" y="-50%" width="140%" height="200%"><feGaussianBlur stdDeviation="0.7"/></filter><filter id="bl2" x="-20%" y="-50%" width="140%" height="200%"><feGaussianBlur stdDeviation="1.1"/></filter></defs>
<text x="98.10" y="661.00" font-size="11.5" font-family='"Liberation Mono", monospace' font-weight="normal" text-anchor="middle" fill="#000" stroke="#000" stroke-width="0.2">1</text>
<text x="150.60" y="661.00" font-size="11.5" font-family='"Liberation Mono", monospace' font-weight="normal" text-anchor="middle" fill="#000" stroke="#000" stroke-width="0.2">2</text>
<text x="205.50" y="661.00" font-size="11.5" font-family='"Liberation Mono", monospace' font-weight="normal" text-anchor="middle" fill="#000" stroke="#000" stroke-width="0.2">3</text>
<line x1="78.10" y1="665.70" x2="118.80" y2="665.70" stroke="#000" stroke-width="1.8" />
<line x1="130.00" y1="665.70" x2="170.60" y2="665.70" stroke="#000" stroke-width="1.8" />
<line x1="186.40" y1="665.70" x2="227.00" y2="665.70" stroke="#000" stroke-width="1.8" />
<text x="58.40" y="677.90" font-size="9.6" font-family='"Liberation Serif", serif' font-weight="bold" text-anchor="middle" fill="#000" textLength="9.0" lengthAdjust="spacingAndGlyphs" >M</text>
<text x="86.00" y="678.20" font-size="9.6" font-family='"Liberation Serif", serif' font-weight="bold" text-anchor="middle" fill="#000" textLength="15.8" lengthAdjust="spacingAndGlyphs" >MO</text>
<text x="111.10" y="678.20" font-size="9.6" font-family='"Liberation Serif", serif' font-weight="bold" text-anchor="middle" fill="#000" textLength="18.0" lengthAdjust="spacingAndGlyphs" >MΦ</text>
<text x="137.80" y="678.20" font-size="9.6" font-family='"Liberation Serif", serif' font-weight="bold" text-anchor="middle" fill="#000" textLength="15.8" lengthAdjust="spacingAndGlyphs" >MO</text>
<text x="164.00" y="678.20" font-size="9.6" font-family='"Liberation Serif", serif' font-weight="bold" text-anchor="middle" fill="#000" textLength="18.0" lengthAdjust="spacingAndGlyphs" >MΦ</text>
<text x="192.40" y="678.20" font-size="9.6" font-family='"Liberation Serif", serif' font-weight="bold" text-anchor="middle" fill="#000" textLength="15.8" lengthAdjust="spacingAndGlyphs" >MO</text>
<text x="219.80" y="678.20" font-size="9.6" font-family='"Liberation Serif", serif' font-weight="bold" text-anchor="middle" fill="#000" textLength="18.0" lengthAdjust="spacingAndGlyphs" >MΦ</text>
<text x="21.20" y="689.20" font-size="8.4" font-family='"Liberation Serif", serif' font-weight="normal" text-anchor="start" fill="#111" textLength="18.2" lengthAdjust="spacingAndGlyphs" stroke="#111" stroke-width="0.25">100-</text>
<rect x="44.00" y="683.00" width="24.50" height="17.20" fill="#f2f2f2" stroke="none" stroke-width="0" />
<g filter="url(#bl1)">
<rect x="48.4" y="689.0" width="19.4" height="11.2" fill="url(#gm)"/>
<path d="M49.0,685.2 Q49.0,683.3 51.2,683.3 L65.8,683.3 Q67.9,683.3 67.9,685.4 L67.7,690.2 Q67.6,693.6 65.4,693.3 Q63.6,691.6 61.6,690.3 Q59.8,689.0 58.0,690.2 Q55.0,691.2 52.0,690.6 Q49.0,690.0 49.0,687.8 Z" fill="#0a0a0a"/>
</g>
<rect x="70.90" y="683.00" width="50.60" height="17.20" fill="#f3f3f3" stroke="none" stroke-width="0" />
<g filter="url(#bl2)">
<rect x="76.00" y="686.60" width="20.00" height="4.20" fill="#dcdcdc" stroke="none" stroke-width="0" />
<rect x="101.00" y="688.60" width="19.00" height="5.60" fill="#d8d8d8" stroke="none" stroke-width="0" />
</g>
<rect x="100.80" y="690.65" width="19.10" height="1.70" rx="0.8" fill="#303030" filter="url(#bl1)"/>
<rect x="127.40" y="683.00" width="49.30" height="17.20" fill="#e6e6e6" stroke="none" stroke-width="0" />
<rect x="153.9" y="684.4" width="20.1" height="13.4" fill="url(#g2)" filter="url(#bl1)"/>
<rect x="181.00" y="683.40" width="57.80" height="16.80" fill="#efefef" stroke="none" stroke-width="0" />
<g filter="url(#bl1)">
<rect x="228.00" y="684.00" width="10.80" height="16.20" fill="#a6a6a6" stroke="none" stroke-width="0" />
<rect x="209.0" y="684.4" width="19.6" height="15.8" fill="url(#g3)"/>
</g>
<rect x="71.10" y="705.0" width="51.00" height="16.9" fill="url(#gbg)"/>
<rect x="73.30" y="713.30" width="21.50" height="5.40" rx="2.6" fill="#0e0e0e" filter="url(#bl1)"/>
<rect x="100.20" y="713.30" width="21.50" height="5.40" rx="2.6" fill="#0e0e0e" filter="url(#bl1)"/>
<rect x="127.00" y="705.0" width="49.90" height="16.9" fill="url(#gbg)"/>
<rect x="128.30" y="713.30" width="20.20" height="5.40" rx="2.6" fill="#0e0e0e" filter="url(#bl1)"/>
<rect x="153.70" y="713.30" width="22.80" height="5.40" rx="2.6" fill="#0e0e0e" filter="url(#bl1)"/>
<rect x="181.30" y="705.0" width="51.70" height="16.9" fill="url(#gbg)"/>
<rect x="182.00" y="713.30" width="21.30" height="5.40" rx="2.6" fill="#0e0e0e" filter="url(#bl1)"/>
<rect x="208.00" y="713.30" width="23.70" height="5.40" rx="2.6" fill="#0e0e0e" filter="url(#bl1)"/>
<path d="M248.5,692.5 L257.4,692.5" stroke="#000" stroke-width="1.5"/>
<path d="M246.3,692.5 L251.2,689.6 L251.2,695.4 Z" fill="#000"/>
<text x="259.20" y="695.80" font-size="9.6" font-family='"Liberation Mono", monospace' font-weight="bold" text-anchor="start" fill="#000" textLength="25.6" lengthAdjust="spacingAndGlyphs" >TLR4</text>
<path d="M248.5,715.5 L257.4,715.5" stroke="#000" stroke-width="1.5"/>
<path d="M246.3,715.5 L251.2,712.6 L251.2,718.4 Z" fill="#000"/>
<text x="259.20" y="718.80" font-size="9.6" font-family='"Liberation Mono", monospace' font-weight="bold" text-anchor="start" fill="#000" textLength="45.2" lengthAdjust="spacingAndGlyphs" >b-ACTIN</text>
<text transform="translate(396.80 610.60) scale(1.0 1)" x="0" y="0" font-size="24.6" font-family='"Liberation Serif", serif' font-weight="bold">E</text>
<line x1="431.40" y1="642.00" x2="431.40" y2="769.20" stroke="#000" stroke-width="1.0" />
<line x1="430.90" y1="768.70" x2="492.70" y2="768.70" stroke="#000" stroke-width="1.1" />
<line x1="429.20" y1="642.50" x2="431.40" y2="642.50" stroke="#000" stroke-width="0.9" />
<text x="428.40" y="645.72" font-size="9.0" font-family='"Liberation Sans", sans-serif' font-weight="normal" text-anchor="end" fill="#000" textLength="15.0" lengthAdjust="spacingAndGlyphs" stroke="#000" stroke-width="0.25">0.08</text>
<line x1="429.20" y1="674.00" x2="431.40" y2="674.00" stroke="#000" stroke-width="0.9" />
<text x="428.40" y="677.22" font-size="9.0" font-family='"Liberation Sans", sans-serif' font-weight="normal" text-anchor="end" fill="#000" textLength="15.0" lengthAdjust="spacingAndGlyphs" stroke="#000" stroke-width="0.25">0.06</text>
<line x1="429.20" y1="705.60" x2="431.40" y2="705.60" stroke="#000" stroke-width="0.9" />
<text x="428.40" y="708.82" font-size="9.0" font-family='"Liberation Sans", sans-serif' font-weight="normal" text-anchor="end" fill="#000" textLength="15.0" lengthAdjust="spacingAndGlyphs" stroke="#000" stroke-width="0.25">0.04</text>
<line x1="429.20" y1="737.10" x2="431.40" y2="737.10" stroke="#000" stroke-width="0.9" />
<text x="428.40" y="740.32" font-size="9.0" font-family='"Liberation Sans", sans-serif' font-weight="normal" text-anchor="end" fill="#000" textLength="15.0" lengthAdjust="spacingAndGlyphs" stroke="#000" stroke-width="0.25">0.02</text>
<line x1="429.20" y1="768.70" x2="431.40" y2="768.70" stroke="#000" stroke-width="0.9" />
<text x="428.40" y="771.92" font-size="9.0" font-family='"Liberation Sans", sans-serif' font-weight="normal" text-anchor="end" fill="#000" textLength="15.0" lengthAdjust="spacingAndGlyphs" stroke="#000" stroke-width="0.25">0.00</text>
<line x1="445.00" y1="768.70" x2="445.00" y2="770.70" stroke="#000" stroke-width="0.9" />
<line x1="477.50" y1="768.70" x2="477.50" y2="770.70" stroke="#000" stroke-width="0.9" />
<line x1="440.10" y1="759.00" x2="440.10" y2="761.20" stroke="#000" stroke-width="1.0" />
<line x1="438.42" y1="759.10" x2="441.78" y2="759.10" stroke="#000" stroke-width="1.2" />
<rect x="437.05" y="761.65" width="6.10" height="7.05" fill="#fff" stroke="#000" stroke-width="0.9" />
<line x1="452.00" y1="754.60" x2="452.00" y2="756.30" stroke="#000" stroke-width="1.0" />
<line x1="450.08" y1="754.70" x2="453.92" y2="754.70" stroke="#000" stroke-width="1.2" />
<rect x="448.00" y="756.30" width="8.00" height="12.40" fill="#000" stroke="none" stroke-width="0" />
<line x1="472.00" y1="739.10" x2="472.00" y2="745.70" stroke="#000" stroke-width="1.0" />
<line x1="470.08" y1="739.20" x2="473.92" y2="739.20" stroke="#000" stroke-width="1.2" />
<rect x="468.45" y="746.15" width="7.10" height="22.55" fill="#fff" stroke="#000" stroke-width="0.9" />
<line x1="483.70" y1="755.50" x2="483.70" y2="758.40" stroke="#000" stroke-width="1.0" />
<line x1="481.83" y1="755.60" x2="485.57" y2="755.60" stroke="#000" stroke-width="1.2" />
<rect x="479.80" y="758.40" width="7.80" height="10.30" fill="#000" stroke="none" stroke-width="0" />
<text x="462.30" y="631.30" font-size="10.6" font-family='"Liberation Sans", sans-serif' font-weight="bold" text-anchor="middle" fill="#000" >TLR4</text>
<rect x="437.40" y="648.00" width="4.80" height="4.80" fill="#fff" stroke="#000" stroke-width="1.2" />
<text x="446.80" y="653.30" font-size="8.2" font-family='"Liberation Sans", sans-serif' font-weight="normal" text-anchor="start" fill="#1e1e1e" >WT</text>
<rect x="436.80" y="656.00" width="6.00" height="6.00" fill="#000" stroke="none" stroke-width="0" />
<text x="446.80" y="661.90" font-size="8.2" font-family='"Liberation Sans", sans-serif' font-weight="normal" text-anchor="start" fill="#1e1e1e" >KO</text>
<text x="444.60" y="779.00" font-size="8.3" font-family='"Liberation Sans", sans-serif' font-weight="normal" text-anchor="middle" fill="#000" >Ctrl</text>
<text x="477.60" y="779.00" font-size="8.3" font-family='"Liberation Sans", sans-serif' font-weight="normal" text-anchor="middle" fill="#000" >LPS</text>
<text x="411.60" y="703.30" font-size="8.4" font-family='"Liberation Sans", sans-serif' font-weight="bold" text-anchor="middle" fill="#000" textLength="137.6" lengthAdjust="spacingAndGlyphs" transform="rotate(-90 411.60 703.30)" >Relative TLR4 mRNA expression</text>
<text transform="translate(540.40 610.60) scale(1.0 1)" x="0" y="0" font-size="24.6" font-family='"Liberation Serif", serif' font-weight="bold">F</text>
<line x1="571.00" y1="644.00" x2="571.00" y2="770.70" stroke="#000" stroke-width="1.0" />
<line x1="570.50" y1="770.20" x2="667.50" y2="770.20" stroke="#000" stroke-width="1.1" />
<line x1="568.80" y1="644.50" x2="571.00" y2="644.50" stroke="#000" stroke-width="0.9" />
<text x="568.00" y="647.72" font-size="9.0" font-family='"Liberation Sans", sans-serif' font-weight="normal" text-anchor="end" fill="#000" textLength="15.0" lengthAdjust="spacingAndGlyphs" stroke="#000" stroke-width="0.25">0.08</text>
<line x1="568.80" y1="675.90" x2="571.00" y2="675.90" stroke="#000" stroke-width="0.9" />
<text x="568.00" y="679.12" font-size="9.0" font-family='"Liberation Sans", sans-serif' font-weight="normal" text-anchor="end" fill="#000" textLength="15.0" lengthAdjust="spacingAndGlyphs" stroke="#000" stroke-width="0.25">0.06</text>
<line x1="568.80" y1="707.40" x2="571.00" y2="707.40" stroke="#000" stroke-width="0.9" />
<text x="568.00" y="710.62" font-size="9.0" font-family='"Liberation Sans", sans-serif' font-weight="normal" text-anchor="end" fill="#000" textLength="15.0" lengthAdjust="spacingAndGlyphs" stroke="#000" stroke-width="0.25">0.04</text>
<line x1="568.80" y1="738.80" x2="571.00" y2="738.80" stroke="#000" stroke-width="0.9" />
<text x="568.00" y="742.02" font-size="9.0" font-family='"Liberation Sans", sans-serif' font-weight="normal" text-anchor="end" fill="#000" textLength="15.0" lengthAdjust="spacingAndGlyphs" stroke="#000" stroke-width="0.25">0.02</text>
<line x1="568.80" y1="770.20" x2="571.00" y2="770.20" stroke="#000" stroke-width="0.9" />
<text x="568.00" y="773.42" font-size="9.0" font-family='"Liberation Sans", sans-serif' font-weight="normal" text-anchor="end" fill="#000" textLength="15.0" lengthAdjust="spacingAndGlyphs" stroke="#000" stroke-width="0.25">0.00</text>
<line x1="576.20" y1="767.00" x2="576.20" y2="767.60" stroke="#000" stroke-width="1.0" />
<line x1="575.10" y1="767.10" x2="577.30" y2="767.10" stroke="#000" stroke-width="1.2" />
<rect x="574.35" y="768.05" width="3.70" height="2.15" fill="#fff" stroke="#000" stroke-width="0.9" />
<line x1="583.80" y1="766.80" x2="583.80" y2="767.40" stroke="#000" stroke-width="1.0" />
<line x1="582.60" y1="766.90" x2="585.00" y2="766.90" stroke="#000" stroke-width="1.2" />
<rect x="581.30" y="767.40" width="5.00" height="2.80" fill="#000" stroke="none" stroke-width="0" />
<line x1="580.00" y1="770.20" x2="580.00" y2="772.20" stroke="#000" stroke-width="0.9" />
<line x1="596.40" y1="717.00" x2="596.40" y2="721.80" stroke="#000" stroke-width="1.0" />
<line x1="595.30" y1="717.10" x2="597.50" y2="717.10" stroke="#000" stroke-width="1.2" />
<rect x="594.55" y="722.25" width="3.70" height="47.95" fill="#fff" stroke="#000" stroke-width="0.9" />
<line x1="603.50" y1="681.10" x2="603.50" y2="687.40" stroke="#000" stroke-width="1.0" />
<line x1="602.30" y1="681.20" x2="604.70" y2="681.20" stroke="#000" stroke-width="1.2" />
<rect x="601.00" y="687.40" width="5.00" height="82.80" fill="#000" stroke="none" stroke-width="0" />
<line x1="599.95" y1="770.20" x2="599.95" y2="772.20" stroke="#000" stroke-width="0.9" />
<line x1="615.60" y1="734.10" x2="615.60" y2="738.10" stroke="#000" stroke-width="1.0" />
<line x1="614.50" y1="734.20" x2="616.70" y2="734.20" stroke="#000" stroke-width="1.2" />
<rect x="613.75" y="738.55" width="3.70" height="31.65" fill="#fff" stroke="#000" stroke-width="0.9" />
<line x1="622.90" y1="676.80" x2="622.90" y2="685.40" stroke="#000" stroke-width="1.0" />
<line x1="621.70" y1="676.90" x2="624.10" y2="676.90" stroke="#000" stroke-width="1.2" />
<rect x="620.40" y="685.40" width="5.00" height="84.80" fill="#000" stroke="none" stroke-width="0" />
<line x1="619.25" y1="770.20" x2="619.25" y2="772.20" stroke="#000" stroke-width="0.9" />
<line x1="635.60" y1="724.70" x2="635.60" y2="732.40" stroke="#000" stroke-width="1.0" />
<line x1="634.50" y1="724.80" x2="636.70" y2="724.80" stroke="#000" stroke-width="1.2" />
<rect x="633.75" y="732.85" width="3.70" height="37.35" fill="#fff" stroke="#000" stroke-width="0.9" />
<line x1="642.90" y1="694.00" x2="642.90" y2="700.90" stroke="#000" stroke-width="1.0" />
<line x1="641.70" y1="694.10" x2="644.10" y2="694.10" stroke="#000" stroke-width="1.2" />
<rect x="640.40" y="700.90" width="5.00" height="69.30" fill="#000" stroke="none" stroke-width="0" />
<line x1="639.25" y1="770.20" x2="639.25" y2="772.20" stroke="#000" stroke-width="0.9" />
<line x1="654.90" y1="741.00" x2="654.90" y2="742.40" stroke="#000" stroke-width="1.0" />
<line x1="653.80" y1="741.10" x2="656.00" y2="741.10" stroke="#000" stroke-width="1.2" />
<rect x="653.05" y="742.85" width="3.70" height="27.35" fill="#fff" stroke="#000" stroke-width="0.9" />
<line x1="662.10" y1="673.10" x2="662.10" y2="688.90" stroke="#000" stroke-width="1.0" />
<line x1="660.90" y1="673.20" x2="663.30" y2="673.20" stroke="#000" stroke-width="1.2" />
<rect x="659.60" y="688.90" width="5.00" height="81.30" fill="#000" stroke="none" stroke-width="0" />
<line x1="658.50" y1="770.20" x2="658.50" y2="772.20" stroke="#000" stroke-width="0.9" />
<text x="617.40" y="630.50" font-size="10.6" font-family='"Liberation Sans", sans-serif' font-weight="bold" text-anchor="middle" fill="#000" >IL-6</text>
<rect x="577.00" y="648.80" width="4.60" height="4.60" fill="#fff" stroke="#000" stroke-width="1.2" />
<text x="586.50" y="653.90" font-size="8.2" font-family='"Liberation Sans", sans-serif' font-weight="normal" text-anchor="start" fill="#1e1e1e" >WT</text>
<rect x="576.40" y="657.40" width="5.80" height="5.80" fill="#000" stroke="none" stroke-width="0" />
<text x="586.50" y="663.10" font-size="8.2" font-family='"Liberation Sans", sans-serif' font-weight="normal" text-anchor="start" fill="#1e1e1e" >KO</text>
<text x="582.60" y="777.60" font-size="8.0" font-family='"Liberation Sans", sans-serif' font-weight="bold" text-anchor="end" fill="#000" transform="rotate(-45 582.60 777.60)" >Control</text>
<text x="602.55" y="777.60" font-size="8.0" font-family='"Liberation Sans", sans-serif' font-weight="bold" text-anchor="end" fill="#000" transform="rotate(-45 602.55 777.60)" >LPS</text>
<text x="621.85" y="777.60" font-size="8.0" font-family='"Liberation Sans", sans-serif' font-weight="bold" text-anchor="end" fill="#000" transform="rotate(-45 621.85 777.60)" >Isotype+LPS</text>
<text x="641.85" y="777.60" font-size="8.0" font-family='"Liberation Sans", sans-serif' font-weight="bold" text-anchor="end" fill="#000" transform="rotate(-45 641.85 777.60)" >αTLR4+LPS</text>
<text x="661.10" y="777.60" font-size="8.0" font-family='"Liberation Sans", sans-serif' font-weight="bold" text-anchor="end" fill="#000" transform="rotate(-45 661.10 777.60)" >C34+LPS</text>
<text x="549.20" y="705.00" font-size="8.4" font-family='"Liberation Sans", sans-serif' font-weight="bold" text-anchor="middle" fill="#000" textLength="132.7" lengthAdjust="spacingAndGlyphs" transform="rotate(-90 549.20 705.00)" >Relative IL-6 mRNA Expression</text>
</g>
</svg>
</body></html>
